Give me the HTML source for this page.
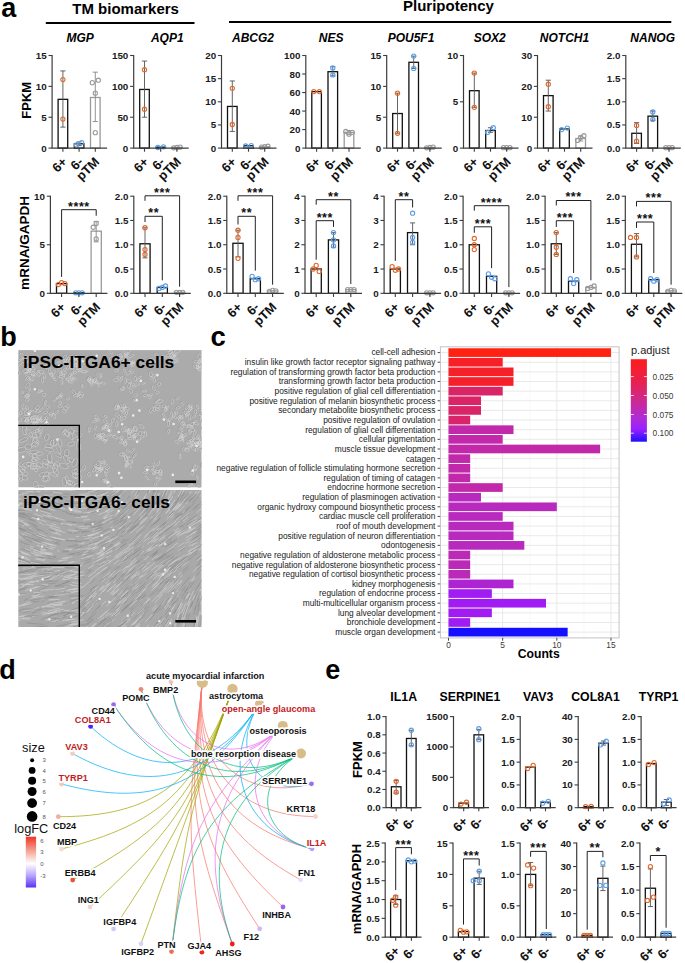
<!DOCTYPE html>
<html><head><meta charset="utf-8"><style>
html,body{margin:0;padding:0;background:#fff;}
body{width:685px;height:963px;overflow:hidden;}
svg{display:block;font-family:"Liberation Sans",sans-serif;}
</style></head><body>
<svg width="685" height="963" viewBox="0 0 685 963">
<rect width="685" height="963" fill="#fff"/>
<text x="1.2" y="16.6" font-size="27" font-weight="bold" text-anchor="start" fill="#000" >a</text>
<text x="125.6" y="14.3" font-size="15" font-weight="bold" text-anchor="middle" fill="#000" >TM biomarkers</text>
<text x="448.4" y="10.9" font-size="15" font-weight="bold" text-anchor="middle" fill="#000" >Pluripotency</text>
<line x1="45.8" y1="23" x2="194.5" y2="23" stroke="#000" stroke-width="2.2" />
<line x1="229" y1="22" x2="671.3" y2="22" stroke="#000" stroke-width="2.2" />
<text x="80.2" y="42" font-size="12" font-weight="bold" text-anchor="middle" fill="#000" font-style="italic" >MGP</text>
<text x="167.3" y="42" font-size="12" font-weight="bold" text-anchor="middle" fill="#000" font-style="italic" >AQP1</text>
<text x="253" y="42" font-size="12" font-weight="bold" text-anchor="middle" fill="#000" font-style="italic" >ABCG2</text>
<text x="331.2" y="42" font-size="12" font-weight="bold" text-anchor="middle" fill="#000" font-style="italic" >NES</text>
<text x="411" y="42" font-size="12" font-weight="bold" text-anchor="middle" fill="#000" font-style="italic" >POU5F1</text>
<text x="489.7" y="42" font-size="12" font-weight="bold" text-anchor="middle" fill="#000" font-style="italic" >SOX2</text>
<text x="564.5" y="42" font-size="12" font-weight="bold" text-anchor="middle" fill="#000" font-style="italic" >NOTCH1</text>
<text x="652.7" y="42" font-size="12" font-weight="bold" text-anchor="middle" fill="#000" font-style="italic" >NANOG</text>
<text x="0" y="0" font-size="13" font-weight="bold" text-anchor="middle" fill="#000" transform="translate(30.6,100.3) rotate(-90)">FPKM</text>
<text x="0" y="0" font-size="13.5" font-weight="bold" text-anchor="middle" fill="#000" transform="translate(28.6,243) rotate(-90)">mRNA/GAPDH</text>
<rect x="58.1" y="99.33" width="9.6" height="48.77" fill="#fff" stroke="#111" stroke-width="1.3"/>
<line x1="62.9" y1="127.11" x2="62.9" y2="70.93" stroke="#555" stroke-width="0.9" />
<line x1="60.3" y1="70.93" x2="65.5" y2="70.93" stroke="#555" stroke-width="0.9" />
<line x1="60.3" y1="127.11" x2="65.5" y2="127.11" stroke="#555" stroke-width="0.9" />
<circle cx="62.9" cy="79.58" r="2.1" fill="none" stroke="#e2692c" stroke-width="1.1"/>
<circle cx="62.9" cy="119.09" r="2.1" fill="none" stroke="#e2692c" stroke-width="1.1"/>
<rect x="74.3" y="143.78" width="9.6" height="4.32" fill="#fff" stroke="#111" stroke-width="1.3"/>
<line x1="79.1" y1="145.63" x2="79.1" y2="141.93" stroke="#555" stroke-width="0.9" />
<line x1="76.5" y1="141.93" x2="81.7" y2="141.93" stroke="#555" stroke-width="0.9" />
<line x1="76.5" y1="145.63" x2="81.7" y2="145.63" stroke="#555" stroke-width="0.9" />
<circle cx="76.5" cy="145.01" r="2.1" fill="none" stroke="#5c9fe6" stroke-width="1.1"/>
<circle cx="81.7" cy="142.54" r="2.1" fill="none" stroke="#5c9fe6" stroke-width="1.1"/>
<rect x="90.5" y="97.48" width="9.6" height="50.62" fill="#fff" stroke="#9a9a9a" stroke-width="1.3"/>
<line x1="95.3" y1="121.55" x2="95.3" y2="72.17" stroke="#888" stroke-width="0.9" />
<line x1="92.7" y1="72.17" x2="97.9" y2="72.17" stroke="#888" stroke-width="0.9" />
<line x1="92.7" y1="121.55" x2="97.9" y2="121.55" stroke="#888" stroke-width="0.9" />
<circle cx="92.3" cy="82.66" r="2.1" fill="none" stroke="#9a9a9a" stroke-width="1.1"/>
<circle cx="98.3" cy="80.19" r="2.1" fill="none" stroke="#9a9a9a" stroke-width="1.1"/>
<circle cx="95.3" cy="93.16" r="2.1" fill="none" stroke="#9a9a9a" stroke-width="1.1"/>
<circle cx="95.3" cy="132.67" r="2.1" fill="none" stroke="#9a9a9a" stroke-width="1.1"/>
<line x1="52.1" y1="55" x2="52.1" y2="148.1" stroke="#3c3c3c" stroke-width="1.2" />
<line x1="51.6" y1="148.1" x2="107.1" y2="148.1" stroke="#3c3c3c" stroke-width="1.2" />
<line x1="48.5" y1="148.1" x2="52.1" y2="148.1" stroke="#3c3c3c" stroke-width="1.1" />
<text x="46.7" y="151.6" font-size="9.8" font-weight="bold" text-anchor="end" fill="#1a1a1a" >0</text>
<line x1="48.5" y1="117.23" x2="52.1" y2="117.23" stroke="#3c3c3c" stroke-width="1.1" />
<text x="46.7" y="120.73" font-size="9.8" font-weight="bold" text-anchor="end" fill="#1a1a1a" >5</text>
<line x1="48.5" y1="86.37" x2="52.1" y2="86.37" stroke="#3c3c3c" stroke-width="1.1" />
<text x="46.7" y="89.87" font-size="9.8" font-weight="bold" text-anchor="end" fill="#1a1a1a" >10</text>
<line x1="48.5" y1="55.5" x2="52.1" y2="55.5" stroke="#3c3c3c" stroke-width="1.1" />
<text x="46.7" y="59" font-size="9.8" font-weight="bold" text-anchor="end" fill="#1a1a1a" >15</text>
<line x1="62.9" y1="148.1" x2="62.9" y2="151.7" stroke="#3c3c3c" stroke-width="1.1" />
<line x1="79.1" y1="148.1" x2="79.1" y2="151.7" stroke="#3c3c3c" stroke-width="1.1" />
<line x1="95.3" y1="148.1" x2="95.3" y2="151.7" stroke="#3c3c3c" stroke-width="1.1" />
<text x="0" y="0" font-size="12.8" font-weight="bold" text-anchor="end" fill="#111" transform="translate(67.7,162.7) rotate(-45)">6+</text>
<text x="0" y="0" font-size="12.8" font-weight="bold" text-anchor="end" fill="#111" transform="translate(83.9,162.7) rotate(-45)">6-</text>
<text x="0" y="0" font-size="12.8" font-weight="bold" text-anchor="end" fill="#111" transform="translate(100.1,162.7) rotate(-45)">pTM</text>
<rect x="139.7" y="89.45" width="9.6" height="58.65" fill="#fff" stroke="#111" stroke-width="1.3"/>
<line x1="144.5" y1="117.23" x2="144.5" y2="61.06" stroke="#555" stroke-width="0.9" />
<line x1="141.9" y1="61.06" x2="147.1" y2="61.06" stroke="#555" stroke-width="0.9" />
<line x1="141.9" y1="117.23" x2="147.1" y2="117.23" stroke="#555" stroke-width="0.9" />
<circle cx="144.5" cy="69.7" r="2.1" fill="none" stroke="#e2692c" stroke-width="1.1"/>
<circle cx="144.5" cy="109.21" r="2.1" fill="none" stroke="#e2692c" stroke-width="1.1"/>
<rect x="155.9" y="147.17" width="9.6" height="0.93" fill="#fff" stroke="#111" stroke-width="1.3"/>
<circle cx="157.9" cy="147.48" r="2.1" fill="none" stroke="#5c9fe6" stroke-width="1.1"/>
<circle cx="163.5" cy="146.87" r="2.1" fill="none" stroke="#5c9fe6" stroke-width="1.1"/>
<rect x="172.1" y="147.48" width="9.6" height="0.62" fill="#fff" stroke="#9a9a9a" stroke-width="1.3"/>
<circle cx="173.7" cy="147.79" r="2.1" fill="none" stroke="#9a9a9a" stroke-width="1.1"/>
<circle cx="176.9" cy="147.48" r="2.1" fill="none" stroke="#9a9a9a" stroke-width="1.1"/>
<circle cx="180.1" cy="147.17" r="2.1" fill="none" stroke="#9a9a9a" stroke-width="1.1"/>
<line x1="133.7" y1="55" x2="133.7" y2="148.1" stroke="#3c3c3c" stroke-width="1.2" />
<line x1="133.2" y1="148.1" x2="188.7" y2="148.1" stroke="#3c3c3c" stroke-width="1.2" />
<line x1="130.1" y1="148.1" x2="133.7" y2="148.1" stroke="#3c3c3c" stroke-width="1.1" />
<text x="128.3" y="151.6" font-size="9.8" font-weight="bold" text-anchor="end" fill="#1a1a1a" >0</text>
<line x1="130.1" y1="117.23" x2="133.7" y2="117.23" stroke="#3c3c3c" stroke-width="1.1" />
<text x="128.3" y="120.73" font-size="9.8" font-weight="bold" text-anchor="end" fill="#1a1a1a" >50</text>
<line x1="130.1" y1="86.37" x2="133.7" y2="86.37" stroke="#3c3c3c" stroke-width="1.1" />
<text x="128.3" y="89.87" font-size="9.8" font-weight="bold" text-anchor="end" fill="#1a1a1a" >100</text>
<line x1="130.1" y1="55.5" x2="133.7" y2="55.5" stroke="#3c3c3c" stroke-width="1.1" />
<text x="128.3" y="59" font-size="9.8" font-weight="bold" text-anchor="end" fill="#1a1a1a" >150</text>
<line x1="144.5" y1="148.1" x2="144.5" y2="151.7" stroke="#3c3c3c" stroke-width="1.1" />
<line x1="160.7" y1="148.1" x2="160.7" y2="151.7" stroke="#3c3c3c" stroke-width="1.1" />
<line x1="176.9" y1="148.1" x2="176.9" y2="151.7" stroke="#3c3c3c" stroke-width="1.1" />
<text x="0" y="0" font-size="12.8" font-weight="bold" text-anchor="end" fill="#111" transform="translate(149.3,162.7) rotate(-45)">6+</text>
<text x="0" y="0" font-size="12.8" font-weight="bold" text-anchor="end" fill="#111" transform="translate(165.5,162.7) rotate(-45)">6-</text>
<text x="0" y="0" font-size="12.8" font-weight="bold" text-anchor="end" fill="#111" transform="translate(181.7,162.7) rotate(-45)">pTM</text>
<rect x="227.5" y="106.43" width="9.6" height="41.67" fill="#fff" stroke="#111" stroke-width="1.3"/>
<line x1="232.3" y1="131.43" x2="232.3" y2="80.96" stroke="#555" stroke-width="0.9" />
<line x1="229.7" y1="80.96" x2="234.9" y2="80.96" stroke="#555" stroke-width="0.9" />
<line x1="229.7" y1="131.43" x2="234.9" y2="131.43" stroke="#555" stroke-width="0.9" />
<circle cx="232.3" cy="88.37" r="2.1" fill="none" stroke="#e2692c" stroke-width="1.1"/>
<circle cx="232.3" cy="124.49" r="2.1" fill="none" stroke="#e2692c" stroke-width="1.1"/>
<rect x="243.7" y="145.78" width="9.6" height="2.31" fill="#fff" stroke="#111" stroke-width="1.3"/>
<circle cx="245.7" cy="146.02" r="2.1" fill="none" stroke="#5c9fe6" stroke-width="1.1"/>
<circle cx="251.3" cy="145.55" r="2.1" fill="none" stroke="#5c9fe6" stroke-width="1.1"/>
<rect x="259.9" y="146.71" width="9.6" height="1.39" fill="#fff" stroke="#9a9a9a" stroke-width="1.3"/>
<circle cx="261.5" cy="147.17" r="2.1" fill="none" stroke="#9a9a9a" stroke-width="1.1"/>
<circle cx="264.7" cy="146.71" r="2.1" fill="none" stroke="#9a9a9a" stroke-width="1.1"/>
<circle cx="267.9" cy="146.25" r="2.1" fill="none" stroke="#9a9a9a" stroke-width="1.1"/>
<line x1="221.5" y1="55" x2="221.5" y2="148.1" stroke="#3c3c3c" stroke-width="1.2" />
<line x1="221" y1="148.1" x2="276.5" y2="148.1" stroke="#3c3c3c" stroke-width="1.2" />
<line x1="217.9" y1="148.1" x2="221.5" y2="148.1" stroke="#3c3c3c" stroke-width="1.1" />
<text x="216.1" y="151.6" font-size="9.8" font-weight="bold" text-anchor="end" fill="#1a1a1a" >0</text>
<line x1="217.9" y1="124.95" x2="221.5" y2="124.95" stroke="#3c3c3c" stroke-width="1.1" />
<text x="216.1" y="128.45" font-size="9.8" font-weight="bold" text-anchor="end" fill="#1a1a1a" >5</text>
<line x1="217.9" y1="101.8" x2="221.5" y2="101.8" stroke="#3c3c3c" stroke-width="1.1" />
<text x="216.1" y="105.3" font-size="9.8" font-weight="bold" text-anchor="end" fill="#1a1a1a" >10</text>
<line x1="217.9" y1="78.65" x2="221.5" y2="78.65" stroke="#3c3c3c" stroke-width="1.1" />
<text x="216.1" y="82.15" font-size="9.8" font-weight="bold" text-anchor="end" fill="#1a1a1a" >15</text>
<line x1="217.9" y1="55.5" x2="221.5" y2="55.5" stroke="#3c3c3c" stroke-width="1.1" />
<text x="216.1" y="59" font-size="9.8" font-weight="bold" text-anchor="end" fill="#1a1a1a" >20</text>
<line x1="232.3" y1="148.1" x2="232.3" y2="151.7" stroke="#3c3c3c" stroke-width="1.1" />
<line x1="248.5" y1="148.1" x2="248.5" y2="151.7" stroke="#3c3c3c" stroke-width="1.1" />
<line x1="264.7" y1="148.1" x2="264.7" y2="151.7" stroke="#3c3c3c" stroke-width="1.1" />
<text x="0" y="0" font-size="12.8" font-weight="bold" text-anchor="end" fill="#111" transform="translate(237.1,162.7) rotate(-45)">6+</text>
<text x="0" y="0" font-size="12.8" font-weight="bold" text-anchor="end" fill="#111" transform="translate(253.3,162.7) rotate(-45)">6-</text>
<text x="0" y="0" font-size="12.8" font-weight="bold" text-anchor="end" fill="#111" transform="translate(269.5,162.7) rotate(-45)">pTM</text>
<rect x="311.8" y="91.61" width="9.6" height="56.49" fill="#fff" stroke="#111" stroke-width="1.3"/>
<circle cx="313.8" cy="91.61" r="2.1" fill="none" stroke="#e2692c" stroke-width="1.1"/>
<circle cx="319.4" cy="91.61" r="2.1" fill="none" stroke="#e2692c" stroke-width="1.1"/>
<rect x="328" y="71.7" width="9.6" height="76.39" fill="#fff" stroke="#111" stroke-width="1.3"/>
<line x1="332.8" y1="75.87" x2="332.8" y2="66.61" stroke="#555" stroke-width="0.9" />
<line x1="330.2" y1="66.61" x2="335.4" y2="66.61" stroke="#555" stroke-width="0.9" />
<line x1="330.2" y1="75.87" x2="335.4" y2="75.87" stroke="#555" stroke-width="0.9" />
<circle cx="332.8" cy="68" r="2.1" fill="none" stroke="#5c9fe6" stroke-width="1.1"/>
<circle cx="332.8" cy="74.95" r="2.1" fill="none" stroke="#5c9fe6" stroke-width="1.1"/>
<rect x="344.2" y="132.36" width="9.6" height="15.74" fill="#fff" stroke="#9a9a9a" stroke-width="1.3"/>
<line x1="349" y1="134.67" x2="349" y2="130.51" stroke="#888" stroke-width="0.9" />
<line x1="346.4" y1="130.51" x2="351.6" y2="130.51" stroke="#888" stroke-width="0.9" />
<line x1="346.4" y1="134.67" x2="351.6" y2="134.67" stroke="#888" stroke-width="0.9" />
<circle cx="345.8" cy="131.43" r="2.1" fill="none" stroke="#9a9a9a" stroke-width="1.1"/>
<circle cx="349" cy="134.21" r="2.1" fill="none" stroke="#9a9a9a" stroke-width="1.1"/>
<circle cx="352.2" cy="132.36" r="2.1" fill="none" stroke="#9a9a9a" stroke-width="1.1"/>
<line x1="305.8" y1="55" x2="305.8" y2="148.1" stroke="#3c3c3c" stroke-width="1.2" />
<line x1="305.3" y1="148.1" x2="360.8" y2="148.1" stroke="#3c3c3c" stroke-width="1.2" />
<line x1="302.2" y1="148.1" x2="305.8" y2="148.1" stroke="#3c3c3c" stroke-width="1.1" />
<text x="300.4" y="151.6" font-size="9.8" font-weight="bold" text-anchor="end" fill="#1a1a1a" >0</text>
<line x1="302.2" y1="129.58" x2="305.8" y2="129.58" stroke="#3c3c3c" stroke-width="1.1" />
<text x="300.4" y="133.08" font-size="9.8" font-weight="bold" text-anchor="end" fill="#1a1a1a" >20</text>
<line x1="302.2" y1="111.06" x2="305.8" y2="111.06" stroke="#3c3c3c" stroke-width="1.1" />
<text x="300.4" y="114.56" font-size="9.8" font-weight="bold" text-anchor="end" fill="#1a1a1a" >40</text>
<line x1="302.2" y1="92.54" x2="305.8" y2="92.54" stroke="#3c3c3c" stroke-width="1.1" />
<text x="300.4" y="96.04" font-size="9.8" font-weight="bold" text-anchor="end" fill="#1a1a1a" >60</text>
<line x1="302.2" y1="74.02" x2="305.8" y2="74.02" stroke="#3c3c3c" stroke-width="1.1" />
<text x="300.4" y="77.52" font-size="9.8" font-weight="bold" text-anchor="end" fill="#1a1a1a" >80</text>
<line x1="302.2" y1="55.5" x2="305.8" y2="55.5" stroke="#3c3c3c" stroke-width="1.1" />
<text x="300.4" y="59" font-size="9.8" font-weight="bold" text-anchor="end" fill="#1a1a1a" >100</text>
<line x1="316.6" y1="148.1" x2="316.6" y2="151.7" stroke="#3c3c3c" stroke-width="1.1" />
<line x1="332.8" y1="148.1" x2="332.8" y2="151.7" stroke="#3c3c3c" stroke-width="1.1" />
<line x1="349" y1="148.1" x2="349" y2="151.7" stroke="#3c3c3c" stroke-width="1.1" />
<text x="0" y="0" font-size="12.8" font-weight="bold" text-anchor="end" fill="#111" transform="translate(321.4,162.7) rotate(-45)">6+</text>
<text x="0" y="0" font-size="12.8" font-weight="bold" text-anchor="end" fill="#111" transform="translate(337.6,162.7) rotate(-45)">6-</text>
<text x="0" y="0" font-size="12.8" font-weight="bold" text-anchor="end" fill="#111" transform="translate(353.8,162.7) rotate(-45)">pTM</text>
<rect x="392.7" y="113.53" width="9.6" height="34.57" fill="#fff" stroke="#111" stroke-width="1.3"/>
<line x1="397.5" y1="133.28" x2="397.5" y2="93.16" stroke="#555" stroke-width="0.9" />
<line x1="394.9" y1="93.16" x2="400.1" y2="93.16" stroke="#555" stroke-width="0.9" />
<line x1="394.9" y1="133.28" x2="400.1" y2="133.28" stroke="#555" stroke-width="0.9" />
<circle cx="397.5" cy="93.16" r="2.1" fill="none" stroke="#e2692c" stroke-width="1.1"/>
<circle cx="397.5" cy="133.28" r="2.1" fill="none" stroke="#e2692c" stroke-width="1.1"/>
<rect x="408.9" y="62.29" width="9.6" height="85.81" fill="#fff" stroke="#111" stroke-width="1.3"/>
<line x1="413.7" y1="68.46" x2="413.7" y2="56.12" stroke="#555" stroke-width="0.9" />
<line x1="411.1" y1="56.12" x2="416.3" y2="56.12" stroke="#555" stroke-width="0.9" />
<line x1="411.1" y1="68.46" x2="416.3" y2="68.46" stroke="#555" stroke-width="0.9" />
<circle cx="413.7" cy="56.12" r="2.1" fill="none" stroke="#5c9fe6" stroke-width="1.1"/>
<circle cx="413.7" cy="68.46" r="2.1" fill="none" stroke="#5c9fe6" stroke-width="1.1"/>
<rect x="425.1" y="147.48" width="9.6" height="0.62" fill="#fff" stroke="#9a9a9a" stroke-width="1.3"/>
<circle cx="426.7" cy="147.79" r="2.1" fill="none" stroke="#9a9a9a" stroke-width="1.1"/>
<circle cx="429.9" cy="147.48" r="2.1" fill="none" stroke="#9a9a9a" stroke-width="1.1"/>
<circle cx="433.1" cy="147.17" r="2.1" fill="none" stroke="#9a9a9a" stroke-width="1.1"/>
<line x1="386.7" y1="55" x2="386.7" y2="148.1" stroke="#3c3c3c" stroke-width="1.2" />
<line x1="386.2" y1="148.1" x2="441.7" y2="148.1" stroke="#3c3c3c" stroke-width="1.2" />
<line x1="383.1" y1="148.1" x2="386.7" y2="148.1" stroke="#3c3c3c" stroke-width="1.1" />
<text x="381.3" y="151.6" font-size="9.8" font-weight="bold" text-anchor="end" fill="#1a1a1a" >0</text>
<line x1="383.1" y1="117.23" x2="386.7" y2="117.23" stroke="#3c3c3c" stroke-width="1.1" />
<text x="381.3" y="120.73" font-size="9.8" font-weight="bold" text-anchor="end" fill="#1a1a1a" >5</text>
<line x1="383.1" y1="86.37" x2="386.7" y2="86.37" stroke="#3c3c3c" stroke-width="1.1" />
<text x="381.3" y="89.87" font-size="9.8" font-weight="bold" text-anchor="end" fill="#1a1a1a" >10</text>
<line x1="383.1" y1="55.5" x2="386.7" y2="55.5" stroke="#3c3c3c" stroke-width="1.1" />
<text x="381.3" y="59" font-size="9.8" font-weight="bold" text-anchor="end" fill="#1a1a1a" >15</text>
<line x1="397.5" y1="148.1" x2="397.5" y2="151.7" stroke="#3c3c3c" stroke-width="1.1" />
<line x1="413.7" y1="148.1" x2="413.7" y2="151.7" stroke="#3c3c3c" stroke-width="1.1" />
<line x1="429.9" y1="148.1" x2="429.9" y2="151.7" stroke="#3c3c3c" stroke-width="1.1" />
<text x="0" y="0" font-size="12.8" font-weight="bold" text-anchor="end" fill="#111" transform="translate(402.3,162.7) rotate(-45)">6+</text>
<text x="0" y="0" font-size="12.8" font-weight="bold" text-anchor="end" fill="#111" transform="translate(418.5,162.7) rotate(-45)">6-</text>
<text x="0" y="0" font-size="12.8" font-weight="bold" text-anchor="end" fill="#111" transform="translate(434.7,162.7) rotate(-45)">pTM</text>
<rect x="469.5" y="90.69" width="9.6" height="57.41" fill="#fff" stroke="#111" stroke-width="1.3"/>
<line x1="474.3" y1="107.36" x2="474.3" y2="73.09" stroke="#555" stroke-width="0.9" />
<line x1="471.7" y1="73.09" x2="476.9" y2="73.09" stroke="#555" stroke-width="0.9" />
<line x1="471.7" y1="107.36" x2="476.9" y2="107.36" stroke="#555" stroke-width="0.9" />
<circle cx="474.3" cy="73.09" r="2.1" fill="none" stroke="#e2692c" stroke-width="1.1"/>
<circle cx="474.3" cy="107.36" r="2.1" fill="none" stroke="#e2692c" stroke-width="1.1"/>
<rect x="485.7" y="130.51" width="9.6" height="17.59" fill="#fff" stroke="#111" stroke-width="1.3"/>
<line x1="490.5" y1="132.36" x2="490.5" y2="127.73" stroke="#555" stroke-width="0.9" />
<line x1="487.9" y1="127.73" x2="493.1" y2="127.73" stroke="#555" stroke-width="0.9" />
<line x1="487.9" y1="132.36" x2="493.1" y2="132.36" stroke="#555" stroke-width="0.9" />
<circle cx="487.7" cy="132.36" r="2.1" fill="none" stroke="#5c9fe6" stroke-width="1.1"/>
<circle cx="493.3" cy="127.73" r="2.1" fill="none" stroke="#5c9fe6" stroke-width="1.1"/>
<rect x="501.9" y="147.64" width="9.6" height="0.46" fill="#fff" stroke="#9a9a9a" stroke-width="1.3"/>
<circle cx="503.5" cy="147.64" r="2.1" fill="none" stroke="#9a9a9a" stroke-width="1.1"/>
<circle cx="506.7" cy="147.64" r="2.1" fill="none" stroke="#9a9a9a" stroke-width="1.1"/>
<circle cx="509.9" cy="147.64" r="2.1" fill="none" stroke="#9a9a9a" stroke-width="1.1"/>
<line x1="463.5" y1="55" x2="463.5" y2="148.1" stroke="#3c3c3c" stroke-width="1.2" />
<line x1="463" y1="148.1" x2="518.5" y2="148.1" stroke="#3c3c3c" stroke-width="1.2" />
<line x1="459.9" y1="148.1" x2="463.5" y2="148.1" stroke="#3c3c3c" stroke-width="1.1" />
<text x="458.1" y="151.6" font-size="9.8" font-weight="bold" text-anchor="end" fill="#1a1a1a" >0</text>
<line x1="459.9" y1="101.8" x2="463.5" y2="101.8" stroke="#3c3c3c" stroke-width="1.1" />
<text x="458.1" y="105.3" font-size="9.8" font-weight="bold" text-anchor="end" fill="#1a1a1a" >5</text>
<line x1="459.9" y1="55.5" x2="463.5" y2="55.5" stroke="#3c3c3c" stroke-width="1.1" />
<text x="458.1" y="59" font-size="9.8" font-weight="bold" text-anchor="end" fill="#1a1a1a" >10</text>
<line x1="474.3" y1="148.1" x2="474.3" y2="151.7" stroke="#3c3c3c" stroke-width="1.1" />
<line x1="490.5" y1="148.1" x2="490.5" y2="151.7" stroke="#3c3c3c" stroke-width="1.1" />
<line x1="506.7" y1="148.1" x2="506.7" y2="151.7" stroke="#3c3c3c" stroke-width="1.1" />
<text x="0" y="0" font-size="12.8" font-weight="bold" text-anchor="end" fill="#111" transform="translate(479.1,162.7) rotate(-45)">6+</text>
<text x="0" y="0" font-size="12.8" font-weight="bold" text-anchor="end" fill="#111" transform="translate(495.3,162.7) rotate(-45)">6-</text>
<text x="0" y="0" font-size="12.8" font-weight="bold" text-anchor="end" fill="#111" transform="translate(511.5,162.7) rotate(-45)">pTM</text>
<rect x="543.5" y="95.63" width="9.6" height="52.47" fill="#fff" stroke="#111" stroke-width="1.3"/>
<line x1="548.3" y1="111.06" x2="548.3" y2="80.19" stroke="#555" stroke-width="0.9" />
<line x1="545.7" y1="80.19" x2="550.9" y2="80.19" stroke="#555" stroke-width="0.9" />
<line x1="545.7" y1="111.06" x2="550.9" y2="111.06" stroke="#555" stroke-width="0.9" />
<circle cx="548.3" cy="84.21" r="2.1" fill="none" stroke="#e2692c" stroke-width="1.1"/>
<circle cx="548.3" cy="106.74" r="2.1" fill="none" stroke="#e2692c" stroke-width="1.1"/>
<rect x="559.7" y="128.96" width="9.6" height="19.14" fill="#fff" stroke="#111" stroke-width="1.3"/>
<circle cx="561.7" cy="129.58" r="2.1" fill="none" stroke="#5c9fe6" stroke-width="1.1"/>
<circle cx="567.3" cy="128.04" r="2.1" fill="none" stroke="#5c9fe6" stroke-width="1.1"/>
<rect x="575.9" y="138.53" width="9.6" height="9.57" fill="#fff" stroke="#9a9a9a" stroke-width="1.3"/>
<line x1="580.7" y1="141" x2="580.7" y2="136.06" stroke="#888" stroke-width="0.9" />
<line x1="578.1" y1="136.06" x2="583.3" y2="136.06" stroke="#888" stroke-width="0.9" />
<line x1="578.1" y1="141" x2="583.3" y2="141" stroke="#888" stroke-width="0.9" />
<circle cx="577.5" cy="140.38" r="2.1" fill="none" stroke="#9a9a9a" stroke-width="1.1"/>
<circle cx="580.7" cy="137.3" r="2.1" fill="none" stroke="#9a9a9a" stroke-width="1.1"/>
<circle cx="583.9" cy="135.75" r="2.1" fill="none" stroke="#9a9a9a" stroke-width="1.1"/>
<line x1="537.5" y1="55" x2="537.5" y2="148.1" stroke="#3c3c3c" stroke-width="1.2" />
<line x1="537" y1="148.1" x2="592.5" y2="148.1" stroke="#3c3c3c" stroke-width="1.2" />
<line x1="533.9" y1="148.1" x2="537.5" y2="148.1" stroke="#3c3c3c" stroke-width="1.1" />
<text x="532.1" y="151.6" font-size="9.8" font-weight="bold" text-anchor="end" fill="#1a1a1a" >0</text>
<line x1="533.9" y1="117.23" x2="537.5" y2="117.23" stroke="#3c3c3c" stroke-width="1.1" />
<text x="532.1" y="120.73" font-size="9.8" font-weight="bold" text-anchor="end" fill="#1a1a1a" >10</text>
<line x1="533.9" y1="86.37" x2="537.5" y2="86.37" stroke="#3c3c3c" stroke-width="1.1" />
<text x="532.1" y="89.87" font-size="9.8" font-weight="bold" text-anchor="end" fill="#1a1a1a" >20</text>
<line x1="533.9" y1="55.5" x2="537.5" y2="55.5" stroke="#3c3c3c" stroke-width="1.1" />
<text x="532.1" y="59" font-size="9.8" font-weight="bold" text-anchor="end" fill="#1a1a1a" >30</text>
<line x1="548.3" y1="148.1" x2="548.3" y2="151.7" stroke="#3c3c3c" stroke-width="1.1" />
<line x1="564.5" y1="148.1" x2="564.5" y2="151.7" stroke="#3c3c3c" stroke-width="1.1" />
<line x1="580.7" y1="148.1" x2="580.7" y2="151.7" stroke="#3c3c3c" stroke-width="1.1" />
<text x="0" y="0" font-size="12.8" font-weight="bold" text-anchor="end" fill="#111" transform="translate(553.1,162.7) rotate(-45)">6+</text>
<text x="0" y="0" font-size="12.8" font-weight="bold" text-anchor="end" fill="#111" transform="translate(569.3,162.7) rotate(-45)">6-</text>
<text x="0" y="0" font-size="12.8" font-weight="bold" text-anchor="end" fill="#111" transform="translate(585.5,162.7) rotate(-45)">pTM</text>
<rect x="631.8" y="133.28" width="9.6" height="14.82" fill="#fff" stroke="#111" stroke-width="1.3"/>
<line x1="636.6" y1="143.47" x2="636.6" y2="122.63" stroke="#555" stroke-width="0.9" />
<line x1="634" y1="122.63" x2="639.2" y2="122.63" stroke="#555" stroke-width="0.9" />
<line x1="634" y1="143.47" x2="639.2" y2="143.47" stroke="#555" stroke-width="0.9" />
<circle cx="636.6" cy="125.41" r="2.1" fill="none" stroke="#e2692c" stroke-width="1.1"/>
<circle cx="636.6" cy="141.16" r="2.1" fill="none" stroke="#e2692c" stroke-width="1.1"/>
<rect x="648" y="116.15" width="9.6" height="31.95" fill="#fff" stroke="#111" stroke-width="1.3"/>
<line x1="652.8" y1="120.32" x2="652.8" y2="111.06" stroke="#555" stroke-width="0.9" />
<line x1="650.2" y1="111.06" x2="655.4" y2="111.06" stroke="#555" stroke-width="0.9" />
<line x1="650.2" y1="120.32" x2="655.4" y2="120.32" stroke="#555" stroke-width="0.9" />
<circle cx="652.8" cy="111.99" r="2.1" fill="none" stroke="#5c9fe6" stroke-width="1.1"/>
<circle cx="652.8" cy="119.39" r="2.1" fill="none" stroke="#5c9fe6" stroke-width="1.1"/>
<rect x="664.2" y="147.64" width="9.6" height="0.46" fill="#fff" stroke="#9a9a9a" stroke-width="1.3"/>
<circle cx="665.8" cy="147.64" r="2.1" fill="none" stroke="#9a9a9a" stroke-width="1.1"/>
<circle cx="669" cy="147.64" r="2.1" fill="none" stroke="#9a9a9a" stroke-width="1.1"/>
<circle cx="672.2" cy="147.64" r="2.1" fill="none" stroke="#9a9a9a" stroke-width="1.1"/>
<line x1="625.8" y1="55" x2="625.8" y2="148.1" stroke="#3c3c3c" stroke-width="1.2" />
<line x1="625.3" y1="148.1" x2="680.8" y2="148.1" stroke="#3c3c3c" stroke-width="1.2" />
<line x1="622.2" y1="148.1" x2="625.8" y2="148.1" stroke="#3c3c3c" stroke-width="1.1" />
<text x="620.4" y="151.6" font-size="9.8" font-weight="bold" text-anchor="end" fill="#1a1a1a" >0.0</text>
<line x1="622.2" y1="124.95" x2="625.8" y2="124.95" stroke="#3c3c3c" stroke-width="1.1" />
<text x="620.4" y="128.45" font-size="9.8" font-weight="bold" text-anchor="end" fill="#1a1a1a" >0.5</text>
<line x1="622.2" y1="101.8" x2="625.8" y2="101.8" stroke="#3c3c3c" stroke-width="1.1" />
<text x="620.4" y="105.3" font-size="9.8" font-weight="bold" text-anchor="end" fill="#1a1a1a" >1.0</text>
<line x1="622.2" y1="78.65" x2="625.8" y2="78.65" stroke="#3c3c3c" stroke-width="1.1" />
<text x="620.4" y="82.15" font-size="9.8" font-weight="bold" text-anchor="end" fill="#1a1a1a" >1.5</text>
<line x1="622.2" y1="55.5" x2="625.8" y2="55.5" stroke="#3c3c3c" stroke-width="1.1" />
<text x="620.4" y="59" font-size="9.8" font-weight="bold" text-anchor="end" fill="#1a1a1a" >2.0</text>
<line x1="636.6" y1="148.1" x2="636.6" y2="151.7" stroke="#3c3c3c" stroke-width="1.1" />
<line x1="652.8" y1="148.1" x2="652.8" y2="151.7" stroke="#3c3c3c" stroke-width="1.1" />
<line x1="669" y1="148.1" x2="669" y2="151.7" stroke="#3c3c3c" stroke-width="1.1" />
<text x="0" y="0" font-size="12.8" font-weight="bold" text-anchor="end" fill="#111" transform="translate(641.4,162.7) rotate(-45)">6+</text>
<text x="0" y="0" font-size="12.8" font-weight="bold" text-anchor="end" fill="#111" transform="translate(657.6,162.7) rotate(-45)">6-</text>
<text x="0" y="0" font-size="12.8" font-weight="bold" text-anchor="end" fill="#111" transform="translate(673.8,162.7) rotate(-45)">pTM</text>
<rect x="56.5" y="283.59" width="10.2" height="9.71" fill="#fff" stroke="#111" stroke-width="1.3"/>
<circle cx="58.4" cy="284.56" r="2.1" fill="none" stroke="#e2692c" stroke-width="1.1"/>
<circle cx="61.6" cy="282.62" r="2.1" fill="none" stroke="#e2692c" stroke-width="1.1"/>
<circle cx="64.8" cy="283.59" r="2.1" fill="none" stroke="#e2692c" stroke-width="1.1"/>
<rect x="73.8" y="292.81" width="10.2" height="0.49" fill="#fff" stroke="#111" stroke-width="1.3"/>
<circle cx="75.7" cy="292.81" r="2.1" fill="none" stroke="#5c9fe6" stroke-width="1.1"/>
<circle cx="78.9" cy="292.81" r="2.1" fill="none" stroke="#5c9fe6" stroke-width="1.1"/>
<circle cx="82.1" cy="292.81" r="2.1" fill="none" stroke="#5c9fe6" stroke-width="1.1"/>
<rect x="91.1" y="231.16" width="10.2" height="62.14" fill="#fff" stroke="#9a9a9a" stroke-width="1.3"/>
<line x1="96.2" y1="241.84" x2="96.2" y2="221.45" stroke="#888" stroke-width="0.9" />
<line x1="93.6" y1="221.45" x2="98.8" y2="221.45" stroke="#888" stroke-width="0.9" />
<line x1="93.6" y1="241.84" x2="98.8" y2="241.84" stroke="#888" stroke-width="0.9" />
<circle cx="96.2" cy="223.39" r="2.1" fill="none" stroke="#9a9a9a" stroke-width="1.1"/>
<circle cx="93.2" cy="227.27" r="2.1" fill="none" stroke="#9a9a9a" stroke-width="1.1"/>
<circle cx="96.2" cy="238.92" r="2.1" fill="none" stroke="#9a9a9a" stroke-width="1.1"/>
<line x1="50.4" y1="195.7" x2="50.4" y2="293.3" stroke="#3c3c3c" stroke-width="1.2" />
<line x1="49.9" y1="293.3" x2="107.4" y2="293.3" stroke="#3c3c3c" stroke-width="1.2" />
<line x1="46.8" y1="293.3" x2="50.4" y2="293.3" stroke="#3c3c3c" stroke-width="1.1" />
<text x="45" y="296.8" font-size="9.8" font-weight="bold" text-anchor="end" fill="#1a1a1a" >0</text>
<line x1="46.8" y1="244.75" x2="50.4" y2="244.75" stroke="#3c3c3c" stroke-width="1.1" />
<text x="45" y="248.25" font-size="9.8" font-weight="bold" text-anchor="end" fill="#1a1a1a" >5</text>
<line x1="46.8" y1="196.2" x2="50.4" y2="196.2" stroke="#3c3c3c" stroke-width="1.1" />
<text x="45" y="199.7" font-size="9.8" font-weight="bold" text-anchor="end" fill="#1a1a1a" >10</text>
<line x1="61.6" y1="293.3" x2="61.6" y2="296.9" stroke="#3c3c3c" stroke-width="1.1" />
<line x1="78.9" y1="293.3" x2="78.9" y2="296.9" stroke="#3c3c3c" stroke-width="1.1" />
<line x1="96.2" y1="293.3" x2="96.2" y2="296.9" stroke="#3c3c3c" stroke-width="1.1" />
<text x="0" y="0" font-size="12.8" font-weight="bold" text-anchor="end" fill="#111" transform="translate(66.4,307.9) rotate(-45)">6+</text>
<text x="0" y="0" font-size="12.8" font-weight="bold" text-anchor="end" fill="#111" transform="translate(83.7,307.9) rotate(-45)">6-</text>
<text x="0" y="0" font-size="12.8" font-weight="bold" text-anchor="end" fill="#111" transform="translate(101,307.9) rotate(-45)">pTM</text>
<polyline points="61.6,276.92 61.6,209.7 96.2,209.7 96.2,215.75" fill="none" stroke="#222" stroke-width="1.0"/>
<text x="78.9" y="210.6" font-size="12.5" font-weight="bold" text-anchor="middle" fill="#111" letter-spacing="0.6">****</text>
<rect x="139.9" y="243.78" width="10.2" height="49.52" fill="#fff" stroke="#111" stroke-width="1.3"/>
<line x1="145" y1="257.86" x2="145" y2="227.76" stroke="#555" stroke-width="0.9" />
<line x1="142.4" y1="227.76" x2="147.6" y2="227.76" stroke="#555" stroke-width="0.9" />
<line x1="142.4" y1="257.86" x2="147.6" y2="257.86" stroke="#555" stroke-width="0.9" />
<circle cx="145" cy="227.76" r="2.1" fill="none" stroke="#e2692c" stroke-width="1.1"/>
<circle cx="145" cy="249.6" r="2.1" fill="none" stroke="#e2692c" stroke-width="1.1"/>
<circle cx="145" cy="254.46" r="2.1" fill="none" stroke="#e2692c" stroke-width="1.1"/>
<rect x="157.2" y="287.47" width="10.2" height="5.83" fill="#fff" stroke="#111" stroke-width="1.3"/>
<circle cx="159.1" cy="288.44" r="2.1" fill="none" stroke="#5c9fe6" stroke-width="1.1"/>
<circle cx="162.3" cy="287.47" r="2.1" fill="none" stroke="#5c9fe6" stroke-width="1.1"/>
<circle cx="165.5" cy="286.02" r="2.1" fill="none" stroke="#5c9fe6" stroke-width="1.1"/>
<rect x="174.5" y="292.33" width="10.2" height="0.97" fill="#fff" stroke="#9a9a9a" stroke-width="1.3"/>
<circle cx="176.4" cy="292.33" r="2.1" fill="none" stroke="#9a9a9a" stroke-width="1.1"/>
<circle cx="179.6" cy="292.33" r="2.1" fill="none" stroke="#9a9a9a" stroke-width="1.1"/>
<circle cx="182.8" cy="292.33" r="2.1" fill="none" stroke="#9a9a9a" stroke-width="1.1"/>
<line x1="133.8" y1="195.7" x2="133.8" y2="293.3" stroke="#3c3c3c" stroke-width="1.2" />
<line x1="133.3" y1="293.3" x2="190.8" y2="293.3" stroke="#3c3c3c" stroke-width="1.2" />
<line x1="130.2" y1="293.3" x2="133.8" y2="293.3" stroke="#3c3c3c" stroke-width="1.1" />
<text x="128.4" y="296.8" font-size="9.8" font-weight="bold" text-anchor="end" fill="#1a1a1a" >0.0</text>
<line x1="130.2" y1="269.02" x2="133.8" y2="269.02" stroke="#3c3c3c" stroke-width="1.1" />
<text x="128.4" y="272.52" font-size="9.8" font-weight="bold" text-anchor="end" fill="#1a1a1a" >0.5</text>
<line x1="130.2" y1="244.75" x2="133.8" y2="244.75" stroke="#3c3c3c" stroke-width="1.1" />
<text x="128.4" y="248.25" font-size="9.8" font-weight="bold" text-anchor="end" fill="#1a1a1a" >1.0</text>
<line x1="130.2" y1="220.47" x2="133.8" y2="220.47" stroke="#3c3c3c" stroke-width="1.1" />
<text x="128.4" y="223.97" font-size="9.8" font-weight="bold" text-anchor="end" fill="#1a1a1a" >1.5</text>
<line x1="130.2" y1="196.2" x2="133.8" y2="196.2" stroke="#3c3c3c" stroke-width="1.1" />
<text x="128.4" y="199.7" font-size="9.8" font-weight="bold" text-anchor="end" fill="#1a1a1a" >2.0</text>
<line x1="145" y1="293.3" x2="145" y2="296.9" stroke="#3c3c3c" stroke-width="1.1" />
<line x1="162.3" y1="293.3" x2="162.3" y2="296.9" stroke="#3c3c3c" stroke-width="1.1" />
<line x1="179.6" y1="293.3" x2="179.6" y2="296.9" stroke="#3c3c3c" stroke-width="1.1" />
<text x="0" y="0" font-size="12.8" font-weight="bold" text-anchor="end" fill="#111" transform="translate(149.8,307.9) rotate(-45)">6+</text>
<text x="0" y="0" font-size="12.8" font-weight="bold" text-anchor="end" fill="#111" transform="translate(167.1,307.9) rotate(-45)">6-</text>
<text x="0" y="0" font-size="12.8" font-weight="bold" text-anchor="end" fill="#111" transform="translate(184.4,307.9) rotate(-45)">pTM</text>
<polyline points="145,222.06 145,216.3 162.3,216.3 162.3,280.32" fill="none" stroke="#222" stroke-width="1.0"/>
<text x="153.65" y="217.2" font-size="12.5" font-weight="bold" text-anchor="middle" fill="#111" letter-spacing="0.6">**</text>
<polyline points="145,200.8 145,195.8 179.6,195.8 179.6,286.63" fill="none" stroke="#222" stroke-width="1.0"/>
<text x="162.3" y="196.7" font-size="12.5" font-weight="bold" text-anchor="middle" fill="#111" letter-spacing="0.6">***</text>
<rect x="232.9" y="243.29" width="10.2" height="50.01" fill="#fff" stroke="#111" stroke-width="1.3"/>
<line x1="238" y1="256.89" x2="238" y2="230.19" stroke="#555" stroke-width="0.9" />
<line x1="235.4" y1="230.19" x2="240.6" y2="230.19" stroke="#555" stroke-width="0.9" />
<line x1="235.4" y1="256.89" x2="240.6" y2="256.89" stroke="#555" stroke-width="0.9" />
<circle cx="238" cy="230.19" r="2.1" fill="none" stroke="#e2692c" stroke-width="1.1"/>
<circle cx="238" cy="237.47" r="2.1" fill="none" stroke="#e2692c" stroke-width="1.1"/>
<circle cx="238" cy="258.34" r="2.1" fill="none" stroke="#e2692c" stroke-width="1.1"/>
<rect x="250.2" y="278.74" width="10.2" height="14.57" fill="#fff" stroke="#111" stroke-width="1.3"/>
<circle cx="252.1" cy="276.31" r="2.1" fill="none" stroke="#5c9fe6" stroke-width="1.1"/>
<circle cx="255.3" cy="279.71" r="2.1" fill="none" stroke="#5c9fe6" stroke-width="1.1"/>
<circle cx="258.5" cy="278.74" r="2.1" fill="none" stroke="#5c9fe6" stroke-width="1.1"/>
<rect x="267.5" y="290.87" width="10.2" height="2.43" fill="#fff" stroke="#9a9a9a" stroke-width="1.3"/>
<circle cx="269.4" cy="291.36" r="2.1" fill="none" stroke="#9a9a9a" stroke-width="1.1"/>
<circle cx="272.6" cy="290.39" r="2.1" fill="none" stroke="#9a9a9a" stroke-width="1.1"/>
<circle cx="275.8" cy="290.87" r="2.1" fill="none" stroke="#9a9a9a" stroke-width="1.1"/>
<line x1="226.8" y1="195.7" x2="226.8" y2="293.3" stroke="#3c3c3c" stroke-width="1.2" />
<line x1="226.3" y1="293.3" x2="283.8" y2="293.3" stroke="#3c3c3c" stroke-width="1.2" />
<line x1="223.2" y1="293.3" x2="226.8" y2="293.3" stroke="#3c3c3c" stroke-width="1.1" />
<text x="221.4" y="296.8" font-size="9.8" font-weight="bold" text-anchor="end" fill="#1a1a1a" >0.0</text>
<line x1="223.2" y1="269.02" x2="226.8" y2="269.02" stroke="#3c3c3c" stroke-width="1.1" />
<text x="221.4" y="272.52" font-size="9.8" font-weight="bold" text-anchor="end" fill="#1a1a1a" >0.5</text>
<line x1="223.2" y1="244.75" x2="226.8" y2="244.75" stroke="#3c3c3c" stroke-width="1.1" />
<text x="221.4" y="248.25" font-size="9.8" font-weight="bold" text-anchor="end" fill="#1a1a1a" >1.0</text>
<line x1="223.2" y1="220.47" x2="226.8" y2="220.47" stroke="#3c3c3c" stroke-width="1.1" />
<text x="221.4" y="223.97" font-size="9.8" font-weight="bold" text-anchor="end" fill="#1a1a1a" >1.5</text>
<line x1="223.2" y1="196.2" x2="226.8" y2="196.2" stroke="#3c3c3c" stroke-width="1.1" />
<text x="221.4" y="199.7" font-size="9.8" font-weight="bold" text-anchor="end" fill="#1a1a1a" >2.0</text>
<line x1="238" y1="293.3" x2="238" y2="296.9" stroke="#3c3c3c" stroke-width="1.1" />
<line x1="255.3" y1="293.3" x2="255.3" y2="296.9" stroke="#3c3c3c" stroke-width="1.1" />
<line x1="272.6" y1="293.3" x2="272.6" y2="296.9" stroke="#3c3c3c" stroke-width="1.1" />
<text x="0" y="0" font-size="12.8" font-weight="bold" text-anchor="end" fill="#111" transform="translate(242.8,307.9) rotate(-45)">6+</text>
<text x="0" y="0" font-size="12.8" font-weight="bold" text-anchor="end" fill="#111" transform="translate(260.1,307.9) rotate(-45)">6-</text>
<text x="0" y="0" font-size="12.8" font-weight="bold" text-anchor="end" fill="#111" transform="translate(277.4,307.9) rotate(-45)">pTM</text>
<polyline points="238,224.49 238,216.3 255.3,216.3 255.3,270.61" fill="none" stroke="#222" stroke-width="1.0"/>
<text x="246.65" y="217.2" font-size="12.5" font-weight="bold" text-anchor="middle" fill="#111" letter-spacing="0.6">**</text>
<polyline points="238,200.8 238,195.8 272.6,195.8 272.6,284.69" fill="none" stroke="#222" stroke-width="1.0"/>
<text x="255.3" y="196.7" font-size="12.5" font-weight="bold" text-anchor="middle" fill="#111" letter-spacing="0.6">***</text>
<rect x="311.1" y="269.02" width="10.2" height="24.28" fill="#fff" stroke="#111" stroke-width="1.3"/>
<circle cx="316.2" cy="265.38" r="2.1" fill="none" stroke="#e2692c" stroke-width="1.1"/>
<circle cx="313.2" cy="269.02" r="2.1" fill="none" stroke="#e2692c" stroke-width="1.1"/>
<circle cx="319.2" cy="271.45" r="2.1" fill="none" stroke="#e2692c" stroke-width="1.1"/>
<rect x="328.4" y="239.89" width="10.2" height="53.41" fill="#fff" stroke="#111" stroke-width="1.3"/>
<line x1="333.5" y1="247.18" x2="333.5" y2="232.61" stroke="#555" stroke-width="0.9" />
<line x1="330.9" y1="232.61" x2="336.1" y2="232.61" stroke="#555" stroke-width="0.9" />
<line x1="330.9" y1="247.18" x2="336.1" y2="247.18" stroke="#555" stroke-width="0.9" />
<circle cx="333.5" cy="232.61" r="2.1" fill="none" stroke="#5c9fe6" stroke-width="1.1"/>
<circle cx="333.5" cy="239.89" r="2.1" fill="none" stroke="#5c9fe6" stroke-width="1.1"/>
<circle cx="333.5" cy="245.96" r="2.1" fill="none" stroke="#5c9fe6" stroke-width="1.1"/>
<rect x="345.7" y="289.66" width="10.2" height="3.64" fill="#fff" stroke="#9a9a9a" stroke-width="1.3"/>
<circle cx="347.6" cy="289.66" r="2.1" fill="none" stroke="#9a9a9a" stroke-width="1.1"/>
<circle cx="350.8" cy="289.66" r="2.1" fill="none" stroke="#9a9a9a" stroke-width="1.1"/>
<circle cx="354" cy="289.66" r="2.1" fill="none" stroke="#9a9a9a" stroke-width="1.1"/>
<line x1="305" y1="195.7" x2="305" y2="293.3" stroke="#3c3c3c" stroke-width="1.2" />
<line x1="304.5" y1="293.3" x2="362" y2="293.3" stroke="#3c3c3c" stroke-width="1.2" />
<line x1="301.4" y1="293.3" x2="305" y2="293.3" stroke="#3c3c3c" stroke-width="1.1" />
<text x="299.6" y="296.8" font-size="9.8" font-weight="bold" text-anchor="end" fill="#1a1a1a" >0</text>
<line x1="301.4" y1="269.02" x2="305" y2="269.02" stroke="#3c3c3c" stroke-width="1.1" />
<text x="299.6" y="272.52" font-size="9.8" font-weight="bold" text-anchor="end" fill="#1a1a1a" >1</text>
<line x1="301.4" y1="244.75" x2="305" y2="244.75" stroke="#3c3c3c" stroke-width="1.1" />
<text x="299.6" y="248.25" font-size="9.8" font-weight="bold" text-anchor="end" fill="#1a1a1a" >2</text>
<line x1="301.4" y1="220.47" x2="305" y2="220.47" stroke="#3c3c3c" stroke-width="1.1" />
<text x="299.6" y="223.97" font-size="9.8" font-weight="bold" text-anchor="end" fill="#1a1a1a" >3</text>
<line x1="301.4" y1="196.2" x2="305" y2="196.2" stroke="#3c3c3c" stroke-width="1.1" />
<text x="299.6" y="199.7" font-size="9.8" font-weight="bold" text-anchor="end" fill="#1a1a1a" >4</text>
<line x1="316.2" y1="293.3" x2="316.2" y2="296.9" stroke="#3c3c3c" stroke-width="1.1" />
<line x1="333.5" y1="293.3" x2="333.5" y2="296.9" stroke="#3c3c3c" stroke-width="1.1" />
<line x1="350.8" y1="293.3" x2="350.8" y2="296.9" stroke="#3c3c3c" stroke-width="1.1" />
<text x="0" y="0" font-size="12.8" font-weight="bold" text-anchor="end" fill="#111" transform="translate(321,307.9) rotate(-45)">6+</text>
<text x="0" y="0" font-size="12.8" font-weight="bold" text-anchor="end" fill="#111" transform="translate(338.3,307.9) rotate(-45)">6-</text>
<text x="0" y="0" font-size="12.8" font-weight="bold" text-anchor="end" fill="#111" transform="translate(355.6,307.9) rotate(-45)">pTM</text>
<polyline points="316.2,259.68 316.2,220.7 333.5,220.7 333.5,226.91" fill="none" stroke="#222" stroke-width="1.0"/>
<text x="324.85" y="221.6" font-size="12.5" font-weight="bold" text-anchor="middle" fill="#111" letter-spacing="0.6">***</text>
<polyline points="316.2,204.7 316.2,199.7 350.8,199.7 350.8,283.96" fill="none" stroke="#222" stroke-width="1.0"/>
<text x="333.5" y="200.6" font-size="12.5" font-weight="bold" text-anchor="middle" fill="#111" letter-spacing="0.6">**</text>
<rect x="390.2" y="269.02" width="10.2" height="24.28" fill="#fff" stroke="#111" stroke-width="1.3"/>
<circle cx="392.1" cy="266.6" r="2.1" fill="none" stroke="#e2692c" stroke-width="1.1"/>
<circle cx="395.3" cy="270.24" r="2.1" fill="none" stroke="#e2692c" stroke-width="1.1"/>
<circle cx="398.5" cy="269.02" r="2.1" fill="none" stroke="#e2692c" stroke-width="1.1"/>
<rect x="407.5" y="232.61" width="10.2" height="60.69" fill="#fff" stroke="#111" stroke-width="1.3"/>
<line x1="412.6" y1="244.75" x2="412.6" y2="222.9" stroke="#555" stroke-width="0.9" />
<line x1="410" y1="222.9" x2="415.2" y2="222.9" stroke="#555" stroke-width="0.9" />
<line x1="410" y1="244.75" x2="415.2" y2="244.75" stroke="#555" stroke-width="0.9" />
<circle cx="412.6" cy="213.19" r="2.1" fill="none" stroke="#5c9fe6" stroke-width="1.1"/>
<circle cx="412.6" cy="237.47" r="2.1" fill="none" stroke="#5c9fe6" stroke-width="1.1"/>
<circle cx="412.6" cy="242.32" r="2.1" fill="none" stroke="#5c9fe6" stroke-width="1.1"/>
<rect x="424.8" y="292.81" width="10.2" height="0.49" fill="#fff" stroke="#9a9a9a" stroke-width="1.3"/>
<circle cx="426.7" cy="292.81" r="2.1" fill="none" stroke="#9a9a9a" stroke-width="1.1"/>
<circle cx="429.9" cy="292.81" r="2.1" fill="none" stroke="#9a9a9a" stroke-width="1.1"/>
<circle cx="433.1" cy="292.81" r="2.1" fill="none" stroke="#9a9a9a" stroke-width="1.1"/>
<line x1="384.1" y1="195.7" x2="384.1" y2="293.3" stroke="#3c3c3c" stroke-width="1.2" />
<line x1="383.6" y1="293.3" x2="441.1" y2="293.3" stroke="#3c3c3c" stroke-width="1.2" />
<line x1="380.5" y1="293.3" x2="384.1" y2="293.3" stroke="#3c3c3c" stroke-width="1.1" />
<text x="378.7" y="296.8" font-size="9.8" font-weight="bold" text-anchor="end" fill="#1a1a1a" >0</text>
<line x1="380.5" y1="269.02" x2="384.1" y2="269.02" stroke="#3c3c3c" stroke-width="1.1" />
<text x="378.7" y="272.52" font-size="9.8" font-weight="bold" text-anchor="end" fill="#1a1a1a" >1</text>
<line x1="380.5" y1="244.75" x2="384.1" y2="244.75" stroke="#3c3c3c" stroke-width="1.1" />
<text x="378.7" y="248.25" font-size="9.8" font-weight="bold" text-anchor="end" fill="#1a1a1a" >2</text>
<line x1="380.5" y1="220.47" x2="384.1" y2="220.47" stroke="#3c3c3c" stroke-width="1.1" />
<text x="378.7" y="223.97" font-size="9.8" font-weight="bold" text-anchor="end" fill="#1a1a1a" >3</text>
<line x1="380.5" y1="196.2" x2="384.1" y2="196.2" stroke="#3c3c3c" stroke-width="1.1" />
<text x="378.7" y="199.7" font-size="9.8" font-weight="bold" text-anchor="end" fill="#1a1a1a" >4</text>
<line x1="395.3" y1="293.3" x2="395.3" y2="296.9" stroke="#3c3c3c" stroke-width="1.1" />
<line x1="412.6" y1="293.3" x2="412.6" y2="296.9" stroke="#3c3c3c" stroke-width="1.1" />
<line x1="429.9" y1="293.3" x2="429.9" y2="296.9" stroke="#3c3c3c" stroke-width="1.1" />
<text x="0" y="0" font-size="12.8" font-weight="bold" text-anchor="end" fill="#111" transform="translate(400.1,307.9) rotate(-45)">6+</text>
<text x="0" y="0" font-size="12.8" font-weight="bold" text-anchor="end" fill="#111" transform="translate(417.4,307.9) rotate(-45)">6-</text>
<text x="0" y="0" font-size="12.8" font-weight="bold" text-anchor="end" fill="#111" transform="translate(434.7,307.9) rotate(-45)">pTM</text>
<polyline points="395.3,260.9 395.3,199.7 412.6,199.7 412.6,207.49" fill="none" stroke="#222" stroke-width="1.0"/>
<text x="403.95" y="200.6" font-size="12.5" font-weight="bold" text-anchor="middle" fill="#111" letter-spacing="0.6">**</text>
<rect x="469.2" y="244.75" width="10.2" height="48.55" fill="#fff" stroke="#111" stroke-width="1.3"/>
<circle cx="474.3" cy="238.44" r="2.1" fill="none" stroke="#e2692c" stroke-width="1.1"/>
<circle cx="474.3" cy="249.6" r="2.1" fill="none" stroke="#e2692c" stroke-width="1.1"/>
<circle cx="474.3" cy="244.75" r="2.1" fill="none" stroke="#e2692c" stroke-width="1.1"/>
<rect x="486.5" y="276.31" width="10.2" height="16.99" fill="#fff" stroke="#111" stroke-width="1.3"/>
<circle cx="488.4" cy="273.88" r="2.1" fill="none" stroke="#5c9fe6" stroke-width="1.1"/>
<circle cx="491.6" cy="277.28" r="2.1" fill="none" stroke="#5c9fe6" stroke-width="1.1"/>
<circle cx="494.8" cy="278.74" r="2.1" fill="none" stroke="#5c9fe6" stroke-width="1.1"/>
<rect x="503.8" y="292.81" width="10.2" height="0.49" fill="#fff" stroke="#9a9a9a" stroke-width="1.3"/>
<circle cx="505.7" cy="292.81" r="2.1" fill="none" stroke="#9a9a9a" stroke-width="1.1"/>
<circle cx="508.9" cy="292.81" r="2.1" fill="none" stroke="#9a9a9a" stroke-width="1.1"/>
<circle cx="512.1" cy="292.81" r="2.1" fill="none" stroke="#9a9a9a" stroke-width="1.1"/>
<line x1="463.1" y1="195.7" x2="463.1" y2="293.3" stroke="#3c3c3c" stroke-width="1.2" />
<line x1="462.6" y1="293.3" x2="520.1" y2="293.3" stroke="#3c3c3c" stroke-width="1.2" />
<line x1="459.5" y1="293.3" x2="463.1" y2="293.3" stroke="#3c3c3c" stroke-width="1.1" />
<text x="457.7" y="296.8" font-size="9.8" font-weight="bold" text-anchor="end" fill="#1a1a1a" >0.0</text>
<line x1="459.5" y1="269.02" x2="463.1" y2="269.02" stroke="#3c3c3c" stroke-width="1.1" />
<text x="457.7" y="272.52" font-size="9.8" font-weight="bold" text-anchor="end" fill="#1a1a1a" >0.5</text>
<line x1="459.5" y1="244.75" x2="463.1" y2="244.75" stroke="#3c3c3c" stroke-width="1.1" />
<text x="457.7" y="248.25" font-size="9.8" font-weight="bold" text-anchor="end" fill="#1a1a1a" >1.0</text>
<line x1="459.5" y1="220.47" x2="463.1" y2="220.47" stroke="#3c3c3c" stroke-width="1.1" />
<text x="457.7" y="223.97" font-size="9.8" font-weight="bold" text-anchor="end" fill="#1a1a1a" >1.5</text>
<line x1="459.5" y1="196.2" x2="463.1" y2="196.2" stroke="#3c3c3c" stroke-width="1.1" />
<text x="457.7" y="199.7" font-size="9.8" font-weight="bold" text-anchor="end" fill="#1a1a1a" >2.0</text>
<line x1="474.3" y1="293.3" x2="474.3" y2="296.9" stroke="#3c3c3c" stroke-width="1.1" />
<line x1="491.6" y1="293.3" x2="491.6" y2="296.9" stroke="#3c3c3c" stroke-width="1.1" />
<line x1="508.9" y1="293.3" x2="508.9" y2="296.9" stroke="#3c3c3c" stroke-width="1.1" />
<text x="0" y="0" font-size="12.8" font-weight="bold" text-anchor="end" fill="#111" transform="translate(479.1,307.9) rotate(-45)">6+</text>
<text x="0" y="0" font-size="12.8" font-weight="bold" text-anchor="end" fill="#111" transform="translate(496.4,307.9) rotate(-45)">6-</text>
<text x="0" y="0" font-size="12.8" font-weight="bold" text-anchor="end" fill="#111" transform="translate(513.7,307.9) rotate(-45)">pTM</text>
<polyline points="474.3,232.74 474.3,226.8 491.6,226.8 491.6,268.18" fill="none" stroke="#222" stroke-width="1.0"/>
<text x="482.95" y="227.7" font-size="12.5" font-weight="bold" text-anchor="middle" fill="#111" letter-spacing="0.6">***</text>
<polyline points="474.3,210.7 474.3,205.7 508.9,205.7 508.9,287.11" fill="none" stroke="#222" stroke-width="1.0"/>
<text x="491.6" y="206.6" font-size="12.5" font-weight="bold" text-anchor="middle" fill="#111" letter-spacing="0.6">****</text>
<rect x="551.2" y="243.78" width="10.2" height="49.52" fill="#fff" stroke="#111" stroke-width="1.3"/>
<line x1="556.3" y1="254.46" x2="556.3" y2="232.61" stroke="#555" stroke-width="0.9" />
<line x1="553.7" y1="232.61" x2="558.9" y2="232.61" stroke="#555" stroke-width="0.9" />
<line x1="553.7" y1="254.46" x2="558.9" y2="254.46" stroke="#555" stroke-width="0.9" />
<circle cx="556.3" cy="232.61" r="2.1" fill="none" stroke="#e2692c" stroke-width="1.1"/>
<circle cx="556.3" cy="247.18" r="2.1" fill="none" stroke="#e2692c" stroke-width="1.1"/>
<circle cx="556.3" cy="254.46" r="2.1" fill="none" stroke="#e2692c" stroke-width="1.1"/>
<rect x="568.5" y="281.16" width="10.2" height="12.14" fill="#fff" stroke="#111" stroke-width="1.3"/>
<circle cx="570.4" cy="278.74" r="2.1" fill="none" stroke="#5c9fe6" stroke-width="1.1"/>
<circle cx="573.6" cy="283.59" r="2.1" fill="none" stroke="#5c9fe6" stroke-width="1.1"/>
<circle cx="576.8" cy="279.71" r="2.1" fill="none" stroke="#5c9fe6" stroke-width="1.1"/>
<rect x="585.8" y="287.47" width="10.2" height="5.83" fill="#fff" stroke="#9a9a9a" stroke-width="1.3"/>
<circle cx="587.7" cy="288.44" r="2.1" fill="none" stroke="#9a9a9a" stroke-width="1.1"/>
<circle cx="590.9" cy="287.47" r="2.1" fill="none" stroke="#9a9a9a" stroke-width="1.1"/>
<circle cx="594.1" cy="286.02" r="2.1" fill="none" stroke="#9a9a9a" stroke-width="1.1"/>
<line x1="545.1" y1="195.7" x2="545.1" y2="293.3" stroke="#3c3c3c" stroke-width="1.2" />
<line x1="544.6" y1="293.3" x2="602.1" y2="293.3" stroke="#3c3c3c" stroke-width="1.2" />
<line x1="541.5" y1="293.3" x2="545.1" y2="293.3" stroke="#3c3c3c" stroke-width="1.1" />
<text x="539.7" y="296.8" font-size="9.8" font-weight="bold" text-anchor="end" fill="#1a1a1a" >0.0</text>
<line x1="541.5" y1="269.02" x2="545.1" y2="269.02" stroke="#3c3c3c" stroke-width="1.1" />
<text x="539.7" y="272.52" font-size="9.8" font-weight="bold" text-anchor="end" fill="#1a1a1a" >0.5</text>
<line x1="541.5" y1="244.75" x2="545.1" y2="244.75" stroke="#3c3c3c" stroke-width="1.1" />
<text x="539.7" y="248.25" font-size="9.8" font-weight="bold" text-anchor="end" fill="#1a1a1a" >1.0</text>
<line x1="541.5" y1="220.47" x2="545.1" y2="220.47" stroke="#3c3c3c" stroke-width="1.1" />
<text x="539.7" y="223.97" font-size="9.8" font-weight="bold" text-anchor="end" fill="#1a1a1a" >1.5</text>
<line x1="541.5" y1="196.2" x2="545.1" y2="196.2" stroke="#3c3c3c" stroke-width="1.1" />
<text x="539.7" y="199.7" font-size="9.8" font-weight="bold" text-anchor="end" fill="#1a1a1a" >2.0</text>
<line x1="556.3" y1="293.3" x2="556.3" y2="296.9" stroke="#3c3c3c" stroke-width="1.1" />
<line x1="573.6" y1="293.3" x2="573.6" y2="296.9" stroke="#3c3c3c" stroke-width="1.1" />
<line x1="590.9" y1="293.3" x2="590.9" y2="296.9" stroke="#3c3c3c" stroke-width="1.1" />
<text x="0" y="0" font-size="12.8" font-weight="bold" text-anchor="end" fill="#111" transform="translate(561.1,307.9) rotate(-45)">6+</text>
<text x="0" y="0" font-size="12.8" font-weight="bold" text-anchor="end" fill="#111" transform="translate(578.4,307.9) rotate(-45)">6-</text>
<text x="0" y="0" font-size="12.8" font-weight="bold" text-anchor="end" fill="#111" transform="translate(595.7,307.9) rotate(-45)">pTM</text>
<polyline points="556.3,226.91 556.3,220.7 573.6,220.7 573.6,273.03" fill="none" stroke="#222" stroke-width="1.0"/>
<text x="564.95" y="221.6" font-size="12.5" font-weight="bold" text-anchor="middle" fill="#111" letter-spacing="0.6">***</text>
<polyline points="556.3,205.5 556.3,200.5 590.9,200.5 590.9,280.32" fill="none" stroke="#222" stroke-width="1.0"/>
<text x="573.6" y="201.4" font-size="12.5" font-weight="bold" text-anchor="middle" fill="#111" letter-spacing="0.6">***</text>
<rect x="631.4" y="244.26" width="10.2" height="49.04" fill="#fff" stroke="#111" stroke-width="1.3"/>
<line x1="636.5" y1="256.89" x2="636.5" y2="233.58" stroke="#555" stroke-width="0.9" />
<line x1="633.9" y1="233.58" x2="639.1" y2="233.58" stroke="#555" stroke-width="0.9" />
<line x1="633.9" y1="256.89" x2="639.1" y2="256.89" stroke="#555" stroke-width="0.9" />
<circle cx="636.5" cy="237.47" r="2.1" fill="none" stroke="#e2692c" stroke-width="1.1"/>
<circle cx="630.5" cy="237.47" r="2.1" fill="none" stroke="#e2692c" stroke-width="1.1"/>
<circle cx="636.5" cy="256.89" r="2.1" fill="none" stroke="#e2692c" stroke-width="1.1"/>
<rect x="648.7" y="279.71" width="10.2" height="13.59" fill="#fff" stroke="#111" stroke-width="1.3"/>
<circle cx="650.6" cy="278.74" r="2.1" fill="none" stroke="#5c9fe6" stroke-width="1.1"/>
<circle cx="653.8" cy="281.16" r="2.1" fill="none" stroke="#5c9fe6" stroke-width="1.1"/>
<circle cx="657" cy="279.71" r="2.1" fill="none" stroke="#5c9fe6" stroke-width="1.1"/>
<rect x="666" y="290.87" width="10.2" height="2.43" fill="#fff" stroke="#9a9a9a" stroke-width="1.3"/>
<circle cx="667.9" cy="291.36" r="2.1" fill="none" stroke="#9a9a9a" stroke-width="1.1"/>
<circle cx="671.1" cy="290.39" r="2.1" fill="none" stroke="#9a9a9a" stroke-width="1.1"/>
<circle cx="674.3" cy="290.87" r="2.1" fill="none" stroke="#9a9a9a" stroke-width="1.1"/>
<line x1="625.3" y1="195.7" x2="625.3" y2="293.3" stroke="#3c3c3c" stroke-width="1.2" />
<line x1="624.8" y1="293.3" x2="682.3" y2="293.3" stroke="#3c3c3c" stroke-width="1.2" />
<line x1="621.7" y1="293.3" x2="625.3" y2="293.3" stroke="#3c3c3c" stroke-width="1.1" />
<text x="619.9" y="296.8" font-size="9.8" font-weight="bold" text-anchor="end" fill="#1a1a1a" >0.0</text>
<line x1="621.7" y1="269.02" x2="625.3" y2="269.02" stroke="#3c3c3c" stroke-width="1.1" />
<text x="619.9" y="272.52" font-size="9.8" font-weight="bold" text-anchor="end" fill="#1a1a1a" >0.5</text>
<line x1="621.7" y1="244.75" x2="625.3" y2="244.75" stroke="#3c3c3c" stroke-width="1.1" />
<text x="619.9" y="248.25" font-size="9.8" font-weight="bold" text-anchor="end" fill="#1a1a1a" >1.0</text>
<line x1="621.7" y1="220.47" x2="625.3" y2="220.47" stroke="#3c3c3c" stroke-width="1.1" />
<text x="619.9" y="223.97" font-size="9.8" font-weight="bold" text-anchor="end" fill="#1a1a1a" >1.5</text>
<line x1="621.7" y1="196.2" x2="625.3" y2="196.2" stroke="#3c3c3c" stroke-width="1.1" />
<text x="619.9" y="199.7" font-size="9.8" font-weight="bold" text-anchor="end" fill="#1a1a1a" >2.0</text>
<line x1="636.5" y1="293.3" x2="636.5" y2="296.9" stroke="#3c3c3c" stroke-width="1.1" />
<line x1="653.8" y1="293.3" x2="653.8" y2="296.9" stroke="#3c3c3c" stroke-width="1.1" />
<line x1="671.1" y1="293.3" x2="671.1" y2="296.9" stroke="#3c3c3c" stroke-width="1.1" />
<text x="0" y="0" font-size="12.8" font-weight="bold" text-anchor="end" fill="#111" transform="translate(641.3,307.9) rotate(-45)">6+</text>
<text x="0" y="0" font-size="12.8" font-weight="bold" text-anchor="end" fill="#111" transform="translate(658.6,307.9) rotate(-45)">6-</text>
<text x="0" y="0" font-size="12.8" font-weight="bold" text-anchor="end" fill="#111" transform="translate(675.9,307.9) rotate(-45)">pTM</text>
<polyline points="636.5,227.88 636.5,222 653.8,222 653.8,273.03" fill="none" stroke="#222" stroke-width="1.0"/>
<text x="645.15" y="222.9" font-size="12.5" font-weight="bold" text-anchor="middle" fill="#111" letter-spacing="0.6">***</text>
<polyline points="636.5,206.4 636.5,201.4 671.1,201.4 671.1,284.69" fill="none" stroke="#222" stroke-width="1.0"/>
<text x="653.8" y="202.3" font-size="12.5" font-weight="bold" text-anchor="middle" fill="#111" letter-spacing="0.6">***</text>
<text x="0.2" y="345.6" font-size="27" font-weight="bold" text-anchor="start" fill="#000" >b</text>
<defs>
<clipPath id="clip0"><rect x="18.2" y="350.1" width="183.5" height="137.4"/></clipPath>
<clipPath id="clip1"><rect x="18.2" y="489.9" width="183.5" height="137.1"/></clipPath>
<filter id="soft" x="-5%" y="-5%" width="110%" height="110%"><feGaussianBlur stdDeviation="0.45"/></filter>
</defs>
<g clip-path="url(#clip0)">
<rect x="18.2" y="350.1" width="183.5" height="137.4" fill="#ababab"/>
<g filter="url(#soft)"><path d="M98.9 420.4A3 1 25.8 1 1 93.5 417.8A3 1 25.8 1 1 98.9 420.4ZM91.1 421.4A2.8 0.9 167.5 1 1 96.6 420.2A2.8 0.9 167.5 1 1 91.1 421.4ZM93.7 429.1A2.2 0.9 114.2 1 1 95.5 425.1A2.2 0.9 114.2 1 1 93.7 429.1ZM106.5 417.2A1.8 0.8 39.5 1 1 103.6 414.9A1.8 0.8 39.5 1 1 106.5 417.2ZM105 424.6A1.7 0.9 161.2 1 1 108.2 423.5A1.7 0.9 161.2 1 1 105 424.6ZM107.5 429A3.2 1.3 20.3 1 1 101.5 426.8A3.2 1.3 20.3 1 1 107.5 429ZM88.4 432.2A2.9 1 93.6 1 1 88.7 426.4A2.9 1 93.6 1 1 88.4 432.2ZM97.5 419.5A2.9 1.1 57.7 1 1 94.3 414.5A2.9 1.1 57.7 1 1 97.5 419.5ZM106.2 422.8A2.5 1.2 50.6 1 1 103 418.8A2.5 1.2 50.6 1 1 106.2 422.8ZM95.4 437.9A2.5 1.1 72.9 1 1 93.9 433.2A2.5 1.1 72.9 1 1 95.4 437.9ZM104 439.1A2 1.2 143.4 1 1 107.1 436.8A2 1.2 143.4 1 1 104 439.1ZM105 428.1A1.7 1.1 115.2 1 1 106.5 425A1.7 1.1 115.2 1 1 105 428.1ZM101 470.4A1.8 1.3 46.1 1 1 98.4 467.8A1.8 1.3 46.1 1 1 101 470.4ZM101.5 462.8A2.4 0.7 40.8 1 1 97.8 459.6A2.4 0.7 40.8 1 1 101.5 462.8ZM99 462.2A3.1 1.1 179.4 1 1 105.2 462.1A3.1 1.1 179.4 1 1 99 462.2ZM105.6 476A2.7 0.9 73.9 1 1 104.1 470.8A2.7 0.9 73.9 1 1 105.6 476ZM102.6 465.4A2.3 0.8 159.7 1 1 106.9 463.9A2.3 0.8 159.7 1 1 102.6 465.4ZM104.5 469.2A2.6 1.1 147.5 1 1 108.9 466.4A2.6 1.1 147.5 1 1 104.5 469.2ZM95.8 472.5A3.2 0.8 155.9 1 1 101.6 469.9A3.2 0.8 155.9 1 1 95.8 472.5ZM103.8 462.3A1.7 0.9 70.2 1 1 102.7 459.1A1.7 0.9 70.2 1 1 103.8 462.3ZM106.8 472.1A3.2 1.4 47.1 1 1 102.5 467.5A3.2 1.4 47.1 1 1 106.8 472.1ZM102 468.7A2.4 0.7 61.6 1 1 99.8 464.6A2.4 0.7 61.6 1 1 102 468.7ZM94.8 470.7A3.1 0.9 156.2 1 1 100.4 468.2A3.1 0.9 156.2 1 1 94.8 470.7ZM97.5 468.8A2.4 1.2 164.9 1 1 102.2 467.6A2.4 1.2 164.9 1 1 97.5 468.8ZM92.1 471.5A3 1.1 122 1 1 95.3 466.4A3 1.1 122 1 1 92.1 471.5ZM97.2 438.8A2.5 1.2 136.4 1 1 100.8 435.3A2.5 1.2 136.4 1 1 97.2 438.8ZM102.8 438A2.9 1.1 29.6 1 1 97.8 435.1A2.9 1.1 29.6 1 1 102.8 438ZM96.5 434.1A1.9 1.2 171.9 1 1 100.3 433.5A1.9 1.2 171.9 1 1 96.5 434.1ZM109.2 432.2A2 0.8 98 1 1 109.8 428.2A2 0.8 98 1 1 109.2 432.2ZM106.9 439.7A2.2 0.8 0.9 1 1 102.5 439.7A2.2 0.8 0.9 1 1 106.9 439.7ZM101.4 439.9A1.6 1.3 97.9 1 1 101.8 436.7A1.6 1.3 97.9 1 1 101.4 439.9ZM106.5 434.6A1.7 0.8 167.5 1 1 109.7 433.9A1.7 0.8 167.5 1 1 106.5 434.6ZM100.6 438.3A2.9 1 44.3 1 1 96.5 434.3A2.9 1 44.3 1 1 100.6 438.3ZM98.2 435.4A3 1.4 165.6 1 1 104.1 433.9A3 1.4 165.6 1 1 98.2 435.4ZM104.6 435.7A2.2 0.7 46.8 1 1 101.6 432.5A2.2 0.7 46.8 1 1 104.6 435.7ZM104.9 427.4A1.6 0.8 2.1 1 1 101.7 427.3A1.6 0.8 2.1 1 1 104.9 427.4ZM104.2 442.6A1.9 1 89.9 1 1 104.1 438.8A1.9 1 89.9 1 1 104.2 442.6ZM62.3 358.9A2.6 1.2 126.2 1 1 65.4 354.8A2.6 1.2 126.2 1 1 62.3 358.9ZM74.3 363.7A2.6 1.3 110.8 1 1 76.2 358.8A2.6 1.3 110.8 1 1 74.3 363.7ZM64.5 361.3A2.4 0.9 38.9 1 1 60.7 358.3A2.4 0.9 38.9 1 1 64.5 361.3ZM64 361.6A1.7 1.3 113 1 1 65.3 358.4A1.7 1.3 113 1 1 64 361.6ZM72.9 368.4A2.5 1.3 35 1 1 68.8 365.5A2.5 1.3 35 1 1 72.9 368.4ZM76.4 357.8A1.7 1.3 23.9 1 1 73.3 356.5A1.7 1.3 23.9 1 1 76.4 357.8ZM80.2 368.9A2.2 1.4 97.8 1 1 80.8 364.4A2.2 1.4 97.8 1 1 80.2 368.9ZM74.8 358A2.6 1.3 17.3 1 1 69.9 356.4A2.6 1.3 17.3 1 1 74.8 358ZM65.4 361.7A2.9 1 126.8 1 1 68.9 357.1A2.9 1 126.8 1 1 65.4 361.7ZM66.4 358.9A3.2 1.3 144.5 1 1 71.6 355.2A3.2 1.3 144.5 1 1 66.4 358.9ZM69.3 363.6A2.8 1.1 162.9 1 1 74.6 362A2.8 1.1 162.9 1 1 69.3 363.6ZM70 364A1.7 0.8 28.4 1 1 67 362.4A1.7 0.8 28.4 1 1 70 364ZM70.4 374.7A2.5 0.8 122.6 1 1 73.1 370.5A2.5 0.8 122.6 1 1 70.4 374.7ZM78.3 366.3A2.2 1 63.8 1 1 76.3 362.4A2.2 1 63.8 1 1 78.3 366.3ZM77.8 371.5A2.6 0.7 36 1 1 73.7 368.4A2.6 0.7 36 1 1 77.8 371.5ZM66.9 368.7A2.1 1.3 108.9 1 1 68.3 364.6A2.1 1.3 108.9 1 1 66.9 368.7ZM139.6 437.5A2.1 0.8 151.5 1 1 143.2 435.5A2.1 0.8 151.5 1 1 139.6 437.5ZM143.4 427.5A3.1 1.1 34.4 1 1 138.3 424A3.1 1.1 34.4 1 1 143.4 427.5ZM132.6 430.2A2.8 0.9 20.9 1 1 127.4 428.2A2.8 0.9 20.9 1 1 132.6 430.2ZM136 430.9A3.1 0.8 59.4 1 1 132.9 425.6A3.1 0.8 59.4 1 1 136 430.9ZM131 431.9A2.2 0.8 37.2 1 1 127.4 429.2A2.2 0.8 37.2 1 1 131 431.9ZM136 440.1A2 0.8 159.8 1 1 139.8 438.7A2 0.8 159.8 1 1 136 440.1ZM141.7 431.6A1.6 0.9 173.1 1 1 144.9 431.2A1.6 0.9 173.1 1 1 141.7 431.6ZM135.5 436.5A2.2 0.8 13.8 1 1 131.2 435.5A2.2 0.8 13.8 1 1 135.5 436.5ZM128.8 433.1A1.9 0.8 71.2 1 1 127.6 429.6A1.9 0.8 71.2 1 1 128.8 433.1ZM132.2 432.2A1.7 0.9 79.9 1 1 131.6 428.8A1.7 0.9 79.9 1 1 132.2 432.2ZM128.4 433.6A2.6 0.7 46.5 1 1 124.8 429.8A2.6 0.7 46.5 1 1 128.4 433.6ZM133.6 439.6A2.4 1 93.7 1 1 133.9 434.8A2.4 1 93.7 1 1 133.6 439.6ZM139.2 435A2.3 1.2 98.9 1 1 139.8 430.6A2.3 1.2 98.9 1 1 139.2 435ZM135.5 430.5A2.2 1.4 69.5 1 1 134 426.5A2.2 1.4 69.5 1 1 135.5 430.5ZM145.3 435.8A2.4 1.1 77.3 1 1 144.3 431.1A2.4 1.1 77.3 1 1 145.3 435.8ZM134.1 437A2.2 0.9 95.5 1 1 134.5 432.6A2.2 0.9 95.5 1 1 134.1 437ZM132.3 437.3A3.1 1.2 134.6 1 1 136.6 432.9A3.1 1.2 134.6 1 1 132.3 437.3ZM177 362.1A2.5 1.1 73.6 1 1 175.6 357.3A2.5 1.1 73.6 1 1 177 362.1ZM169.7 359.4A2 1 104.7 1 1 170.8 355.5A2 1 104.7 1 1 169.7 359.4ZM168.4 357.5A2.9 0.9 129.4 1 1 172 353.1A2.9 0.9 129.4 1 1 168.4 357.5ZM169.5 365.1A1.6 0.8 145.8 1 1 172.1 363.4A1.6 0.8 145.8 1 1 169.5 365.1ZM170.9 360A3.1 0.9 127.2 1 1 174.7 355A3.1 0.9 127.2 1 1 170.9 360ZM175.4 361.6A1.7 1.3 64.2 1 1 173.9 358.5A1.7 1.3 64.2 1 1 175.4 361.6ZM172.4 363.6A1.7 1 108.2 1 1 173.5 360.3A1.7 1 108.2 1 1 172.4 363.6ZM165.7 356A2.1 1.2 146.7 1 1 169.3 353.6A2.1 1.2 146.7 1 1 165.7 356ZM131.2 462.2A1.7 1 90.5 1 1 131.3 458.8A1.7 1 90.5 1 1 131.2 462.2ZM125 465.5A2.9 0.9 109.8 1 1 127 460A2.9 0.9 109.8 1 1 125 465.5ZM128.4 451.1A1.8 0.9 43.1 1 1 125.8 448.7A1.8 0.9 43.1 1 1 128.4 451.1ZM132.6 457.4A2.6 0.8 123 1 1 135.5 453A2.6 0.8 123 1 1 132.6 457.4ZM129.6 456.6A1.9 0.7 6.8 1 1 125.7 456.2A1.9 0.7 6.8 1 1 129.6 456.6ZM131.4 462.8A2.8 1.3 29 1 1 126.6 460.1A2.8 1.3 29 1 1 131.4 462.8ZM130.2 467.5A2.3 0.9 60.9 1 1 127.9 463.5A2.3 0.9 60.9 1 1 130.2 467.5ZM125.6 460.1A3 1.3 80.5 1 1 124.6 454.2A3 1.3 80.5 1 1 125.6 460.1ZM129.7 451.9A2.8 1 134.5 1 1 133.6 447.9A2.8 1 134.5 1 1 129.7 451.9ZM125.1 460.8A1.8 1.3 107.4 1 1 126.2 457.5A1.8 1.3 107.4 1 1 125.1 460.8ZM125 466.8A2.9 0.8 117.7 1 1 127.7 461.7A2.9 0.8 117.7 1 1 125 466.8ZM123.5 456.2A2.1 1.1 77.8 1 1 122.7 452.2A2.1 1.1 77.8 1 1 123.5 456.2ZM123.4 453.9A2.3 1.3 1.7 1 1 118.9 453.7A2.3 1.3 1.7 1 1 123.4 453.9ZM125.2 467.2A2.5 1.2 89.1 1 1 125.2 462.1A2.5 1.2 89.1 1 1 125.2 467.2ZM171.9 417.7A3 0.9 118.3 1 1 174.8 412.4A3 0.9 118.3 1 1 171.9 417.7ZM167.3 432.8A2 1 107.1 1 1 168.5 428.8A2 1 107.1 1 1 167.3 432.8ZM178.4 416.2A2 1.1 178.6 1 1 182.3 416.1A2 1.1 178.6 1 1 178.4 416.2ZM167.6 425.9A3.1 1.2 92.9 1 1 167.9 419.6A3.1 1.2 92.9 1 1 167.6 425.9ZM181.1 428A1.5 1.2 105.3 1 1 181.9 425.1A1.5 1.2 105.3 1 1 181.1 428ZM177.4 413.3A2.1 1 27.9 1 1 173.6 411.3A2.1 1 27.9 1 1 177.4 413.3ZM167.4 419.6A1.7 1 153.8 1 1 170.3 418.2A1.7 1 153.8 1 1 167.4 419.6ZM175.7 417.9A1.6 0.8 53.3 1 1 173.8 415.3A1.6 0.8 53.3 1 1 175.7 417.9ZM184.2 424.7A2.2 1.1 55 1 1 181.6 421A2.2 1.1 55 1 1 184.2 424.7ZM167.7 421.3A2 0.8 56.5 1 1 165.5 418A2 0.8 56.5 1 1 167.7 421.3ZM182.1 424.5A1.7 1.3 76 1 1 181.3 421.3A1.7 1.3 76 1 1 182.1 424.5ZM171.3 416.9A3 0.9 82.6 1 1 170.6 410.9A3 0.9 82.6 1 1 171.3 416.9ZM13.2 372A2.1 0.8 87.8 1 1 13 367.9A2.1 0.8 87.8 1 1 13.2 372ZM18.2 360.7A2.6 0.7 136.3 1 1 21.9 357.2A2.6 0.7 136.3 1 1 18.2 360.7ZM27.1 361.6A1.5 1 16.1 1 1 24.2 360.8A1.5 1 16.1 1 1 27.1 361.6ZM12.5 363.6A1.5 1 1.8 1 1 9.4 363.5A1.5 1 1.8 1 1 12.5 363.6ZM30 370.1A3.1 0.9 29.2 1 1 24.7 367.2A3.1 0.9 29.2 1 1 30 370.1ZM12.7 356.8A2 1 95.2 1 1 13.1 352.8A2 1 95.2 1 1 12.7 356.8ZM18.8 374.1A2.3 1.2 54.6 1 1 16.1 370.4A2.3 1.2 54.6 1 1 18.8 374.1ZM28.1 370.9A3.1 1.2 3.1 1 1 22 370.5A3.1 1.2 3.1 1 1 28.1 370.9ZM9.9 364.8A2 0.8 64.7 1 1 8.2 361.1A2 0.8 64.7 1 1 9.9 364.8ZM12.1 359.5A2.3 1.1 79.6 1 1 11.2 354.9A2.3 1.1 79.6 1 1 12.1 359.5ZM23.5 360.2A3 1.4 112.8 1 1 25.8 354.6A3 1.4 112.8 1 1 23.5 360.2ZM211 486.4A3 1 72.5 1 1 209.2 480.7A3 1 72.5 1 1 211 486.4ZM208.7 485.2A2.8 0.8 155.3 1 1 213.8 482.9A2.8 0.8 155.3 1 1 208.7 485.2ZM194.8 490.5A1.7 1.3 175.7 1 1 198.2 490.3A1.7 1.3 175.7 1 1 194.8 490.5ZM201.6 476.8A2.8 0.7 166.4 1 1 207.1 475.5A2.8 0.7 166.4 1 1 201.6 476.8ZM212.7 481.6A3 1 44.4 1 1 208.4 477.3A3 1 44.4 1 1 212.7 481.6ZM192.8 493.5A2.2 1.2 26.1 1 1 188.8 491.6A2.2 1.2 26.1 1 1 192.8 493.5ZM210.2 482.3A1.7 1.2 111.5 1 1 211.5 479.1A1.7 1.2 111.5 1 1 210.2 482.3ZM200.3 488.1A2.5 0.8 36.8 1 1 196.4 485.1A2.5 0.8 36.8 1 1 200.3 488.1ZM204.9 486A1.7 0.9 110.7 1 1 206.1 482.8A1.7 0.9 110.7 1 1 204.9 486ZM187.6 486.7A2.7 0.8 134.7 1 1 191.3 482.9A2.7 0.8 134.7 1 1 187.6 486.7ZM193.8 485.3A1.5 0.8 34.8 1 1 191.3 483.6A1.5 0.8 34.8 1 1 193.8 485.3ZM197.2 478.8A2.2 0.7 74.4 1 1 196 474.5A2.2 0.7 74.4 1 1 197.2 478.8ZM189.8 490.4A3.1 0.9 73 1 1 188 484.4A3.1 0.9 73 1 1 189.8 490.4ZM191.9 483.1A2.6 0.7 13.4 1 1 186.8 481.9A2.6 0.7 13.4 1 1 191.9 483.1ZM205.8 496.6A2.6 1.2 141.2 1 1 209.9 493.3A2.6 1.2 141.2 1 1 205.8 496.6ZM207.6 495.8A3 1.2 85.5 1 1 207.2 489.8A3 1.2 85.5 1 1 207.6 495.8ZM108.9 358.9A2.8 1.3 152 1 1 113.8 356.3A2.8 1.3 152 1 1 108.9 358.9ZM108.7 344.7A1.8 1.1 168.7 1 1 112.1 344.1A1.8 1.1 168.7 1 1 108.7 344.7ZM115 344.7A2.8 1.1 15.6 1 1 109.6 343.2A2.8 1.1 15.6 1 1 115 344.7ZM115.8 361.4A1.7 0.9 49.3 1 1 113.6 358.9A1.7 0.9 49.3 1 1 115.8 361.4ZM106.2 356.5A2.3 1 18.3 1 1 101.9 355.1A2.3 1 18.3 1 1 106.2 356.5ZM111.7 353A2.6 0.8 34.8 1 1 107.5 350.1A2.6 0.8 34.8 1 1 111.7 353ZM100.4 468.1A2.7 0.8 5.8 1 1 95 467.6A2.7 0.8 5.8 1 1 100.4 468.1ZM95.3 467.4A2.8 0.9 148.2 1 1 100 464.5A2.8 0.9 148.2 1 1 95.3 467.4ZM93.7 466.4A1.8 0.8 124.4 1 1 95.8 463.4A1.8 0.8 124.4 1 1 93.7 466.4ZM82.1 469.8A2.6 1.2 110.4 1 1 83.9 465A2.6 1.2 110.4 1 1 82.1 469.8ZM88.2 475.7A1.9 1.4 95.4 1 1 88.5 471.9A1.9 1.4 95.4 1 1 88.2 475.7ZM173.1 355.5A2 1 100.3 1 1 173.8 351.5A2 1 100.3 1 1 173.1 355.5ZM173.7 356A2 0.8 128.4 1 1 176.2 352.9A2 0.8 128.4 1 1 173.7 356ZM172.9 357.7A2 0.9 110.2 1 1 174.2 353.9A2 0.9 110.2 1 1 172.9 357.7ZM166 349.7A1.8 1.4 179.7 1 1 169.7 349.7A1.8 1.4 179.7 1 1 166 349.7ZM170.5 345.2A2.5 0.7 118.7 1 1 172.9 340.9A2.5 0.7 118.7 1 1 170.5 345.2ZM106.2 483.5A2.3 1 60 1 1 103.9 479.5A2.3 1 60 1 1 106.2 483.5ZM111.9 491.4A2 1.3 81.4 1 1 111.3 487.5A2 1.3 81.4 1 1 111.9 491.4ZM106.3 480.8A2.5 1.1 11.4 1 1 101.5 479.9A2.5 1.1 11.4 1 1 106.3 480.8ZM109.1 485.3A2.8 1.3 60.2 1 1 106.3 480.5A2.8 1.3 60.2 1 1 109.1 485.3ZM110.5 493.2A1.5 1.2 65.5 1 1 109.2 490.5A1.5 1.2 65.5 1 1 110.5 493.2ZM103.3 480.3A1.8 1.1 146 1 1 106.2 478.3A1.8 1.1 146 1 1 103.3 480.3ZM112.3 379.4A2.8 1.4 179.8 1 1 118 379.4A2.8 1.4 179.8 1 1 112.3 379.4ZM127.5 387.7A2.9 1.3 110.7 1 1 129.5 382.2A2.9 1.3 110.7 1 1 127.5 387.7ZM117.5 369.9A1.8 1 6 1 1 114 369.5A1.8 1 6 1 1 117.5 369.9ZM120.3 377.6A2.2 0.9 23.7 1 1 116.2 375.8A2.2 0.9 23.7 1 1 120.3 377.6ZM121.5 389.6A1.6 1.2 129.9 1 1 123.5 387.1A1.6 1.2 129.9 1 1 121.5 389.6ZM124.9 372.4A2.3 0.8 62.2 1 1 122.7 368.3A2.3 0.8 62.2 1 1 124.9 372.4ZM132.3 372.7A2.5 1 50.7 1 1 129.2 368.9A2.5 1 50.7 1 1 132.3 372.7ZM125.5 374A3 1.2 148.5 1 1 130.7 370.8A3 1.2 148.5 1 1 125.5 374ZM124.8 383.1A3.1 0.9 93.7 1 1 125.2 376.9A3.1 0.9 93.7 1 1 124.8 383.1ZM119.5 381.1A3 0.9 110.9 1 1 121.6 375.4A3 0.9 110.9 1 1 119.5 381.1ZM24.6 400A2 1.3 158.9 1 1 28.4 398.5A2 1.3 158.9 1 1 24.6 400ZM36.3 392.2A2.9 0.9 157.1 1 1 41.8 389.9A2.9 0.9 157.1 1 1 36.3 392.2ZM43.3 395.8A1.7 1.3 98.1 1 1 43.7 392.5A1.7 1.3 98.1 1 1 43.3 395.8ZM24.9 387A3 1.4 131.5 1 1 28.8 382.5A3 1.4 131.5 1 1 24.9 387ZM42.1 391A2.4 1.1 29.5 1 1 37.8 388.6A2.4 1.1 29.5 1 1 42.1 391ZM28.8 390.3A1.7 0.8 93.5 1 1 29 386.9A1.7 0.8 93.5 1 1 28.8 390.3ZM28.1 422.7A2.5 1 53.3 1 1 25.1 418.8A2.5 1 53.3 1 1 28.1 422.7ZM20.3 414.2A1.8 1 81 1 1 19.7 410.7A1.8 1 81 1 1 20.3 414.2ZM18.1 415.5A2.7 0.9 55.1 1 1 15 411.1A2.7 0.9 55.1 1 1 18.1 415.5ZM13.3 416.9A2.1 0.8 139.8 1 1 16.5 414.2A2.1 0.8 139.8 1 1 13.3 416.9ZM20.7 406.4A1.8 1.3 124.7 1 1 22.8 403.3A1.8 1.3 124.7 1 1 20.7 406.4ZM28.4 416.1A3 1.3 2.9 1 1 22.4 415.8A3 1.3 2.9 1 1 28.4 416.1ZM16.6 409.4A2.5 1.1 42.5 1 1 13 406.1A2.5 1.1 42.5 1 1 16.6 409.4ZM27.3 412.3A2.6 0.9 147.2 1 1 31.7 409.5A2.6 0.9 147.2 1 1 27.3 412.3ZM26.3 414.7A2.2 1.3 60.3 1 1 24.1 410.8A2.2 1.3 60.3 1 1 26.3 414.7ZM26.6 412.6A2.2 0.8 155.1 1 1 30.6 410.7A2.2 0.8 155.1 1 1 26.6 412.6ZM26.2 421.6A2 1.2 90.3 1 1 26.2 417.7A2 1.2 90.3 1 1 26.2 421.6ZM21.4 420A2.9 1.1 20.8 1 1 16.1 417.9A2.9 1.1 20.8 1 1 21.4 420ZM12.8 415A3 0.8 40.7 1 1 8.2 411A3 0.8 40.7 1 1 12.8 415ZM23.4 420.6A2.3 0.8 165.1 1 1 27.9 419.4A2.3 0.8 165.1 1 1 23.4 420.6ZM28.5 419.7A1.5 1.1 96.7 1 1 28.8 416.7A1.5 1.1 96.7 1 1 28.5 419.7ZM117.3 415.2A1.8 1.4 34.1 1 1 114.3 413.2A1.8 1.4 34.1 1 1 117.3 415.2ZM125 418.1A1.5 1.3 27.1 1 1 122.2 416.7A1.5 1.3 27.1 1 1 125 418.1ZM128.6 408.1A3.1 1.1 0.5 1 1 122.5 408A3.1 1.1 0.5 1 1 128.6 408.1ZM120.7 410.9A1.6 1.2 163.7 1 1 123.8 410A1.6 1.2 163.7 1 1 120.7 410.9ZM117.2 417.1A1.6 0.9 148.9 1 1 119.9 415.5A1.6 0.9 148.9 1 1 117.2 417.1ZM115.1 408.6A2.8 1.1 106.9 1 1 116.7 403.3A2.8 1.1 106.9 1 1 115.1 408.6ZM120.8 411.3A2.2 1.2 98.6 1 1 121.5 406.9A2.2 1.2 98.6 1 1 120.8 411.3ZM120.2 420.6A2.7 0.9 97.9 1 1 121 415.2A2.7 0.9 97.9 1 1 120.2 420.6ZM122.4 407.1A1.9 0.8 174.7 1 1 126.3 406.7A1.9 0.8 174.7 1 1 122.4 407.1ZM124.6 416A3 0.9 109.5 1 1 126.6 410.4A3 0.9 109.5 1 1 124.6 416ZM113.5 408.3A2.4 1.2 154.2 1 1 117.7 406.3A2.4 1.2 154.2 1 1 113.5 408.3ZM122.9 413.8A1.8 1.1 104.3 1 1 123.8 410.3A1.8 1.1 104.3 1 1 122.9 413.8ZM118.9 407A1.6 1 125.2 1 1 120.7 404.4A1.6 1 125.2 1 1 118.9 407ZM123.6 408.5A2.8 1.2 89.7 1 1 123.6 402.9A2.8 1.2 89.7 1 1 123.6 408.5ZM117.7 409.4A2.1 0.9 89.4 1 1 117.7 405.1A2.1 0.9 89.4 1 1 117.7 409.4ZM117.9 409A2.3 0.9 84 1 1 117.5 404.4A2.3 0.9 84 1 1 117.9 409ZM154.7 402.7A3.1 0.8 136 1 1 159.2 398.3A3.1 0.8 136 1 1 154.7 402.7ZM154 405.9A2.8 1.1 177.4 1 1 159.5 405.6A2.8 1.1 177.4 1 1 154 405.9ZM164.8 410.2A2.4 0.8 100.1 1 1 165.6 405.5A2.4 0.8 100.1 1 1 164.8 410.2ZM148.8 411.7A3.2 1.2 129.1 1 1 152.8 406.8A3.2 1.2 129.1 1 1 148.8 411.7ZM164.6 407.5A2 0.8 154 1 1 168.2 405.8A2 0.8 154 1 1 164.6 407.5ZM155.2 409.3A1.9 0.9 170.4 1 1 158.9 408.7A1.9 0.9 170.4 1 1 155.2 409.3ZM161.4 405.8A1.8 1.1 179.1 1 1 164.9 405.7A1.8 1.1 179.1 1 1 161.4 405.8ZM155.9 401.6A3.1 1.3 166.3 1 1 161.8 400.2A3.1 1.3 166.3 1 1 155.9 401.6ZM164.3 418.1A3.1 0.8 68.2 1 1 162 412.4A3.1 0.8 68.2 1 1 164.3 418.1ZM163.4 410.6A1.9 1.3 144.7 1 1 166.6 408.4A1.9 1.3 144.7 1 1 163.4 410.6ZM153.9 410.9A2.5 1.2 85.1 1 1 153.5 405.9A2.5 1.2 85.1 1 1 153.9 410.9ZM88.7 381.5A1.8 1 97.3 1 1 89.2 378A1.8 1 97.3 1 1 88.7 381.5ZM93.1 382A2 1.4 111.8 1 1 94.6 378.4A2 1.4 111.8 1 1 93.1 382ZM87.4 380.6A2.4 1.1 116.9 1 1 89.5 376.4A2.4 1.1 116.9 1 1 87.4 380.6ZM94.7 382.9A1.6 1.2 139.8 1 1 97.2 380.9A1.6 1.2 139.8 1 1 94.7 382.9ZM95.1 382.4A2.9 0.8 179.6 1 1 100.9 382.4A2.9 0.8 179.6 1 1 95.1 382.4ZM100.4 376.8A3 1 46.1 1 1 96.3 372.6A3 1 46.1 1 1 100.4 376.8ZM100.3 376.8A2 1.1 87.9 1 1 100.2 372.7A2 1.1 87.9 1 1 100.3 376.8ZM98.1 386.4A1.7 0.8 73.9 1 1 97.2 383.1A1.7 0.8 73.9 1 1 98.1 386.4ZM90 382.2A2.4 1.1 56.5 1 1 87.4 378.3A2.4 1.1 56.5 1 1 90 382.2ZM90.3 383.8A3 1.3 96.3 1 1 91 377.9A3 1.3 96.3 1 1 90.3 383.8ZM94.8 381A2.4 0.9 18.5 1 1 90.3 379.5A2.4 0.9 18.5 1 1 94.8 381ZM89.8 385.2A1.7 1.3 134.5 1 1 92.2 382.7A1.7 1.3 134.5 1 1 89.8 385.2ZM93.2 381.9A2.8 1.2 118.9 1 1 95.9 377A2.8 1.2 118.9 1 1 93.2 381.9ZM104.6 383.3A2.4 0.9 22 1 1 100 381.5A2.4 0.9 22 1 1 104.6 383.3ZM55.8 398.2A2.8 0.9 143.9 1 1 60.4 394.8A2.8 0.9 143.9 1 1 55.8 398.2ZM64.9 412.3A2.3 1.4 51.2 1 1 62 408.6A2.3 1.4 51.2 1 1 64.9 412.3ZM52.8 400.5A3.1 0.8 138.3 1 1 57.4 396.4A3.1 0.8 138.3 1 1 52.8 400.5ZM48.2 413.7A2.4 1.2 163.4 1 1 52.7 412.3A2.4 1.2 163.4 1 1 48.2 413.7ZM60.9 397.5A1.9 1.3 55.5 1 1 58.7 394.3A1.9 1.3 55.5 1 1 60.9 397.5ZM65.7 398.5A1.7 1.3 164.2 1 1 69 397.6A1.7 1.3 164.2 1 1 65.7 398.5ZM53.9 414.4A2.9 0.9 129.5 1 1 57.6 409.8A2.9 0.9 129.5 1 1 53.9 414.4ZM60.1 403.4A1.6 0.9 67.2 1 1 58.9 400.6A1.6 0.9 67.2 1 1 60.1 403.4ZM54.5 418.2A3 1.1 69.2 1 1 52.4 412.5A3 1.1 69.2 1 1 54.5 418.2ZM51.5 415.5A1.6 1.2 39 1 1 49 413.5A1.6 1.2 39 1 1 51.5 415.5ZM61.7 406A2.4 1.1 11.5 1 1 57 405.1A2.4 1.1 11.5 1 1 61.7 406ZM65.6 410A2.3 1.4 69.3 1 1 64 405.8A2.3 1.4 69.3 1 1 65.6 410ZM60.6 396.2A2 1 85.1 1 1 60.2 392.3A2 1 85.1 1 1 60.6 396.2ZM68.3 406.8A2 0.9 39.6 1 1 65.3 404.3A2 0.9 39.6 1 1 68.3 406.8ZM44.1 405.8A3.2 0.7 98.5 1 1 45.1 399.5A3.2 0.7 98.5 1 1 44.1 405.8ZM126.2 351.4A1.6 1.3 159.1 1 1 129.3 350.2A1.6 1.3 159.1 1 1 126.2 351.4ZM123.7 350A1.9 0.8 3.5 1 1 119.8 349.8A1.9 0.8 3.5 1 1 123.7 350ZM127 354A2.2 0.8 34.6 1 1 123.4 351.6A2.2 0.8 34.6 1 1 127 354ZM127.9 361.5A2.7 1.3 52.9 1 1 124.7 357.3A2.7 1.3 52.9 1 1 127.9 361.5ZM119.2 360.5A2.6 1 116.3 1 1 121.5 355.7A2.6 1 116.3 1 1 119.2 360.5ZM117.3 361.6A3.1 1.2 157.9 1 1 123 359.3A3.1 1.2 157.9 1 1 117.3 361.6ZM127.9 356.8A3 0.9 152.8 1 1 133.2 354.1A3 0.9 152.8 1 1 127.9 356.8ZM118.6 356.9A1.6 1.1 74.3 1 1 117.8 353.9A1.6 1.1 74.3 1 1 118.6 356.9ZM118.6 358.1A2.2 1.2 124.9 1 1 121.1 354.6A2.2 1.2 124.9 1 1 118.6 358.1ZM125.7 362.8A2.1 1.2 33 1 1 122.2 360.4A2.1 1.2 33 1 1 125.7 362.8ZM123.6 353.5A2.5 0.8 177 1 1 128.5 353.2A2.5 0.8 177 1 1 123.6 353.5ZM124.9 355.3A2.8 0.9 28.9 1 1 120.1 352.6A2.8 0.9 28.9 1 1 124.9 355.3ZM78.2 395.9A2 1.2 175.3 1 1 82.1 395.6A2 1.2 175.3 1 1 78.2 395.9ZM75.1 393.9A2.8 1.3 48.2 1 1 71.3 389.7A2.8 1.3 48.2 1 1 75.1 393.9ZM76.7 396.3A2.6 1 122.3 1 1 79.5 391.9A2.6 1 122.3 1 1 76.7 396.3ZM82.9 394.6A3.2 1.3 34.9 1 1 77.6 391A3.2 1.3 34.9 1 1 82.9 394.6ZM72.8 395.5A2.9 1 162.9 1 1 78.3 393.8A2.9 1 162.9 1 1 72.8 395.5ZM81.9 387.3A1.8 0.7 79 1 1 81.2 383.8A1.8 0.7 79 1 1 81.9 387.3ZM27.6 396.1A1.9 1.2 73.5 1 1 26.6 392.5A1.9 1.2 73.5 1 1 27.6 396.1ZM27.9 409.3A2.6 0.9 50.9 1 1 24.6 405.2A2.6 0.9 50.9 1 1 27.9 409.3ZM23.2 396.3A2.9 1.1 161.4 1 1 28.7 394.4A2.9 1.1 161.4 1 1 23.2 396.3ZM27.5 397.2A1.8 1.3 48.6 1 1 25.2 394.5A1.8 1.3 48.6 1 1 27.5 397.2ZM17.9 398.9A2.2 0.9 14.6 1 1 13.7 397.8A2.2 0.9 14.6 1 1 17.9 398.9ZM26 408.6A2.5 0.8 1.3 1 1 21.1 408.5A2.5 0.8 1.3 1 1 26 408.6ZM23 392.4A1.5 0.9 25.2 1 1 20.3 391.1A1.5 0.9 25.2 1 1 23 392.4ZM197.8 408.3A2.2 0.7 63.3 1 1 195.8 404.4A2.2 0.7 63.3 1 1 197.8 408.3ZM185.2 414.6A1.9 1.1 148.9 1 1 188.4 412.7A1.9 1.1 148.9 1 1 185.2 414.6ZM192.5 422.3A2 0.9 144.9 1 1 195.8 420A2 0.9 144.9 1 1 192.5 422.3ZM183.4 412.4A1.6 1.3 170 1 1 186.5 411.8A1.6 1.3 170 1 1 183.4 412.4ZM185.4 416.4A2 0.7 100 1 1 186.1 412.5A2 0.7 100 1 1 185.4 416.4ZM202.1 422.1A3 0.7 65.6 1 1 199.6 416.6A3 0.7 65.6 1 1 202.1 422.1ZM194.8 413.1A1.9 1.3 89.1 1 1 194.7 409.2A1.9 1.3 89.1 1 1 194.8 413.1ZM189.5 425.5A2.6 1.3 138.2 1 1 193.4 422A2.6 1.3 138.2 1 1 189.5 425.5ZM198.2 414.6A2.9 1 161.8 1 1 203.8 412.8A2.9 1 161.8 1 1 198.2 414.6ZM192.3 417.2A1.7 0.9 130.4 1 1 194.6 414.5A1.7 0.9 130.4 1 1 192.3 417.2ZM189.1 419.5A3.2 1.1 81 1 1 188.1 413.2A3.2 1.1 81 1 1 189.1 419.5ZM52.2 376.4A2.6 1.1 47.6 1 1 48.7 372.5A2.6 1.1 47.6 1 1 52.2 376.4ZM53.9 378.1A1.6 0.8 54.8 1 1 52.1 375.5A1.6 0.8 54.8 1 1 53.9 378.1ZM55.4 379.8A1.8 1 32.8 1 1 52.4 377.8A1.8 1 32.8 1 1 55.4 379.8ZM58.5 372.7A1.6 0.8 171.1 1 1 61.6 372.2A1.6 0.8 171.1 1 1 58.5 372.7ZM59.4 361.8A1.5 0.8 12 1 1 56.4 361.2A1.5 0.8 12 1 1 59.4 361.8ZM41.2 366.3A2 1 169 1 1 45.2 365.5A2 1 169 1 1 41.2 366.3ZM43 372A3 1.3 12.6 1 1 37.1 370.7A3 1.3 12.6 1 1 43 372ZM41.7 382.4A3 1.2 94.5 1 1 42.2 376.4A3 1.2 94.5 1 1 41.7 382.4ZM65.7 372.4A2.6 1.3 10 1 1 60.5 371.5A2.6 1.3 10 1 1 65.7 372.4ZM46.5 368.3A2.2 1.2 76.3 1 1 45.4 363.9A2.2 1.2 76.3 1 1 46.5 368.3ZM63.1 370.1A1.7 1.2 133.9 1 1 65.5 367.6A1.7 1.2 133.9 1 1 63.1 370.1ZM44.5 377.5A2.9 1.1 67.6 1 1 42.3 372.1A2.9 1.1 67.6 1 1 44.5 377.5ZM49.6 373.6A3.1 1.1 81.3 1 1 48.6 367.5A3.1 1.1 81.3 1 1 49.6 373.6ZM51 375.6A1.6 0.9 96.7 1 1 51.3 372.5A1.6 0.9 96.7 1 1 51 375.6ZM61.4 384A2.6 0.8 84.4 1 1 60.9 378.9A2.6 0.8 84.4 1 1 61.4 384ZM58.4 376.3A3.1 1.2 161.5 1 1 64.4 374.3A3.1 1.2 161.5 1 1 58.4 376.3ZM70.7 380.8A3.1 1.3 25.6 1 1 65.2 378.2A3.1 1.3 25.6 1 1 70.7 380.8ZM68.5 379.8A1.9 0.9 33.3 1 1 65.3 377.7A1.9 0.9 33.3 1 1 68.5 379.8ZM72.6 379.3A2.4 0.9 37.3 1 1 68.9 376.4A2.4 0.9 37.3 1 1 72.6 379.3ZM73.4 378.5A2.3 1.4 42.9 1 1 70 375.3A2.3 1.4 42.9 1 1 73.4 378.5ZM72.9 381.7A2.8 1.3 13 1 1 67.4 380.5A2.8 1.3 13 1 1 72.9 381.7ZM64.1 376.8A3 1.4 11.8 1 1 58.2 375.6A3 1.4 11.8 1 1 64.1 376.8ZM72.2 372.7A1.8 0.9 167.2 1 1 75.8 371.9A1.8 0.9 167.2 1 1 72.2 372.7ZM68.6 376.5A2 1 110.6 1 1 70 372.8A2 1 110.6 1 1 68.6 376.5ZM75.8 378.7A2.3 1 15.9 1 1 71.4 377.5A2.3 1 15.9 1 1 75.8 378.7ZM56.8 369.4A2 1.4 174.6 1 1 60.9 369A2 1.4 174.6 1 1 56.8 369.4ZM51.7 373.5A2.1 1.3 126 1 1 54.2 370.1A2.1 1.3 126 1 1 51.7 373.5ZM187.3 427.1A2.6 0.8 37.7 1 1 183.1 423.9A2.6 0.8 37.7 1 1 187.3 427.1ZM182.1 431.1A2.5 0.7 50.1 1 1 178.9 427.3A2.5 0.7 50.1 1 1 182.1 431.1ZM182.3 438.6A2.6 0.9 1.4 1 1 177.2 438.4A2.6 0.9 1.4 1 1 182.3 438.6ZM181.9 436.6A2.7 1.3 138.6 1 1 186 433A2.7 1.3 138.6 1 1 181.9 436.6ZM180.2 437.2A2 1 110.3 1 1 181.5 433.6A2 1 110.3 1 1 180.2 437.2ZM179.4 438.1A1.7 0.8 92.5 1 1 179.5 434.7A1.7 0.8 92.5 1 1 179.4 438.1ZM31.7 423.9A1.7 0.8 157.8 1 1 34.9 422.6A1.7 0.8 157.8 1 1 31.7 423.9ZM40.5 422.4A2.6 0.9 85.9 1 1 40.2 417.2A2.6 0.9 85.9 1 1 40.5 422.4ZM34.5 417.3A2 1.2 2.3 1 1 30.6 417.1A2 1.2 2.3 1 1 34.5 417.3ZM35.5 420.7A2.1 1.1 155.9 1 1 39.4 419A2.1 1.1 155.9 1 1 35.5 420.7ZM33.7 424.4A1.7 1.3 138.4 1 1 36.2 422.1A1.7 1.3 138.4 1 1 33.7 424.4ZM37.5 421.8A2.8 0.7 5.4 1 1 31.9 421.3A2.8 0.7 5.4 1 1 37.5 421.8ZM29.6 418.1A3.2 1.3 157.2 1 1 35.5 415.7A3.2 1.3 157.2 1 1 29.6 418.1ZM36.6 419.4A1.6 0.8 91 1 1 36.7 416.1A1.6 0.8 91 1 1 36.6 419.4ZM33.4 421.4A1.6 0.9 3.8 1 1 30.2 421.2A1.6 0.9 3.8 1 1 33.4 421.4ZM41.3 416A1.9 1.1 19.8 1 1 37.7 414.7A1.9 1.1 19.8 1 1 41.3 416ZM43.2 423.9A2.6 1.3 167.8 1 1 48.3 422.8A2.6 1.3 167.8 1 1 43.2 423.9ZM32 422.2A2.3 1.3 92.8 1 1 32.2 417.5A2.3 1.3 92.8 1 1 32 422.2ZM155.9 393A1.5 1.4 125.3 1 1 157.6 390.5A1.5 1.4 125.3 1 1 155.9 393ZM150.4 376.4A2.6 1.4 85.3 1 1 150 371.1A2.6 1.4 85.3 1 1 150.4 376.4ZM154.4 381.5A1.8 1 65.9 1 1 153 378.3A1.8 1 65.9 1 1 154.4 381.5ZM153 376.8A1.7 1 101 1 1 153.7 373.5A1.7 1 101 1 1 153 376.8ZM158.1 385.3A1.7 1.4 101.5 1 1 158.8 382A1.7 1.4 101.5 1 1 158.1 385.3ZM154.6 390.1A2.6 1.1 55.5 1 1 151.6 385.8A2.6 1.1 55.5 1 1 154.6 390.1ZM141.2 390.5A2.5 1 178.2 1 1 146.2 390.3A2.5 1 178.2 1 1 141.2 390.5ZM141.5 383.2A1.7 0.8 161.7 1 1 144.7 382.1A1.7 0.8 161.7 1 1 141.5 383.2ZM152.3 378A1.7 1.1 31.3 1 1 149.3 376.2A1.7 1.1 31.3 1 1 152.3 378ZM136.1 378.5A2.7 0.8 148 1 1 140.7 375.6A2.7 0.8 148 1 1 136.1 378.5ZM149.6 398.1A1.7 1.2 67.8 1 1 148.3 395A1.7 1.2 67.8 1 1 149.6 398.1ZM142.7 395.5A2.2 1 164.2 1 1 146.9 394.3A2.2 1 164.2 1 1 142.7 395.5ZM138.6 384.7A2.8 1 53.9 1 1 135.2 380.2A2.8 1 53.9 1 1 138.6 384.7ZM147 395.2A2.6 1 161.2 1 1 152 393.6A2.6 1 161.2 1 1 147 395.2ZM109.7 434.5A2.5 0.8 176.7 1 1 114.6 434.2A2.5 0.8 176.7 1 1 109.7 434.5ZM111.3 422.1A2.6 0.9 108 1 1 112.8 417.3A2.6 0.9 108 1 1 111.3 422.1ZM107.7 427.9A2.8 1 116.8 1 1 110.3 422.9A2.8 1 116.8 1 1 107.7 427.9ZM107.8 426.5A2 1.1 29.4 1 1 104.2 424.5A2 1.1 29.4 1 1 107.8 426.5ZM100.9 429A2.9 1.2 128.4 1 1 104.5 424.4A2.9 1.2 128.4 1 1 100.9 429ZM115.9 426.3A3.1 1.1 94.8 1 1 116.5 420.1A3.1 1.1 94.8 1 1 115.9 426.3ZM39.3 411.2A2.5 0.8 123.8 1 1 42.1 407A2.5 0.8 123.8 1 1 39.3 411.2ZM35.2 421.8A3.1 1.2 151.2 1 1 40.7 418.8A3.1 1.2 151.2 1 1 35.2 421.8ZM46.7 419.1A1.7 1.2 62 1 1 45.1 416.1A1.7 1.2 62 1 1 46.7 419.1ZM42.1 412.3A2.5 1.3 169.9 1 1 47.1 411.4A2.5 1.3 169.9 1 1 42.1 412.3ZM38.8 411A1.7 1.1 17.5 1 1 35.7 410A1.7 1.1 17.5 1 1 38.8 411ZM38.9 420A1.9 0.7 26.9 1 1 35.4 418.3A1.9 0.7 26.9 1 1 38.9 420ZM44.8 422.9A2 1.4 88.3 1 1 44.7 419A2 1.4 88.3 1 1 44.8 422.9ZM37.7 419.3A1.7 0.9 129.2 1 1 39.9 416.6A1.7 0.9 129.2 1 1 37.7 419.3ZM32.9 410.7A1.9 1.1 148.3 1 1 36.1 408.8A1.9 1.1 148.3 1 1 32.9 410.7ZM32.8 418.2A2.6 1.3 147.8 1 1 37.1 415.4A2.6 1.3 147.8 1 1 32.8 418.2ZM41 420.7A2.7 0.8 136.2 1 1 44.8 417A2.7 0.8 136.2 1 1 41 420.7ZM35.5 408.6A2.3 1.3 131 1 1 38.4 405.2A2.3 1.3 131 1 1 35.5 408.6ZM45.7 408.2A2.1 1.3 128.2 1 1 48.3 404.9A2.1 1.3 128.2 1 1 45.7 408.2ZM131 381.5A2.7 1.2 20.5 1 1 126 379.6A2.7 1.2 20.5 1 1 131 381.5ZM131.7 385.9A2.1 0.8 170.5 1 1 135.8 385.2A2.1 0.8 170.5 1 1 131.7 385.9ZM132.7 394.9A2.2 1.3 167.5 1 1 137 393.9A2.2 1.3 167.5 1 1 132.7 394.9ZM132.5 400.6A2.3 1 143.8 1 1 136.2 397.9A2.3 1 143.8 1 1 132.5 400.6ZM119.9 389.5A2.4 1.3 139.1 1 1 123.5 386.3A2.4 1.3 139.1 1 1 119.9 389.5ZM131.3 392.7A2.9 1.2 67.9 1 1 129.1 387.4A2.9 1.2 67.9 1 1 131.3 392.7ZM134.8 380.4A2.3 1.1 83.2 1 1 134.3 375.9A2.3 1.1 83.2 1 1 134.8 380.4ZM134.2 384.3A2.7 1 16.3 1 1 129 382.8A2.7 1 16.3 1 1 134.2 384.3ZM150.3 360.4A2.1 1 8.1 1 1 146.2 359.8A2.1 1 8.1 1 1 150.3 360.4ZM164.5 356.9A1.9 0.9 38.4 1 1 161.5 354.5A1.9 0.9 38.4 1 1 164.5 356.9ZM157.5 360.1A1.8 1 95.6 1 1 157.8 356.5A1.8 1 95.6 1 1 157.5 360.1ZM152.3 363.2A1.8 1.1 122.3 1 1 154.2 360.1A1.8 1.1 122.3 1 1 152.3 363.2ZM154.8 361.1A3.2 0.9 28.7 1 1 149.2 358.1A3.2 0.9 28.7 1 1 154.8 361.1ZM150.1 362A2.3 1.4 64.2 1 1 148.2 358A2.3 1.4 64.2 1 1 150.1 362ZM152.5 364.7A1.8 1.4 155 1 1 155.7 363.2A1.8 1.4 155 1 1 152.5 364.7ZM156.7 355.1A1.8 0.8 30.3 1 1 153.7 353.3A1.8 0.8 30.3 1 1 156.7 355.1ZM33.1 375.5A2.1 0.8 141.8 1 1 36.3 372.9A2.1 0.8 141.8 1 1 33.1 375.5ZM34.5 368.8A2.9 1.4 19.9 1 1 29 366.8A2.9 1.4 19.9 1 1 34.5 368.8ZM28.8 379.6A3 1.2 51.6 1 1 25.1 374.9A3 1.2 51.6 1 1 28.8 379.6ZM23.7 373.6A1.6 0.7 142.9 1 1 26.3 371.6A1.6 0.7 142.9 1 1 23.7 373.6ZM32.3 375.2A2.2 1.3 98 1 1 32.9 371A2.2 1.3 98 1 1 32.3 375.2ZM29.1 378.3A2.9 0.8 135.1 1 1 33.1 374.3A2.9 0.8 135.1 1 1 29.1 378.3ZM27.9 370.3A2.6 0.9 76.9 1 1 26.7 365.2A2.6 0.9 76.9 1 1 27.9 370.3ZM29.3 369.2A2.4 1 123.5 1 1 32 365.2A2.4 1 123.5 1 1 29.3 369.2ZM25.2 379.7A2.6 0.9 130.8 1 1 28.6 375.8A2.6 0.9 130.8 1 1 25.2 379.7ZM28.8 373.3A2.4 1.1 166.8 1 1 33.5 372.1A2.4 1.1 166.8 1 1 28.8 373.3ZM27.6 369.6A1.5 1.4 173 1 1 30.6 369.2A1.5 1.4 173 1 1 27.6 369.6ZM29 379.8A2.1 0.8 170.9 1 1 33.2 379.1A2.1 0.8 170.9 1 1 29 379.8ZM25.5 372.1A2.2 0.8 162.4 1 1 29.7 370.8A2.2 0.8 162.4 1 1 25.5 372.1ZM38.6 375.9A3.1 1.1 78.6 1 1 37.4 369.9A3.1 1.1 78.6 1 1 38.6 375.9ZM193.3 361.5A2.7 1.1 166.6 1 1 198.5 360.3A2.7 1.1 166.6 1 1 193.3 361.5ZM197.4 362.6A1.7 0.8 124.8 1 1 199.4 359.8A1.7 0.8 124.8 1 1 197.4 362.6ZM200.7 365A3 0.8 161.9 1 1 206.4 363.1A3 0.8 161.9 1 1 200.7 365ZM196.4 368A2 0.8 97.4 1 1 196.9 364.1A2 0.8 97.4 1 1 196.4 368ZM198 362.9A2.2 1.3 109.6 1 1 199.5 358.7A2.2 1.3 109.6 1 1 198 362.9ZM200.1 358A2.5 1.3 56.9 1 1 197.4 353.9A2.5 1.3 56.9 1 1 200.1 358ZM201.4 368.8A1.8 1.3 19.6 1 1 198.1 367.6A1.8 1.3 19.6 1 1 201.4 368.8ZM198.4 367.9A3.2 1 26.8 1 1 192.8 365.1A3.2 1 26.8 1 1 198.4 367.9ZM197.4 370.4A2.9 1.2 120.8 1 1 200.4 365.3A2.9 1.2 120.8 1 1 197.4 370.4ZM201.5 367.9A3.1 0.9 71.2 1 1 199.5 362A3.1 0.9 71.2 1 1 201.5 367.9ZM195.5 367.5A1.9 1 161.7 1 1 199 366.4A1.9 1 161.7 1 1 195.5 367.5ZM196.7 366.4A2.1 1.2 93.8 1 1 197 362.2A2.1 1.2 93.8 1 1 196.7 366.4ZM195.1 449.6A3.1 1 36.1 1 1 190.1 446A3.1 1 36.1 1 1 195.1 449.6ZM201.5 448.9A1.9 1.3 33.3 1 1 198.4 446.9A1.9 1.3 33.3 1 1 201.5 448.9ZM193.6 434.7A2.5 1.1 103.2 1 1 194.8 429.8A2.5 1.1 103.2 1 1 193.6 434.7ZM203.4 442.4A1.6 1.1 133.1 1 1 205.6 440.1A1.6 1.1 133.1 1 1 203.4 442.4ZM197.7 444A1.9 0.8 123.3 1 1 199.8 440.8A1.9 0.8 123.3 1 1 197.7 444ZM191.9 440.8A1.6 1.1 24.9 1 1 189 439.5A1.6 1.1 24.9 1 1 191.9 440.8ZM195 437.7A1.6 1.3 180 1 1 198.3 437.7A1.6 1.3 180 1 1 195 437.7ZM191.4 446.1A1.9 1.4 37.2 1 1 188.4 443.8A1.9 1.4 37.2 1 1 191.4 446.1ZM202.2 435.8A3.1 0.7 175.4 1 1 208.4 435.3A3.1 0.7 175.4 1 1 202.2 435.8ZM200.7 440.5A1.6 1.4 76.5 1 1 200 437.5A1.6 1.4 76.5 1 1 200.7 440.5ZM201.1 444A1.8 1 40.7 1 1 198.4 441.7A1.8 1 40.7 1 1 201.1 444ZM197.3 445.7A1.7 1.3 57.5 1 1 195.4 442.8A1.7 1.3 57.5 1 1 197.3 445.7ZM201.1 443.1A2.7 0.9 152.8 1 1 205.9 440.6A2.7 0.9 152.8 1 1 201.1 443.1ZM203.2 434.7A2.1 1.2 166.3 1 1 207.3 433.7A2.1 1.2 166.3 1 1 203.2 434.7ZM197.8 443.8A3.2 1.2 121.7 1 1 201.2 438.4A3.2 1.2 121.7 1 1 197.8 443.8ZM197.2 438.9A2.5 0.9 94 1 1 197.5 434A2.5 0.9 94 1 1 197.2 438.9ZM198.3 423.8A2.9 0.9 16.6 1 1 192.8 422.2A2.9 0.9 16.6 1 1 198.3 423.8ZM188 430.4A3.1 1.4 168.1 1 1 194 429.1A3.1 1.4 168.1 1 1 188 430.4ZM192.4 427A3.1 1.1 18.9 1 1 186.4 425A3.1 1.1 18.9 1 1 192.4 427ZM176.8 432.5A2.5 0.9 179.5 1 1 181.9 432.4A2.5 0.9 179.5 1 1 176.8 432.5ZM188.4 432.8A1.8 1 122.1 1 1 190.2 429.9A1.8 1 122.1 1 1 188.4 432.8ZM184.9 435.3A2.4 0.9 8.2 1 1 180.1 434.6A2.4 0.9 8.2 1 1 184.9 435.3ZM182.8 441.3A3.1 0.7 76.3 1 1 181.3 435.2A3.1 0.7 76.3 1 1 182.8 441.3ZM202.9 430.1A1.6 0.7 61.6 1 1 201.4 427.2A1.6 0.7 61.6 1 1 202.9 430.1ZM198.2 444.6A2.1 1.3 101.1 1 1 199 440.5A2.1 1.3 101.1 1 1 198.2 444.6ZM191.9 426.2A2.8 0.8 25.9 1 1 186.9 423.7A2.8 0.8 25.9 1 1 191.9 426.2ZM177.4 442.9A2.2 1.1 46.1 1 1 174.3 439.7A2.2 1.1 46.1 1 1 177.4 442.9ZM191.9 444.3A2.7 1.1 160.4 1 1 196.8 442.5A2.7 1.1 160.4 1 1 191.9 444.3ZM178.3 440.2A2.5 1.3 137.7 1 1 181.9 436.9A2.5 1.3 137.7 1 1 178.3 440.2ZM190.8 445.3A2.4 1 126.4 1 1 193.7 441.3A2.4 1 126.4 1 1 190.8 445.3ZM179.5 458.2A2.6 0.7 86.3 1 1 179.2 453.1A2.6 0.7 86.3 1 1 179.5 458.2ZM130.7 366.4A2.9 1.2 123.4 1 1 133.9 361.6A2.9 1.2 123.4 1 1 130.7 366.4ZM125.3 359.1A2.3 1.3 102.4 1 1 126.3 354.6A2.3 1.3 102.4 1 1 125.3 359.1ZM133.8 362.8A2.6 0.7 25.7 1 1 129.1 360.5A2.6 0.7 25.7 1 1 133.8 362.8ZM134.3 361.4A1.6 0.9 9.1 1 1 131.2 360.9A1.6 0.9 9.1 1 1 134.3 361.4ZM123.8 359.8A1.6 0.8 114 1 1 125.1 356.9A1.6 0.8 114 1 1 123.8 359.8ZM129.7 363.4A1.6 0.8 154.7 1 1 132.6 362A1.6 0.8 154.7 1 1 129.7 363.4ZM127.6 364A2.6 1.1 166.7 1 1 132.7 362.8A2.6 1.1 166.7 1 1 127.6 364ZM123.6 358A2.3 0.9 120.2 1 1 125.9 354.1A2.3 0.9 120.2 1 1 123.6 358ZM131.9 364.9A2.7 0.9 53.6 1 1 128.6 360.5A2.7 0.9 53.6 1 1 131.9 364.9ZM158.7 471.3A2.3 1.2 8 1 1 154.1 470.7A2.3 1.2 8 1 1 158.7 471.3ZM156.5 465.3A2.6 1 115.9 1 1 158.8 460.6A2.6 1 115.9 1 1 156.5 465.3ZM147 467.3A3.1 1.3 175.7 1 1 153.1 466.8A3.1 1.3 175.7 1 1 147 467.3ZM158.1 480.3A2 1 45.8 1 1 155.3 477.5A2 1 45.8 1 1 158.1 480.3ZM144.5 468.8A1.9 1.2 116.8 1 1 146.3 465.4A1.9 1.2 116.8 1 1 144.5 468.8ZM154.1 466.2A2.2 1 71 1 1 152.7 461.9A2.2 1 71 1 1 154.1 466.2ZM151.6 473.7A1.9 1 166.4 1 1 155.3 472.7A1.9 1 166.4 1 1 151.6 473.7ZM155 485.3A1.6 1.3 90 1 1 155 482.1A1.6 1.3 90 1 1 155 485.3ZM161.4 474.2A2.6 0.8 27.6 1 1 156.8 471.9A2.6 0.8 27.6 1 1 161.4 474.2ZM147.8 479.2A2.7 0.7 48 1 1 144.3 475.2A2.7 0.7 48 1 1 147.8 479.2ZM156 470.2A2.1 0.7 4.8 1 1 151.9 469.8A2.1 0.7 4.8 1 1 156 470.2ZM146.6 472.3A2 1 10.2 1 1 142.6 471.6A2 1 10.2 1 1 146.6 472.3ZM160.8 478.3A3.2 0.7 17.4 1 1 154.7 476.3A3.2 0.7 17.4 1 1 160.8 478.3ZM154.4 473.4A2.8 1.1 51.9 1 1 151 469A2.8 1.1 51.9 1 1 154.4 473.4ZM161.1 472.8A2.2 1 61.2 1 1 158.9 468.9A2.2 1 61.2 1 1 161.1 472.8ZM159.4 475.1A3 1.3 95.7 1 1 160 469.2A3 1.3 95.7 1 1 159.4 475.1ZM85.7 371.6A2.8 1.3 14.2 1 1 80.2 370.2A2.8 1.3 14.2 1 1 85.7 371.6ZM73 365.9A2.2 1.1 145.6 1 1 76.6 363.4A2.2 1.1 145.6 1 1 73 365.9ZM87.8 361.6A3.1 1.1 75.5 1 1 86.3 355.6A3.1 1.1 75.5 1 1 87.8 361.6ZM83.1 363.7A1.8 1.4 110.7 1 1 84.4 360.3A1.8 1.4 110.7 1 1 83.1 363.7ZM82 371.2A2.8 1.1 168.3 1 1 87.6 370A2.8 1.1 168.3 1 1 82 371.2ZM81.4 370.7A1.6 0.7 10.9 1 1 78.3 370.2A1.6 0.7 10.9 1 1 81.4 370.7ZM188.2 406.1A1.8 0.9 162.8 1 1 191.7 405.1A1.8 0.9 162.8 1 1 188.2 406.1ZM175.4 408.2A2.3 1.1 156.3 1 1 179.6 406.3A2.3 1.1 156.3 1 1 175.4 408.2ZM184.4 408.7A2.8 0.9 146.7 1 1 189.1 405.6A2.8 0.9 146.7 1 1 184.4 408.7ZM178.3 421A2.2 0.8 101.5 1 1 179.2 416.7A2.2 0.8 101.5 1 1 178.3 421ZM176.8 418.3A2.2 1 133.7 1 1 179.8 415.1A2.2 1 133.7 1 1 176.8 418.3ZM175.6 399.1A1.9 0.9 133.5 1 1 178.1 396.4A1.9 0.9 133.5 1 1 175.6 399.1ZM191 409.1A3.1 1.1 60.4 1 1 188 403.8A3.1 1.1 60.4 1 1 191 409.1ZM187.3 411A2.7 1.1 133 1 1 191.1 407A2.7 1.1 133 1 1 187.3 411ZM182.8 404.6A1.6 0.8 48.2 1 1 180.7 402.3A1.6 0.8 48.2 1 1 182.8 404.6ZM182.2 418.2A1.8 1 38 1 1 179.3 415.9A1.8 1 38 1 1 182.2 418.2ZM187.7 411A2.6 0.8 132.3 1 1 191.2 407.2A2.6 0.8 132.3 1 1 187.7 411ZM171.6 403.6A2.6 1.2 90.8 1 1 171.6 398.3A2.6 1.2 90.8 1 1 171.6 403.6ZM128.3 429.6A3 0.8 40.8 1 1 123.8 425.7A3 0.8 40.8 1 1 128.3 429.6ZM124.6 445.4A2.5 1.4 81.9 1 1 123.9 440.5A2.5 1.4 81.9 1 1 124.6 445.4ZM123.8 443.2A2.5 0.8 105.6 1 1 125.1 438.4A2.5 0.8 105.6 1 1 123.8 443.2ZM123.4 431.2A2.2 1.3 62 1 1 121.3 427.3A2.2 1.3 62 1 1 123.4 431.2ZM122.1 438.9A2.1 1.3 53.9 1 1 119.6 435.4A2.1 1.3 53.9 1 1 122.1 438.9ZM133 434.2A2.2 1 9.3 1 1 128.6 433.5A2.2 1 9.3 1 1 133 434.2ZM123.9 444.4A1.6 1.4 128.2 1 1 125.9 441.8A1.6 1.4 128.2 1 1 123.9 444.4ZM119.1 442.5A2.3 0.9 122.6 1 1 121.6 438.6A2.3 0.9 122.6 1 1 119.1 442.5ZM119.9 439.4A1.5 1.2 105.2 1 1 120.7 436.5A1.5 1.2 105.2 1 1 119.9 439.4ZM126.4 431.3A1.5 1.2 61.8 1 1 125 428.6A1.5 1.2 61.8 1 1 126.4 431.3ZM128.3 437.5A3.1 1.3 89 1 1 128.2 431.4A3.1 1.3 89 1 1 128.3 437.5ZM117.7 437.6A3.1 1.2 17.7 1 1 111.7 435.7A3.1 1.2 17.7 1 1 117.7 437.6ZM131.6 438A2.4 1 4.1 1 1 126.8 437.6A2.4 1 4.1 1 1 131.6 438ZM121.6 443.3A1.6 0.7 98.3 1 1 122 440.2A1.6 0.7 98.3 1 1 121.6 443.3ZM24.2 364.4A1.9 1.2 26.4 1 1 20.8 362.7A1.9 1.2 26.4 1 1 24.2 364.4ZM16.9 360.1A2.4 1 72.8 1 1 15.5 355.4A2.4 1 72.8 1 1 16.9 360.1ZM24.1 356.6A2.9 1.1 37.2 1 1 19.4 353.1A2.9 1.1 37.2 1 1 24.1 356.6ZM28.9 362.5A2.6 0.7 34.4 1 1 24.7 359.6A2.6 0.7 34.4 1 1 28.9 362.5ZM23.6 362.2A2.5 1.2 52.4 1 1 20.6 358.3A2.5 1.2 52.4 1 1 23.6 362.2ZM16.1 365.9A2.1 0.9 146.1 1 1 19.7 363.5A2.1 0.9 146.1 1 1 16.1 365.9ZM206.8 465.5A2.7 0.7 165.1 1 1 212 464.1A2.7 0.7 165.1 1 1 206.8 465.5ZM201.6 467.2A2.4 1 98.8 1 1 202.3 462.6A2.4 1 98.8 1 1 201.6 467.2ZM193.1 468.6A2.6 1.3 141.8 1 1 197.2 465.4A2.6 1.3 141.8 1 1 193.1 468.6ZM202.9 469A1.8 1.1 137.5 1 1 205.6 466.5A1.8 1.1 137.5 1 1 202.9 469ZM192.5 474.3A2.1 1.2 57.3 1 1 190.3 470.8A2.1 1.2 57.3 1 1 192.5 474.3ZM204.6 465.9A1.6 1 120.4 1 1 206.3 463.1A1.6 1 120.4 1 1 204.6 465.9ZM203.7 463.2A2.8 1.2 169.4 1 1 209.2 462.2A2.8 1.2 169.4 1 1 203.7 463.2ZM207.2 474.5A2.5 1.2 88.5 1 1 207.1 469.5A2.5 1.2 88.5 1 1 207.2 474.5ZM190.6 470.3A2.8 1 163.6 1 1 196 468.7A2.8 1 163.6 1 1 190.6 470.3ZM193 466.5A1.6 0.8 122.2 1 1 194.7 463.8A1.6 0.8 122.2 1 1 193 466.5ZM211.7 475.8A1.9 0.7 44.9 1 1 209 473.1A1.9 0.7 44.9 1 1 211.7 475.8ZM199.8 447.5A2 0.7 65.6 1 1 198.1 443.9A2 0.7 65.6 1 1 199.8 447.5ZM187.9 448A1.8 0.8 17.3 1 1 184.5 447A1.8 0.8 17.3 1 1 187.9 448ZM185.5 442.6A2.4 1.3 157.1 1 1 190 440.8A2.4 1.3 157.1 1 1 185.5 442.6ZM189.3 440.8A2.7 0.9 147 1 1 193.9 437.9A2.7 0.9 147 1 1 189.3 440.8ZM184.2 449.3A2.3 1.1 179.6 1 1 188.7 449.3A2.3 1.1 179.6 1 1 184.2 449.3ZM193.2 439A2 0.9 70.5 1 1 191.9 435.2A2 0.9 70.5 1 1 193.2 439ZM189.4 446A2.3 1.1 66.1 1 1 187.6 441.9A2.3 1.1 66.1 1 1 189.4 446ZM193.8 442.5A2.3 1 169.9 1 1 198.3 441.7A2.3 1 169.9 1 1 193.8 442.5ZM194.5 450.8A1.9 1.1 117.8 1 1 196.3 447.5A1.9 1.1 117.8 1 1 194.5 450.8ZM193.4 443.9A1.7 1.1 60.5 1 1 191.8 441A1.7 1.1 60.5 1 1 193.4 443.9ZM183.9 450.1A1.6 0.9 64.2 1 1 182.5 447.3A1.6 0.9 64.2 1 1 183.9 450.1ZM195 444.5A1.7 1.3 143.7 1 1 197.8 442.5A1.7 1.3 143.7 1 1 195 444.5ZM167.6 352.2A2.3 1.4 161.3 1 1 171.9 350.7A2.3 1.4 161.3 1 1 167.6 352.2ZM166.2 357.1A1.6 1.2 12.3 1 1 163 356.4A1.6 1.2 12.3 1 1 166.2 357.1ZM170.8 357.8A2.3 1.4 117.4 1 1 172.9 353.6A2.3 1.4 117.4 1 1 170.8 357.8ZM179.7 350.7A3.1 1.1 2.2 1 1 173.5 350.5A3.1 1.1 2.2 1 1 179.7 350.7ZM171.4 352.4A2.5 0.9 56 1 1 168.6 348.2A2.5 0.9 56 1 1 171.4 352.4ZM79.7 368.7A2.4 1.4 33.1 1 1 75.7 366.1A2.4 1.4 33.1 1 1 79.7 368.7ZM78.1 368.9A1.9 0.8 61.9 1 1 76.3 365.6A1.9 0.8 61.9 1 1 78.1 368.9ZM72.4 359.1A2.8 1.1 133.2 1 1 76.3 354.9A2.8 1.1 133.2 1 1 72.4 359.1ZM75.9 359.9A3.2 1.3 162.2 1 1 81.9 357.9A3.2 1.3 162.2 1 1 75.9 359.9ZM74 360.1A1.7 0.7 123.1 1 1 75.9 357.2A1.7 0.7 123.1 1 1 74 360.1ZM78.4 362.4A3 1.2 69.8 1 1 76.4 356.8A3 1.2 69.8 1 1 78.4 362.4ZM72 361.5A2.6 0.7 106.4 1 1 73.5 356.5A2.6 0.7 106.4 1 1 72 361.5ZM73.8 366.2A1.6 0.9 125.1 1 1 75.7 363.6A1.6 0.9 125.1 1 1 73.8 366.2ZM69.7 368.6A2.6 0.8 114 1 1 71.8 363.8A2.6 0.8 114 1 1 69.7 368.6ZM75.2 358A3.1 0.9 1.3 1 1 69 357.9A3.1 0.9 1.3 1 1 75.2 358ZM72.7 365.3A1.7 0.9 21 1 1 69.5 364.1A1.7 0.9 21 1 1 72.7 365.3ZM69.7 366.3A2.4 1 169.7 1 1 74.5 365.4A2.4 1 169.7 1 1 69.7 366.3ZM71.3 360A1.8 0.7 118.5 1 1 73 356.8A1.8 0.7 118.5 1 1 71.3 360ZM74.4 358.6A2.3 1 7.7 1 1 69.9 358A2.3 1 7.7 1 1 74.4 358.6ZM70.6 361.7A1.7 1 40.6 1 1 68 359.4A1.7 1 40.6 1 1 70.6 361.7ZM70 364.3A1.8 1 157.5 1 1 73.3 363A1.8 1 157.5 1 1 70 364.3ZM39 433.2A3.7 2 99.1 1 1 40.2 425.9A3.7 2 99.1 1 1 39 433.2ZM36.2 464.8A3.4 2.1 -13.7 1 1 29.7 466.4A3.4 2.1 -13.7 1 1 36.2 464.8ZM44.1 486.8A5 2 -0.1 1 1 34.1 486.8A5 2 -0.1 1 1 44.1 486.8ZM32.2 456.2A4.1 1.4 43.4 1 1 26.2 450.5A4.1 1.4 43.4 1 1 32.2 456.2ZM27.1 478.6A5 1.8 22 1 1 17.9 474.9A5 1.8 22 1 1 27.1 478.6ZM62.7 434.2A3 1.6 112.8 1 1 65 428.6A3 1.6 112.8 1 1 62.7 434.2ZM20.6 480.8A5.3 1.8 83.1 1 1 19.3 470.2A5.3 1.8 83.1 1 1 20.6 480.8ZM73.9 442.7A3.7 2 -10.5 1 1 66.6 444.1A3.7 2 -10.5 1 1 73.9 442.7ZM69.5 484.9A5.3 1.4 62.9 1 1 64.7 475.4A5.3 1.4 62.9 1 1 69.5 484.9ZM37.7 442.6A3.6 2.4 -19.6 1 1 30.9 445.1A3.6 2.4 -19.6 1 1 37.7 442.6ZM67.4 466.6A4.6 2.3 16.5 1 1 58.6 464A4.6 2.3 16.5 1 1 67.4 466.6ZM34.8 463.1A3.3 1.8 67.5 1 1 32.3 457A3.3 1.8 67.5 1 1 34.8 463.1ZM53.7 471.8A4.4 2.3 98.1 1 1 54.9 463A4.4 2.3 98.1 1 1 53.7 471.8ZM37.8 443.2A4.2 1.6 50.8 1 1 32.5 436.7A4.2 1.6 50.8 1 1 37.8 443.2ZM35.5 459.1A3.2 2.2 63.3 1 1 32.6 453.4A3.2 2.2 63.3 1 1 35.5 459.1ZM48 462.8A3.5 2.4 23.6 1 1 41.5 459.9A3.5 2.4 23.6 1 1 48 462.8ZM39.7 466.3A5.2 1.3 -6.5 1 1 29.4 467.5A5.2 1.3 -6.5 1 1 39.7 466.3ZM53.2 464.7A4.4 1.6 22.3 1 1 45.1 461.4A4.4 1.6 22.3 1 1 53.2 464.7ZM57 473.8A3.3 2.1 59.1 1 1 53.6 468.1A3.3 2.1 59.1 1 1 57 473.8ZM61.1 456.7A4.3 1.3 29.9 1 1 53.7 452.4A4.3 1.3 29.9 1 1 61.1 456.7ZM77.1 477.2A3.4 1.8 36.3 1 1 71.6 473.1A3.4 1.8 36.3 1 1 77.1 477.2ZM60.5 446.3A4.4 1.6 73.4 1 1 58 437.8A4.4 1.6 73.4 1 1 60.5 446.3ZM68 462.9A4.5 2.3 63.3 1 1 63.9 454.8A4.5 2.3 63.3 1 1 68 462.9ZM80.7 435.3A4.5 2.1 28.5 1 1 72.8 431.1A4.5 2.1 28.5 1 1 80.7 435.3ZM73.1 460.4A3.5 2 19.1 1 1 66.5 458.1A3.5 2 19.1 1 1 73.1 460.4ZM59.8 453.2A5.3 1.5 66.4 1 1 55.6 443.4A5.3 1.5 66.4 1 1 59.8 453.2ZM32.7 445.3A4.1 2.2 105.8 1 1 35 437.3A4.1 2.2 105.8 1 1 32.7 445.3ZM24.2 469A4.2 1.4 53 1 1 19.2 462.3A4.2 1.4 53 1 1 24.2 469ZM71.6 439A3.9 1.4 70 1 1 69 431.7A3.9 1.4 70 1 1 71.6 439ZM74.4 483.8A3.9 2 20.9 1 1 67.1 481A3.9 2 20.9 1 1 74.4 483.8ZM46.7 467.6A3.6 1.4 46 1 1 41.7 462.5A3.6 1.4 46 1 1 46.7 467.6ZM41.9 452.8A3.7 1.8 -2.9 1 1 34.5 453.2A3.7 1.8 -2.9 1 1 41.9 452.8ZM49.3 477.5A4.2 2.3 -11 1 1 41 479.1A4.2 2.3 -11 1 1 49.3 477.5ZM38.1 457.5A3.9 1.7 -19.9 1 1 30.8 460.2A3.9 1.7 -19.9 1 1 38.1 457.5ZM79.6 472.2A3.2 2 28.2 1 1 74 469.2A3.2 2 28.2 1 1 79.6 472.2ZM37.1 489.4A4.7 2.3 67.2 1 1 33.5 480.7A4.7 2.3 67.2 1 1 37.1 489.4ZM72.8 432.7A3.3 2.1 45.1 1 1 68.1 428.1A3.3 2.1 45.1 1 1 72.8 432.7ZM80.9 483.2A4.1 1.9 -19.8 1 1 73.1 486A4.1 1.9 -19.8 1 1 80.9 483.2ZM36.5 436.4A4.6 1.6 22.8 1 1 28 432.8A4.6 1.6 22.8 1 1 36.5 436.4ZM76.8 470A3 1.5 -13.2 1 1 71 471.3A3 1.5 -13.2 1 1 76.8 470ZM31.5 436.4A5.2 2.1 50 1 1 24.8 428.5A5.2 2.1 50 1 1 31.5 436.4ZM31.1 446.5A3.5 2.4 7.5 1 1 24.2 445.6A3.5 2.4 7.5 1 1 31.1 446.5ZM23.9 472.2A4.1 1.4 48 1 1 18.5 466.2A4.1 1.4 48 1 1 23.9 472.2ZM78.6 450A4 2.3 79.4 1 1 77.1 442.1A4 2.3 79.4 1 1 78.6 450ZM72.2 482.7A3.4 1.8 11.3 1 1 65.4 481.3A3.4 1.8 11.3 1 1 72.2 482.7ZM49 472.5A5.4 1.8 -10.9 1 1 38.4 474.5A5.4 1.8 -10.9 1 1 49 472.5ZM45.4 439.7A3.2 1.8 104.2 1 1 46.9 433.6A3.2 1.8 104.2 1 1 45.4 439.7ZM80.4 478.5A3.6 2.2 42.3 1 1 75.1 473.7A3.6 2.2 42.3 1 1 80.4 478.5ZM51.2 446.4A3.4 1.9 95.9 1 1 51.9 439.6A3.4 1.9 95.9 1 1 51.2 446.4ZM54.2 445.3A3.6 2 95 1 1 54.9 438.1A3.6 2 95 1 1 54.2 445.3ZM78.6 439.3A3.2 1.9 0 1 1 72.3 439.3A3.2 1.9 0 1 1 78.6 439.3ZM38.2 451.1A5.1 1.8 -4.8 1 1 28 452A5.1 1.8 -4.8 1 1 38.2 451.1ZM27.1 437.8A4.5 1.6 -21 1 1 18.7 441A4.5 1.6 -21 1 1 27.1 437.8ZM49.7 463A5.4 2.2 83.8 1 1 48.5 452.2A5.4 2.2 83.8 1 1 49.7 463ZM65.3 455.8A3.6 2.4 101.4 1 1 66.7 448.7A3.6 2.4 101.4 1 1 65.3 455.8ZM68.3 435.8A3.6 1.8 49.2 1 1 63.6 430.3A3.6 1.8 49.2 1 1 68.3 435.8ZM35.9 471.3A3.4 1.6 67.2 1 1 33.3 465A3.4 1.6 67.2 1 1 35.9 471.3ZM25.3 448.6A4.4 2.4 -8.5 1 1 16.6 449.9A4.4 2.4 -8.5 1 1 25.3 448.6ZM72.2 466.4A4.6 2.1 111.7 1 1 75.6 457.9A4.6 2.1 111.7 1 1 72.2 466.4ZM54 467.2A4.3 2.2 38.6 1 1 47.3 461.8A4.3 2.2 38.6 1 1 54 467.2ZM24.4 434.3A4.7 2.3 84.9 1 1 23.5 424.9A4.7 2.3 84.9 1 1 24.4 434.3ZM78.9 475.2A3.8 1.8 -3.2 1 1 71.4 475.7A3.8 1.8 -3.2 1 1 78.9 475.2ZM56.7 475.8A4.2 1.3 28.1 1 1 49.3 471.8A4.2 1.3 28.1 1 1 56.7 475.8ZM26.8 474.4A4.4 1.6 35.2 1 1 19.7 469.4A4.4 1.6 35.2 1 1 26.8 474.4ZM52.3 445.5A4.3 1.8 4 1 1 43.7 444.9A4.3 1.8 4 1 1 52.3 445.5ZM31 462.7A4.9 2.1 -16 1 1 21.6 465.4A4.9 2.1 -16 1 1 31 462.7ZM41.7 466.7A3.4 2 40.7 1 1 36.5 462.2A3.4 2 40.7 1 1 41.7 466.7ZM32.8 464.3A3.7 1.6 9.7 1 1 25.4 463.1A3.7 1.6 9.7 1 1 32.8 464.3ZM40.2 429.2A4.1 1.3 -14.6 1 1 32.2 431.3A4.1 1.3 -14.6 1 1 40.2 429.2ZM37.6 437.1A4.3 2.3 85.7 1 1 37 428.5A4.3 2.3 85.7 1 1 37.6 437.1ZM64.5 485.5A4.5 2.2 79.6 1 1 62.9 476.6A4.5 2.2 79.6 1 1 64.5 485.5ZM43.8 480.8A4.9 2.2 109 1 1 47 471.6A4.9 2.2 109 1 1 43.8 480.8ZM67.8 435.1A3.4 1.5 51.1 1 1 63.6 429.9A3.4 1.5 51.1 1 1 67.8 435.1ZM59.5 464.8A3.3 1.7 28 1 1 53.7 461.7A3.3 1.7 28 1 1 59.5 464.8ZM53.3 450.5A5.3 1.5 17.5 1 1 43.3 447.3A5.3 1.5 17.5 1 1 53.3 450.5Z" fill="#a6a6a6" stroke="#8c8c8c" stroke-width="0.5"/><path d="M98.9 420.4A3 1 25.8 1 1 93.5 417.8A3 1 25.8 1 1 98.9 420.4ZM91.1 421.4A2.8 0.9 167.5 1 1 96.6 420.2A2.8 0.9 167.5 1 1 91.1 421.4ZM93.7 429.1A2.2 0.9 114.2 1 1 95.5 425.1A2.2 0.9 114.2 1 1 93.7 429.1ZM106.5 417.2A1.8 0.8 39.5 1 1 103.6 414.9A1.8 0.8 39.5 1 1 106.5 417.2ZM105 424.6A1.7 0.9 161.2 1 1 108.2 423.5A1.7 0.9 161.2 1 1 105 424.6ZM107.5 429A3.2 1.3 20.3 1 1 101.5 426.8A3.2 1.3 20.3 1 1 107.5 429ZM88.4 432.2A2.9 1 93.6 1 1 88.7 426.4A2.9 1 93.6 1 1 88.4 432.2ZM97.5 419.5A2.9 1.1 57.7 1 1 94.3 414.5A2.9 1.1 57.7 1 1 97.5 419.5ZM106.2 422.8A2.5 1.2 50.6 1 1 103 418.8A2.5 1.2 50.6 1 1 106.2 422.8ZM95.4 437.9A2.5 1.1 72.9 1 1 93.9 433.2A2.5 1.1 72.9 1 1 95.4 437.9ZM104 439.1A2 1.2 143.4 1 1 107.1 436.8A2 1.2 143.4 1 1 104 439.1ZM105 428.1A1.7 1.1 115.2 1 1 106.5 425A1.7 1.1 115.2 1 1 105 428.1ZM101 470.4A1.8 1.3 46.1 1 1 98.4 467.8A1.8 1.3 46.1 1 1 101 470.4ZM101.5 462.8A2.4 0.7 40.8 1 1 97.8 459.6A2.4 0.7 40.8 1 1 101.5 462.8ZM99 462.2A3.1 1.1 179.4 1 1 105.2 462.1A3.1 1.1 179.4 1 1 99 462.2ZM105.6 476A2.7 0.9 73.9 1 1 104.1 470.8A2.7 0.9 73.9 1 1 105.6 476ZM102.6 465.4A2.3 0.8 159.7 1 1 106.9 463.9A2.3 0.8 159.7 1 1 102.6 465.4ZM104.5 469.2A2.6 1.1 147.5 1 1 108.9 466.4A2.6 1.1 147.5 1 1 104.5 469.2ZM95.8 472.5A3.2 0.8 155.9 1 1 101.6 469.9A3.2 0.8 155.9 1 1 95.8 472.5ZM103.8 462.3A1.7 0.9 70.2 1 1 102.7 459.1A1.7 0.9 70.2 1 1 103.8 462.3ZM106.8 472.1A3.2 1.4 47.1 1 1 102.5 467.5A3.2 1.4 47.1 1 1 106.8 472.1ZM102 468.7A2.4 0.7 61.6 1 1 99.8 464.6A2.4 0.7 61.6 1 1 102 468.7ZM94.8 470.7A3.1 0.9 156.2 1 1 100.4 468.2A3.1 0.9 156.2 1 1 94.8 470.7ZM97.5 468.8A2.4 1.2 164.9 1 1 102.2 467.6A2.4 1.2 164.9 1 1 97.5 468.8ZM92.1 471.5A3 1.1 122 1 1 95.3 466.4A3 1.1 122 1 1 92.1 471.5ZM97.2 438.8A2.5 1.2 136.4 1 1 100.8 435.3A2.5 1.2 136.4 1 1 97.2 438.8ZM102.8 438A2.9 1.1 29.6 1 1 97.8 435.1A2.9 1.1 29.6 1 1 102.8 438ZM96.5 434.1A1.9 1.2 171.9 1 1 100.3 433.5A1.9 1.2 171.9 1 1 96.5 434.1ZM109.2 432.2A2 0.8 98 1 1 109.8 428.2A2 0.8 98 1 1 109.2 432.2ZM106.9 439.7A2.2 0.8 0.9 1 1 102.5 439.7A2.2 0.8 0.9 1 1 106.9 439.7ZM101.4 439.9A1.6 1.3 97.9 1 1 101.8 436.7A1.6 1.3 97.9 1 1 101.4 439.9ZM106.5 434.6A1.7 0.8 167.5 1 1 109.7 433.9A1.7 0.8 167.5 1 1 106.5 434.6ZM100.6 438.3A2.9 1 44.3 1 1 96.5 434.3A2.9 1 44.3 1 1 100.6 438.3ZM98.2 435.4A3 1.4 165.6 1 1 104.1 433.9A3 1.4 165.6 1 1 98.2 435.4ZM104.6 435.7A2.2 0.7 46.8 1 1 101.6 432.5A2.2 0.7 46.8 1 1 104.6 435.7ZM104.9 427.4A1.6 0.8 2.1 1 1 101.7 427.3A1.6 0.8 2.1 1 1 104.9 427.4ZM104.2 442.6A1.9 1 89.9 1 1 104.1 438.8A1.9 1 89.9 1 1 104.2 442.6ZM62.3 358.9A2.6 1.2 126.2 1 1 65.4 354.8A2.6 1.2 126.2 1 1 62.3 358.9ZM74.3 363.7A2.6 1.3 110.8 1 1 76.2 358.8A2.6 1.3 110.8 1 1 74.3 363.7ZM64.5 361.3A2.4 0.9 38.9 1 1 60.7 358.3A2.4 0.9 38.9 1 1 64.5 361.3ZM64 361.6A1.7 1.3 113 1 1 65.3 358.4A1.7 1.3 113 1 1 64 361.6ZM72.9 368.4A2.5 1.3 35 1 1 68.8 365.5A2.5 1.3 35 1 1 72.9 368.4ZM76.4 357.8A1.7 1.3 23.9 1 1 73.3 356.5A1.7 1.3 23.9 1 1 76.4 357.8ZM80.2 368.9A2.2 1.4 97.8 1 1 80.8 364.4A2.2 1.4 97.8 1 1 80.2 368.9ZM74.8 358A2.6 1.3 17.3 1 1 69.9 356.4A2.6 1.3 17.3 1 1 74.8 358ZM65.4 361.7A2.9 1 126.8 1 1 68.9 357.1A2.9 1 126.8 1 1 65.4 361.7ZM66.4 358.9A3.2 1.3 144.5 1 1 71.6 355.2A3.2 1.3 144.5 1 1 66.4 358.9ZM69.3 363.6A2.8 1.1 162.9 1 1 74.6 362A2.8 1.1 162.9 1 1 69.3 363.6ZM70 364A1.7 0.8 28.4 1 1 67 362.4A1.7 0.8 28.4 1 1 70 364ZM70.4 374.7A2.5 0.8 122.6 1 1 73.1 370.5A2.5 0.8 122.6 1 1 70.4 374.7ZM78.3 366.3A2.2 1 63.8 1 1 76.3 362.4A2.2 1 63.8 1 1 78.3 366.3ZM77.8 371.5A2.6 0.7 36 1 1 73.7 368.4A2.6 0.7 36 1 1 77.8 371.5ZM66.9 368.7A2.1 1.3 108.9 1 1 68.3 364.6A2.1 1.3 108.9 1 1 66.9 368.7ZM139.6 437.5A2.1 0.8 151.5 1 1 143.2 435.5A2.1 0.8 151.5 1 1 139.6 437.5ZM143.4 427.5A3.1 1.1 34.4 1 1 138.3 424A3.1 1.1 34.4 1 1 143.4 427.5ZM132.6 430.2A2.8 0.9 20.9 1 1 127.4 428.2A2.8 0.9 20.9 1 1 132.6 430.2ZM136 430.9A3.1 0.8 59.4 1 1 132.9 425.6A3.1 0.8 59.4 1 1 136 430.9ZM131 431.9A2.2 0.8 37.2 1 1 127.4 429.2A2.2 0.8 37.2 1 1 131 431.9ZM136 440.1A2 0.8 159.8 1 1 139.8 438.7A2 0.8 159.8 1 1 136 440.1ZM141.7 431.6A1.6 0.9 173.1 1 1 144.9 431.2A1.6 0.9 173.1 1 1 141.7 431.6ZM135.5 436.5A2.2 0.8 13.8 1 1 131.2 435.5A2.2 0.8 13.8 1 1 135.5 436.5ZM128.8 433.1A1.9 0.8 71.2 1 1 127.6 429.6A1.9 0.8 71.2 1 1 128.8 433.1ZM132.2 432.2A1.7 0.9 79.9 1 1 131.6 428.8A1.7 0.9 79.9 1 1 132.2 432.2ZM128.4 433.6A2.6 0.7 46.5 1 1 124.8 429.8A2.6 0.7 46.5 1 1 128.4 433.6ZM133.6 439.6A2.4 1 93.7 1 1 133.9 434.8A2.4 1 93.7 1 1 133.6 439.6ZM139.2 435A2.3 1.2 98.9 1 1 139.8 430.6A2.3 1.2 98.9 1 1 139.2 435ZM135.5 430.5A2.2 1.4 69.5 1 1 134 426.5A2.2 1.4 69.5 1 1 135.5 430.5ZM145.3 435.8A2.4 1.1 77.3 1 1 144.3 431.1A2.4 1.1 77.3 1 1 145.3 435.8ZM134.1 437A2.2 0.9 95.5 1 1 134.5 432.6A2.2 0.9 95.5 1 1 134.1 437ZM132.3 437.3A3.1 1.2 134.6 1 1 136.6 432.9A3.1 1.2 134.6 1 1 132.3 437.3ZM177 362.1A2.5 1.1 73.6 1 1 175.6 357.3A2.5 1.1 73.6 1 1 177 362.1ZM169.7 359.4A2 1 104.7 1 1 170.8 355.5A2 1 104.7 1 1 169.7 359.4ZM168.4 357.5A2.9 0.9 129.4 1 1 172 353.1A2.9 0.9 129.4 1 1 168.4 357.5ZM169.5 365.1A1.6 0.8 145.8 1 1 172.1 363.4A1.6 0.8 145.8 1 1 169.5 365.1ZM170.9 360A3.1 0.9 127.2 1 1 174.7 355A3.1 0.9 127.2 1 1 170.9 360ZM175.4 361.6A1.7 1.3 64.2 1 1 173.9 358.5A1.7 1.3 64.2 1 1 175.4 361.6ZM172.4 363.6A1.7 1 108.2 1 1 173.5 360.3A1.7 1 108.2 1 1 172.4 363.6ZM165.7 356A2.1 1.2 146.7 1 1 169.3 353.6A2.1 1.2 146.7 1 1 165.7 356ZM131.2 462.2A1.7 1 90.5 1 1 131.3 458.8A1.7 1 90.5 1 1 131.2 462.2ZM125 465.5A2.9 0.9 109.8 1 1 127 460A2.9 0.9 109.8 1 1 125 465.5ZM128.4 451.1A1.8 0.9 43.1 1 1 125.8 448.7A1.8 0.9 43.1 1 1 128.4 451.1ZM132.6 457.4A2.6 0.8 123 1 1 135.5 453A2.6 0.8 123 1 1 132.6 457.4ZM129.6 456.6A1.9 0.7 6.8 1 1 125.7 456.2A1.9 0.7 6.8 1 1 129.6 456.6ZM131.4 462.8A2.8 1.3 29 1 1 126.6 460.1A2.8 1.3 29 1 1 131.4 462.8ZM130.2 467.5A2.3 0.9 60.9 1 1 127.9 463.5A2.3 0.9 60.9 1 1 130.2 467.5ZM125.6 460.1A3 1.3 80.5 1 1 124.6 454.2A3 1.3 80.5 1 1 125.6 460.1ZM129.7 451.9A2.8 1 134.5 1 1 133.6 447.9A2.8 1 134.5 1 1 129.7 451.9ZM125.1 460.8A1.8 1.3 107.4 1 1 126.2 457.5A1.8 1.3 107.4 1 1 125.1 460.8ZM125 466.8A2.9 0.8 117.7 1 1 127.7 461.7A2.9 0.8 117.7 1 1 125 466.8ZM123.5 456.2A2.1 1.1 77.8 1 1 122.7 452.2A2.1 1.1 77.8 1 1 123.5 456.2ZM123.4 453.9A2.3 1.3 1.7 1 1 118.9 453.7A2.3 1.3 1.7 1 1 123.4 453.9ZM125.2 467.2A2.5 1.2 89.1 1 1 125.2 462.1A2.5 1.2 89.1 1 1 125.2 467.2ZM171.9 417.7A3 0.9 118.3 1 1 174.8 412.4A3 0.9 118.3 1 1 171.9 417.7ZM167.3 432.8A2 1 107.1 1 1 168.5 428.8A2 1 107.1 1 1 167.3 432.8ZM178.4 416.2A2 1.1 178.6 1 1 182.3 416.1A2 1.1 178.6 1 1 178.4 416.2ZM167.6 425.9A3.1 1.2 92.9 1 1 167.9 419.6A3.1 1.2 92.9 1 1 167.6 425.9ZM181.1 428A1.5 1.2 105.3 1 1 181.9 425.1A1.5 1.2 105.3 1 1 181.1 428ZM177.4 413.3A2.1 1 27.9 1 1 173.6 411.3A2.1 1 27.9 1 1 177.4 413.3ZM167.4 419.6A1.7 1 153.8 1 1 170.3 418.2A1.7 1 153.8 1 1 167.4 419.6ZM175.7 417.9A1.6 0.8 53.3 1 1 173.8 415.3A1.6 0.8 53.3 1 1 175.7 417.9ZM184.2 424.7A2.2 1.1 55 1 1 181.6 421A2.2 1.1 55 1 1 184.2 424.7ZM167.7 421.3A2 0.8 56.5 1 1 165.5 418A2 0.8 56.5 1 1 167.7 421.3ZM182.1 424.5A1.7 1.3 76 1 1 181.3 421.3A1.7 1.3 76 1 1 182.1 424.5ZM171.3 416.9A3 0.9 82.6 1 1 170.6 410.9A3 0.9 82.6 1 1 171.3 416.9ZM13.2 372A2.1 0.8 87.8 1 1 13 367.9A2.1 0.8 87.8 1 1 13.2 372ZM18.2 360.7A2.6 0.7 136.3 1 1 21.9 357.2A2.6 0.7 136.3 1 1 18.2 360.7ZM27.1 361.6A1.5 1 16.1 1 1 24.2 360.8A1.5 1 16.1 1 1 27.1 361.6ZM12.5 363.6A1.5 1 1.8 1 1 9.4 363.5A1.5 1 1.8 1 1 12.5 363.6ZM30 370.1A3.1 0.9 29.2 1 1 24.7 367.2A3.1 0.9 29.2 1 1 30 370.1ZM12.7 356.8A2 1 95.2 1 1 13.1 352.8A2 1 95.2 1 1 12.7 356.8ZM18.8 374.1A2.3 1.2 54.6 1 1 16.1 370.4A2.3 1.2 54.6 1 1 18.8 374.1ZM28.1 370.9A3.1 1.2 3.1 1 1 22 370.5A3.1 1.2 3.1 1 1 28.1 370.9ZM9.9 364.8A2 0.8 64.7 1 1 8.2 361.1A2 0.8 64.7 1 1 9.9 364.8ZM12.1 359.5A2.3 1.1 79.6 1 1 11.2 354.9A2.3 1.1 79.6 1 1 12.1 359.5ZM23.5 360.2A3 1.4 112.8 1 1 25.8 354.6A3 1.4 112.8 1 1 23.5 360.2ZM211 486.4A3 1 72.5 1 1 209.2 480.7A3 1 72.5 1 1 211 486.4ZM208.7 485.2A2.8 0.8 155.3 1 1 213.8 482.9A2.8 0.8 155.3 1 1 208.7 485.2ZM194.8 490.5A1.7 1.3 175.7 1 1 198.2 490.3A1.7 1.3 175.7 1 1 194.8 490.5ZM201.6 476.8A2.8 0.7 166.4 1 1 207.1 475.5A2.8 0.7 166.4 1 1 201.6 476.8ZM212.7 481.6A3 1 44.4 1 1 208.4 477.3A3 1 44.4 1 1 212.7 481.6ZM192.8 493.5A2.2 1.2 26.1 1 1 188.8 491.6A2.2 1.2 26.1 1 1 192.8 493.5ZM210.2 482.3A1.7 1.2 111.5 1 1 211.5 479.1A1.7 1.2 111.5 1 1 210.2 482.3ZM200.3 488.1A2.5 0.8 36.8 1 1 196.4 485.1A2.5 0.8 36.8 1 1 200.3 488.1ZM204.9 486A1.7 0.9 110.7 1 1 206.1 482.8A1.7 0.9 110.7 1 1 204.9 486ZM187.6 486.7A2.7 0.8 134.7 1 1 191.3 482.9A2.7 0.8 134.7 1 1 187.6 486.7ZM193.8 485.3A1.5 0.8 34.8 1 1 191.3 483.6A1.5 0.8 34.8 1 1 193.8 485.3ZM197.2 478.8A2.2 0.7 74.4 1 1 196 474.5A2.2 0.7 74.4 1 1 197.2 478.8ZM189.8 490.4A3.1 0.9 73 1 1 188 484.4A3.1 0.9 73 1 1 189.8 490.4ZM191.9 483.1A2.6 0.7 13.4 1 1 186.8 481.9A2.6 0.7 13.4 1 1 191.9 483.1ZM205.8 496.6A2.6 1.2 141.2 1 1 209.9 493.3A2.6 1.2 141.2 1 1 205.8 496.6ZM207.6 495.8A3 1.2 85.5 1 1 207.2 489.8A3 1.2 85.5 1 1 207.6 495.8ZM108.9 358.9A2.8 1.3 152 1 1 113.8 356.3A2.8 1.3 152 1 1 108.9 358.9ZM108.7 344.7A1.8 1.1 168.7 1 1 112.1 344.1A1.8 1.1 168.7 1 1 108.7 344.7ZM115 344.7A2.8 1.1 15.6 1 1 109.6 343.2A2.8 1.1 15.6 1 1 115 344.7ZM115.8 361.4A1.7 0.9 49.3 1 1 113.6 358.9A1.7 0.9 49.3 1 1 115.8 361.4ZM106.2 356.5A2.3 1 18.3 1 1 101.9 355.1A2.3 1 18.3 1 1 106.2 356.5ZM111.7 353A2.6 0.8 34.8 1 1 107.5 350.1A2.6 0.8 34.8 1 1 111.7 353ZM100.4 468.1A2.7 0.8 5.8 1 1 95 467.6A2.7 0.8 5.8 1 1 100.4 468.1ZM95.3 467.4A2.8 0.9 148.2 1 1 100 464.5A2.8 0.9 148.2 1 1 95.3 467.4ZM93.7 466.4A1.8 0.8 124.4 1 1 95.8 463.4A1.8 0.8 124.4 1 1 93.7 466.4ZM82.1 469.8A2.6 1.2 110.4 1 1 83.9 465A2.6 1.2 110.4 1 1 82.1 469.8ZM88.2 475.7A1.9 1.4 95.4 1 1 88.5 471.9A1.9 1.4 95.4 1 1 88.2 475.7ZM173.1 355.5A2 1 100.3 1 1 173.8 351.5A2 1 100.3 1 1 173.1 355.5ZM173.7 356A2 0.8 128.4 1 1 176.2 352.9A2 0.8 128.4 1 1 173.7 356ZM172.9 357.7A2 0.9 110.2 1 1 174.2 353.9A2 0.9 110.2 1 1 172.9 357.7ZM166 349.7A1.8 1.4 179.7 1 1 169.7 349.7A1.8 1.4 179.7 1 1 166 349.7ZM170.5 345.2A2.5 0.7 118.7 1 1 172.9 340.9A2.5 0.7 118.7 1 1 170.5 345.2ZM106.2 483.5A2.3 1 60 1 1 103.9 479.5A2.3 1 60 1 1 106.2 483.5ZM111.9 491.4A2 1.3 81.4 1 1 111.3 487.5A2 1.3 81.4 1 1 111.9 491.4ZM106.3 480.8A2.5 1.1 11.4 1 1 101.5 479.9A2.5 1.1 11.4 1 1 106.3 480.8ZM109.1 485.3A2.8 1.3 60.2 1 1 106.3 480.5A2.8 1.3 60.2 1 1 109.1 485.3ZM110.5 493.2A1.5 1.2 65.5 1 1 109.2 490.5A1.5 1.2 65.5 1 1 110.5 493.2ZM103.3 480.3A1.8 1.1 146 1 1 106.2 478.3A1.8 1.1 146 1 1 103.3 480.3ZM112.3 379.4A2.8 1.4 179.8 1 1 118 379.4A2.8 1.4 179.8 1 1 112.3 379.4ZM127.5 387.7A2.9 1.3 110.7 1 1 129.5 382.2A2.9 1.3 110.7 1 1 127.5 387.7ZM117.5 369.9A1.8 1 6 1 1 114 369.5A1.8 1 6 1 1 117.5 369.9ZM120.3 377.6A2.2 0.9 23.7 1 1 116.2 375.8A2.2 0.9 23.7 1 1 120.3 377.6ZM121.5 389.6A1.6 1.2 129.9 1 1 123.5 387.1A1.6 1.2 129.9 1 1 121.5 389.6ZM124.9 372.4A2.3 0.8 62.2 1 1 122.7 368.3A2.3 0.8 62.2 1 1 124.9 372.4ZM132.3 372.7A2.5 1 50.7 1 1 129.2 368.9A2.5 1 50.7 1 1 132.3 372.7ZM125.5 374A3 1.2 148.5 1 1 130.7 370.8A3 1.2 148.5 1 1 125.5 374ZM124.8 383.1A3.1 0.9 93.7 1 1 125.2 376.9A3.1 0.9 93.7 1 1 124.8 383.1ZM119.5 381.1A3 0.9 110.9 1 1 121.6 375.4A3 0.9 110.9 1 1 119.5 381.1ZM24.6 400A2 1.3 158.9 1 1 28.4 398.5A2 1.3 158.9 1 1 24.6 400ZM36.3 392.2A2.9 0.9 157.1 1 1 41.8 389.9A2.9 0.9 157.1 1 1 36.3 392.2ZM43.3 395.8A1.7 1.3 98.1 1 1 43.7 392.5A1.7 1.3 98.1 1 1 43.3 395.8ZM24.9 387A3 1.4 131.5 1 1 28.8 382.5A3 1.4 131.5 1 1 24.9 387ZM42.1 391A2.4 1.1 29.5 1 1 37.8 388.6A2.4 1.1 29.5 1 1 42.1 391ZM28.8 390.3A1.7 0.8 93.5 1 1 29 386.9A1.7 0.8 93.5 1 1 28.8 390.3ZM28.1 422.7A2.5 1 53.3 1 1 25.1 418.8A2.5 1 53.3 1 1 28.1 422.7ZM20.3 414.2A1.8 1 81 1 1 19.7 410.7A1.8 1 81 1 1 20.3 414.2ZM18.1 415.5A2.7 0.9 55.1 1 1 15 411.1A2.7 0.9 55.1 1 1 18.1 415.5ZM13.3 416.9A2.1 0.8 139.8 1 1 16.5 414.2A2.1 0.8 139.8 1 1 13.3 416.9ZM20.7 406.4A1.8 1.3 124.7 1 1 22.8 403.3A1.8 1.3 124.7 1 1 20.7 406.4ZM28.4 416.1A3 1.3 2.9 1 1 22.4 415.8A3 1.3 2.9 1 1 28.4 416.1ZM16.6 409.4A2.5 1.1 42.5 1 1 13 406.1A2.5 1.1 42.5 1 1 16.6 409.4ZM27.3 412.3A2.6 0.9 147.2 1 1 31.7 409.5A2.6 0.9 147.2 1 1 27.3 412.3ZM26.3 414.7A2.2 1.3 60.3 1 1 24.1 410.8A2.2 1.3 60.3 1 1 26.3 414.7ZM26.6 412.6A2.2 0.8 155.1 1 1 30.6 410.7A2.2 0.8 155.1 1 1 26.6 412.6ZM26.2 421.6A2 1.2 90.3 1 1 26.2 417.7A2 1.2 90.3 1 1 26.2 421.6ZM21.4 420A2.9 1.1 20.8 1 1 16.1 417.9A2.9 1.1 20.8 1 1 21.4 420ZM12.8 415A3 0.8 40.7 1 1 8.2 411A3 0.8 40.7 1 1 12.8 415ZM23.4 420.6A2.3 0.8 165.1 1 1 27.9 419.4A2.3 0.8 165.1 1 1 23.4 420.6ZM28.5 419.7A1.5 1.1 96.7 1 1 28.8 416.7A1.5 1.1 96.7 1 1 28.5 419.7ZM117.3 415.2A1.8 1.4 34.1 1 1 114.3 413.2A1.8 1.4 34.1 1 1 117.3 415.2ZM125 418.1A1.5 1.3 27.1 1 1 122.2 416.7A1.5 1.3 27.1 1 1 125 418.1ZM128.6 408.1A3.1 1.1 0.5 1 1 122.5 408A3.1 1.1 0.5 1 1 128.6 408.1ZM120.7 410.9A1.6 1.2 163.7 1 1 123.8 410A1.6 1.2 163.7 1 1 120.7 410.9ZM117.2 417.1A1.6 0.9 148.9 1 1 119.9 415.5A1.6 0.9 148.9 1 1 117.2 417.1ZM115.1 408.6A2.8 1.1 106.9 1 1 116.7 403.3A2.8 1.1 106.9 1 1 115.1 408.6ZM120.8 411.3A2.2 1.2 98.6 1 1 121.5 406.9A2.2 1.2 98.6 1 1 120.8 411.3ZM120.2 420.6A2.7 0.9 97.9 1 1 121 415.2A2.7 0.9 97.9 1 1 120.2 420.6ZM122.4 407.1A1.9 0.8 174.7 1 1 126.3 406.7A1.9 0.8 174.7 1 1 122.4 407.1ZM124.6 416A3 0.9 109.5 1 1 126.6 410.4A3 0.9 109.5 1 1 124.6 416ZM113.5 408.3A2.4 1.2 154.2 1 1 117.7 406.3A2.4 1.2 154.2 1 1 113.5 408.3ZM122.9 413.8A1.8 1.1 104.3 1 1 123.8 410.3A1.8 1.1 104.3 1 1 122.9 413.8ZM118.9 407A1.6 1 125.2 1 1 120.7 404.4A1.6 1 125.2 1 1 118.9 407ZM123.6 408.5A2.8 1.2 89.7 1 1 123.6 402.9A2.8 1.2 89.7 1 1 123.6 408.5ZM117.7 409.4A2.1 0.9 89.4 1 1 117.7 405.1A2.1 0.9 89.4 1 1 117.7 409.4ZM117.9 409A2.3 0.9 84 1 1 117.5 404.4A2.3 0.9 84 1 1 117.9 409ZM154.7 402.7A3.1 0.8 136 1 1 159.2 398.3A3.1 0.8 136 1 1 154.7 402.7ZM154 405.9A2.8 1.1 177.4 1 1 159.5 405.6A2.8 1.1 177.4 1 1 154 405.9ZM164.8 410.2A2.4 0.8 100.1 1 1 165.6 405.5A2.4 0.8 100.1 1 1 164.8 410.2ZM148.8 411.7A3.2 1.2 129.1 1 1 152.8 406.8A3.2 1.2 129.1 1 1 148.8 411.7ZM164.6 407.5A2 0.8 154 1 1 168.2 405.8A2 0.8 154 1 1 164.6 407.5ZM155.2 409.3A1.9 0.9 170.4 1 1 158.9 408.7A1.9 0.9 170.4 1 1 155.2 409.3ZM161.4 405.8A1.8 1.1 179.1 1 1 164.9 405.7A1.8 1.1 179.1 1 1 161.4 405.8ZM155.9 401.6A3.1 1.3 166.3 1 1 161.8 400.2A3.1 1.3 166.3 1 1 155.9 401.6ZM164.3 418.1A3.1 0.8 68.2 1 1 162 412.4A3.1 0.8 68.2 1 1 164.3 418.1ZM163.4 410.6A1.9 1.3 144.7 1 1 166.6 408.4A1.9 1.3 144.7 1 1 163.4 410.6ZM153.9 410.9A2.5 1.2 85.1 1 1 153.5 405.9A2.5 1.2 85.1 1 1 153.9 410.9ZM88.7 381.5A1.8 1 97.3 1 1 89.2 378A1.8 1 97.3 1 1 88.7 381.5ZM93.1 382A2 1.4 111.8 1 1 94.6 378.4A2 1.4 111.8 1 1 93.1 382ZM87.4 380.6A2.4 1.1 116.9 1 1 89.5 376.4A2.4 1.1 116.9 1 1 87.4 380.6ZM94.7 382.9A1.6 1.2 139.8 1 1 97.2 380.9A1.6 1.2 139.8 1 1 94.7 382.9ZM95.1 382.4A2.9 0.8 179.6 1 1 100.9 382.4A2.9 0.8 179.6 1 1 95.1 382.4ZM100.4 376.8A3 1 46.1 1 1 96.3 372.6A3 1 46.1 1 1 100.4 376.8ZM100.3 376.8A2 1.1 87.9 1 1 100.2 372.7A2 1.1 87.9 1 1 100.3 376.8ZM98.1 386.4A1.7 0.8 73.9 1 1 97.2 383.1A1.7 0.8 73.9 1 1 98.1 386.4ZM90 382.2A2.4 1.1 56.5 1 1 87.4 378.3A2.4 1.1 56.5 1 1 90 382.2ZM90.3 383.8A3 1.3 96.3 1 1 91 377.9A3 1.3 96.3 1 1 90.3 383.8ZM94.8 381A2.4 0.9 18.5 1 1 90.3 379.5A2.4 0.9 18.5 1 1 94.8 381ZM89.8 385.2A1.7 1.3 134.5 1 1 92.2 382.7A1.7 1.3 134.5 1 1 89.8 385.2ZM93.2 381.9A2.8 1.2 118.9 1 1 95.9 377A2.8 1.2 118.9 1 1 93.2 381.9ZM104.6 383.3A2.4 0.9 22 1 1 100 381.5A2.4 0.9 22 1 1 104.6 383.3ZM55.8 398.2A2.8 0.9 143.9 1 1 60.4 394.8A2.8 0.9 143.9 1 1 55.8 398.2ZM64.9 412.3A2.3 1.4 51.2 1 1 62 408.6A2.3 1.4 51.2 1 1 64.9 412.3ZM52.8 400.5A3.1 0.8 138.3 1 1 57.4 396.4A3.1 0.8 138.3 1 1 52.8 400.5ZM48.2 413.7A2.4 1.2 163.4 1 1 52.7 412.3A2.4 1.2 163.4 1 1 48.2 413.7ZM60.9 397.5A1.9 1.3 55.5 1 1 58.7 394.3A1.9 1.3 55.5 1 1 60.9 397.5ZM65.7 398.5A1.7 1.3 164.2 1 1 69 397.6A1.7 1.3 164.2 1 1 65.7 398.5ZM53.9 414.4A2.9 0.9 129.5 1 1 57.6 409.8A2.9 0.9 129.5 1 1 53.9 414.4ZM60.1 403.4A1.6 0.9 67.2 1 1 58.9 400.6A1.6 0.9 67.2 1 1 60.1 403.4ZM54.5 418.2A3 1.1 69.2 1 1 52.4 412.5A3 1.1 69.2 1 1 54.5 418.2ZM51.5 415.5A1.6 1.2 39 1 1 49 413.5A1.6 1.2 39 1 1 51.5 415.5ZM61.7 406A2.4 1.1 11.5 1 1 57 405.1A2.4 1.1 11.5 1 1 61.7 406ZM65.6 410A2.3 1.4 69.3 1 1 64 405.8A2.3 1.4 69.3 1 1 65.6 410ZM60.6 396.2A2 1 85.1 1 1 60.2 392.3A2 1 85.1 1 1 60.6 396.2ZM68.3 406.8A2 0.9 39.6 1 1 65.3 404.3A2 0.9 39.6 1 1 68.3 406.8ZM44.1 405.8A3.2 0.7 98.5 1 1 45.1 399.5A3.2 0.7 98.5 1 1 44.1 405.8ZM126.2 351.4A1.6 1.3 159.1 1 1 129.3 350.2A1.6 1.3 159.1 1 1 126.2 351.4ZM123.7 350A1.9 0.8 3.5 1 1 119.8 349.8A1.9 0.8 3.5 1 1 123.7 350ZM127 354A2.2 0.8 34.6 1 1 123.4 351.6A2.2 0.8 34.6 1 1 127 354ZM127.9 361.5A2.7 1.3 52.9 1 1 124.7 357.3A2.7 1.3 52.9 1 1 127.9 361.5ZM119.2 360.5A2.6 1 116.3 1 1 121.5 355.7A2.6 1 116.3 1 1 119.2 360.5ZM117.3 361.6A3.1 1.2 157.9 1 1 123 359.3A3.1 1.2 157.9 1 1 117.3 361.6ZM127.9 356.8A3 0.9 152.8 1 1 133.2 354.1A3 0.9 152.8 1 1 127.9 356.8ZM118.6 356.9A1.6 1.1 74.3 1 1 117.8 353.9A1.6 1.1 74.3 1 1 118.6 356.9ZM118.6 358.1A2.2 1.2 124.9 1 1 121.1 354.6A2.2 1.2 124.9 1 1 118.6 358.1ZM125.7 362.8A2.1 1.2 33 1 1 122.2 360.4A2.1 1.2 33 1 1 125.7 362.8ZM123.6 353.5A2.5 0.8 177 1 1 128.5 353.2A2.5 0.8 177 1 1 123.6 353.5ZM124.9 355.3A2.8 0.9 28.9 1 1 120.1 352.6A2.8 0.9 28.9 1 1 124.9 355.3ZM78.2 395.9A2 1.2 175.3 1 1 82.1 395.6A2 1.2 175.3 1 1 78.2 395.9ZM75.1 393.9A2.8 1.3 48.2 1 1 71.3 389.7A2.8 1.3 48.2 1 1 75.1 393.9ZM76.7 396.3A2.6 1 122.3 1 1 79.5 391.9A2.6 1 122.3 1 1 76.7 396.3ZM82.9 394.6A3.2 1.3 34.9 1 1 77.6 391A3.2 1.3 34.9 1 1 82.9 394.6ZM72.8 395.5A2.9 1 162.9 1 1 78.3 393.8A2.9 1 162.9 1 1 72.8 395.5ZM81.9 387.3A1.8 0.7 79 1 1 81.2 383.8A1.8 0.7 79 1 1 81.9 387.3ZM27.6 396.1A1.9 1.2 73.5 1 1 26.6 392.5A1.9 1.2 73.5 1 1 27.6 396.1ZM27.9 409.3A2.6 0.9 50.9 1 1 24.6 405.2A2.6 0.9 50.9 1 1 27.9 409.3ZM23.2 396.3A2.9 1.1 161.4 1 1 28.7 394.4A2.9 1.1 161.4 1 1 23.2 396.3ZM27.5 397.2A1.8 1.3 48.6 1 1 25.2 394.5A1.8 1.3 48.6 1 1 27.5 397.2ZM17.9 398.9A2.2 0.9 14.6 1 1 13.7 397.8A2.2 0.9 14.6 1 1 17.9 398.9ZM26 408.6A2.5 0.8 1.3 1 1 21.1 408.5A2.5 0.8 1.3 1 1 26 408.6ZM23 392.4A1.5 0.9 25.2 1 1 20.3 391.1A1.5 0.9 25.2 1 1 23 392.4ZM197.8 408.3A2.2 0.7 63.3 1 1 195.8 404.4A2.2 0.7 63.3 1 1 197.8 408.3ZM185.2 414.6A1.9 1.1 148.9 1 1 188.4 412.7A1.9 1.1 148.9 1 1 185.2 414.6ZM192.5 422.3A2 0.9 144.9 1 1 195.8 420A2 0.9 144.9 1 1 192.5 422.3ZM183.4 412.4A1.6 1.3 170 1 1 186.5 411.8A1.6 1.3 170 1 1 183.4 412.4ZM185.4 416.4A2 0.7 100 1 1 186.1 412.5A2 0.7 100 1 1 185.4 416.4ZM202.1 422.1A3 0.7 65.6 1 1 199.6 416.6A3 0.7 65.6 1 1 202.1 422.1ZM194.8 413.1A1.9 1.3 89.1 1 1 194.7 409.2A1.9 1.3 89.1 1 1 194.8 413.1ZM189.5 425.5A2.6 1.3 138.2 1 1 193.4 422A2.6 1.3 138.2 1 1 189.5 425.5ZM198.2 414.6A2.9 1 161.8 1 1 203.8 412.8A2.9 1 161.8 1 1 198.2 414.6ZM192.3 417.2A1.7 0.9 130.4 1 1 194.6 414.5A1.7 0.9 130.4 1 1 192.3 417.2ZM189.1 419.5A3.2 1.1 81 1 1 188.1 413.2A3.2 1.1 81 1 1 189.1 419.5ZM52.2 376.4A2.6 1.1 47.6 1 1 48.7 372.5A2.6 1.1 47.6 1 1 52.2 376.4ZM53.9 378.1A1.6 0.8 54.8 1 1 52.1 375.5A1.6 0.8 54.8 1 1 53.9 378.1ZM55.4 379.8A1.8 1 32.8 1 1 52.4 377.8A1.8 1 32.8 1 1 55.4 379.8ZM58.5 372.7A1.6 0.8 171.1 1 1 61.6 372.2A1.6 0.8 171.1 1 1 58.5 372.7ZM59.4 361.8A1.5 0.8 12 1 1 56.4 361.2A1.5 0.8 12 1 1 59.4 361.8ZM41.2 366.3A2 1 169 1 1 45.2 365.5A2 1 169 1 1 41.2 366.3ZM43 372A3 1.3 12.6 1 1 37.1 370.7A3 1.3 12.6 1 1 43 372ZM41.7 382.4A3 1.2 94.5 1 1 42.2 376.4A3 1.2 94.5 1 1 41.7 382.4ZM65.7 372.4A2.6 1.3 10 1 1 60.5 371.5A2.6 1.3 10 1 1 65.7 372.4ZM46.5 368.3A2.2 1.2 76.3 1 1 45.4 363.9A2.2 1.2 76.3 1 1 46.5 368.3ZM63.1 370.1A1.7 1.2 133.9 1 1 65.5 367.6A1.7 1.2 133.9 1 1 63.1 370.1ZM44.5 377.5A2.9 1.1 67.6 1 1 42.3 372.1A2.9 1.1 67.6 1 1 44.5 377.5ZM49.6 373.6A3.1 1.1 81.3 1 1 48.6 367.5A3.1 1.1 81.3 1 1 49.6 373.6ZM51 375.6A1.6 0.9 96.7 1 1 51.3 372.5A1.6 0.9 96.7 1 1 51 375.6ZM61.4 384A2.6 0.8 84.4 1 1 60.9 378.9A2.6 0.8 84.4 1 1 61.4 384ZM58.4 376.3A3.1 1.2 161.5 1 1 64.4 374.3A3.1 1.2 161.5 1 1 58.4 376.3ZM70.7 380.8A3.1 1.3 25.6 1 1 65.2 378.2A3.1 1.3 25.6 1 1 70.7 380.8ZM68.5 379.8A1.9 0.9 33.3 1 1 65.3 377.7A1.9 0.9 33.3 1 1 68.5 379.8ZM72.6 379.3A2.4 0.9 37.3 1 1 68.9 376.4A2.4 0.9 37.3 1 1 72.6 379.3ZM73.4 378.5A2.3 1.4 42.9 1 1 70 375.3A2.3 1.4 42.9 1 1 73.4 378.5ZM72.9 381.7A2.8 1.3 13 1 1 67.4 380.5A2.8 1.3 13 1 1 72.9 381.7ZM64.1 376.8A3 1.4 11.8 1 1 58.2 375.6A3 1.4 11.8 1 1 64.1 376.8ZM72.2 372.7A1.8 0.9 167.2 1 1 75.8 371.9A1.8 0.9 167.2 1 1 72.2 372.7ZM68.6 376.5A2 1 110.6 1 1 70 372.8A2 1 110.6 1 1 68.6 376.5ZM75.8 378.7A2.3 1 15.9 1 1 71.4 377.5A2.3 1 15.9 1 1 75.8 378.7ZM56.8 369.4A2 1.4 174.6 1 1 60.9 369A2 1.4 174.6 1 1 56.8 369.4ZM51.7 373.5A2.1 1.3 126 1 1 54.2 370.1A2.1 1.3 126 1 1 51.7 373.5ZM187.3 427.1A2.6 0.8 37.7 1 1 183.1 423.9A2.6 0.8 37.7 1 1 187.3 427.1ZM182.1 431.1A2.5 0.7 50.1 1 1 178.9 427.3A2.5 0.7 50.1 1 1 182.1 431.1ZM182.3 438.6A2.6 0.9 1.4 1 1 177.2 438.4A2.6 0.9 1.4 1 1 182.3 438.6ZM181.9 436.6A2.7 1.3 138.6 1 1 186 433A2.7 1.3 138.6 1 1 181.9 436.6ZM180.2 437.2A2 1 110.3 1 1 181.5 433.6A2 1 110.3 1 1 180.2 437.2ZM179.4 438.1A1.7 0.8 92.5 1 1 179.5 434.7A1.7 0.8 92.5 1 1 179.4 438.1ZM31.7 423.9A1.7 0.8 157.8 1 1 34.9 422.6A1.7 0.8 157.8 1 1 31.7 423.9ZM40.5 422.4A2.6 0.9 85.9 1 1 40.2 417.2A2.6 0.9 85.9 1 1 40.5 422.4ZM34.5 417.3A2 1.2 2.3 1 1 30.6 417.1A2 1.2 2.3 1 1 34.5 417.3ZM35.5 420.7A2.1 1.1 155.9 1 1 39.4 419A2.1 1.1 155.9 1 1 35.5 420.7ZM33.7 424.4A1.7 1.3 138.4 1 1 36.2 422.1A1.7 1.3 138.4 1 1 33.7 424.4ZM37.5 421.8A2.8 0.7 5.4 1 1 31.9 421.3A2.8 0.7 5.4 1 1 37.5 421.8ZM29.6 418.1A3.2 1.3 157.2 1 1 35.5 415.7A3.2 1.3 157.2 1 1 29.6 418.1ZM36.6 419.4A1.6 0.8 91 1 1 36.7 416.1A1.6 0.8 91 1 1 36.6 419.4ZM33.4 421.4A1.6 0.9 3.8 1 1 30.2 421.2A1.6 0.9 3.8 1 1 33.4 421.4ZM41.3 416A1.9 1.1 19.8 1 1 37.7 414.7A1.9 1.1 19.8 1 1 41.3 416ZM43.2 423.9A2.6 1.3 167.8 1 1 48.3 422.8A2.6 1.3 167.8 1 1 43.2 423.9ZM32 422.2A2.3 1.3 92.8 1 1 32.2 417.5A2.3 1.3 92.8 1 1 32 422.2ZM155.9 393A1.5 1.4 125.3 1 1 157.6 390.5A1.5 1.4 125.3 1 1 155.9 393ZM150.4 376.4A2.6 1.4 85.3 1 1 150 371.1A2.6 1.4 85.3 1 1 150.4 376.4ZM154.4 381.5A1.8 1 65.9 1 1 153 378.3A1.8 1 65.9 1 1 154.4 381.5ZM153 376.8A1.7 1 101 1 1 153.7 373.5A1.7 1 101 1 1 153 376.8ZM158.1 385.3A1.7 1.4 101.5 1 1 158.8 382A1.7 1.4 101.5 1 1 158.1 385.3ZM154.6 390.1A2.6 1.1 55.5 1 1 151.6 385.8A2.6 1.1 55.5 1 1 154.6 390.1ZM141.2 390.5A2.5 1 178.2 1 1 146.2 390.3A2.5 1 178.2 1 1 141.2 390.5ZM141.5 383.2A1.7 0.8 161.7 1 1 144.7 382.1A1.7 0.8 161.7 1 1 141.5 383.2ZM152.3 378A1.7 1.1 31.3 1 1 149.3 376.2A1.7 1.1 31.3 1 1 152.3 378ZM136.1 378.5A2.7 0.8 148 1 1 140.7 375.6A2.7 0.8 148 1 1 136.1 378.5ZM149.6 398.1A1.7 1.2 67.8 1 1 148.3 395A1.7 1.2 67.8 1 1 149.6 398.1ZM142.7 395.5A2.2 1 164.2 1 1 146.9 394.3A2.2 1 164.2 1 1 142.7 395.5ZM138.6 384.7A2.8 1 53.9 1 1 135.2 380.2A2.8 1 53.9 1 1 138.6 384.7ZM147 395.2A2.6 1 161.2 1 1 152 393.6A2.6 1 161.2 1 1 147 395.2ZM109.7 434.5A2.5 0.8 176.7 1 1 114.6 434.2A2.5 0.8 176.7 1 1 109.7 434.5ZM111.3 422.1A2.6 0.9 108 1 1 112.8 417.3A2.6 0.9 108 1 1 111.3 422.1ZM107.7 427.9A2.8 1 116.8 1 1 110.3 422.9A2.8 1 116.8 1 1 107.7 427.9ZM107.8 426.5A2 1.1 29.4 1 1 104.2 424.5A2 1.1 29.4 1 1 107.8 426.5ZM100.9 429A2.9 1.2 128.4 1 1 104.5 424.4A2.9 1.2 128.4 1 1 100.9 429ZM115.9 426.3A3.1 1.1 94.8 1 1 116.5 420.1A3.1 1.1 94.8 1 1 115.9 426.3ZM39.3 411.2A2.5 0.8 123.8 1 1 42.1 407A2.5 0.8 123.8 1 1 39.3 411.2ZM35.2 421.8A3.1 1.2 151.2 1 1 40.7 418.8A3.1 1.2 151.2 1 1 35.2 421.8ZM46.7 419.1A1.7 1.2 62 1 1 45.1 416.1A1.7 1.2 62 1 1 46.7 419.1ZM42.1 412.3A2.5 1.3 169.9 1 1 47.1 411.4A2.5 1.3 169.9 1 1 42.1 412.3ZM38.8 411A1.7 1.1 17.5 1 1 35.7 410A1.7 1.1 17.5 1 1 38.8 411ZM38.9 420A1.9 0.7 26.9 1 1 35.4 418.3A1.9 0.7 26.9 1 1 38.9 420ZM44.8 422.9A2 1.4 88.3 1 1 44.7 419A2 1.4 88.3 1 1 44.8 422.9ZM37.7 419.3A1.7 0.9 129.2 1 1 39.9 416.6A1.7 0.9 129.2 1 1 37.7 419.3ZM32.9 410.7A1.9 1.1 148.3 1 1 36.1 408.8A1.9 1.1 148.3 1 1 32.9 410.7ZM32.8 418.2A2.6 1.3 147.8 1 1 37.1 415.4A2.6 1.3 147.8 1 1 32.8 418.2ZM41 420.7A2.7 0.8 136.2 1 1 44.8 417A2.7 0.8 136.2 1 1 41 420.7ZM35.5 408.6A2.3 1.3 131 1 1 38.4 405.2A2.3 1.3 131 1 1 35.5 408.6ZM45.7 408.2A2.1 1.3 128.2 1 1 48.3 404.9A2.1 1.3 128.2 1 1 45.7 408.2ZM131 381.5A2.7 1.2 20.5 1 1 126 379.6A2.7 1.2 20.5 1 1 131 381.5ZM131.7 385.9A2.1 0.8 170.5 1 1 135.8 385.2A2.1 0.8 170.5 1 1 131.7 385.9ZM132.7 394.9A2.2 1.3 167.5 1 1 137 393.9A2.2 1.3 167.5 1 1 132.7 394.9ZM132.5 400.6A2.3 1 143.8 1 1 136.2 397.9A2.3 1 143.8 1 1 132.5 400.6ZM119.9 389.5A2.4 1.3 139.1 1 1 123.5 386.3A2.4 1.3 139.1 1 1 119.9 389.5ZM131.3 392.7A2.9 1.2 67.9 1 1 129.1 387.4A2.9 1.2 67.9 1 1 131.3 392.7ZM134.8 380.4A2.3 1.1 83.2 1 1 134.3 375.9A2.3 1.1 83.2 1 1 134.8 380.4ZM134.2 384.3A2.7 1 16.3 1 1 129 382.8A2.7 1 16.3 1 1 134.2 384.3ZM150.3 360.4A2.1 1 8.1 1 1 146.2 359.8A2.1 1 8.1 1 1 150.3 360.4ZM164.5 356.9A1.9 0.9 38.4 1 1 161.5 354.5A1.9 0.9 38.4 1 1 164.5 356.9ZM157.5 360.1A1.8 1 95.6 1 1 157.8 356.5A1.8 1 95.6 1 1 157.5 360.1ZM152.3 363.2A1.8 1.1 122.3 1 1 154.2 360.1A1.8 1.1 122.3 1 1 152.3 363.2ZM154.8 361.1A3.2 0.9 28.7 1 1 149.2 358.1A3.2 0.9 28.7 1 1 154.8 361.1ZM150.1 362A2.3 1.4 64.2 1 1 148.2 358A2.3 1.4 64.2 1 1 150.1 362ZM152.5 364.7A1.8 1.4 155 1 1 155.7 363.2A1.8 1.4 155 1 1 152.5 364.7ZM156.7 355.1A1.8 0.8 30.3 1 1 153.7 353.3A1.8 0.8 30.3 1 1 156.7 355.1ZM33.1 375.5A2.1 0.8 141.8 1 1 36.3 372.9A2.1 0.8 141.8 1 1 33.1 375.5ZM34.5 368.8A2.9 1.4 19.9 1 1 29 366.8A2.9 1.4 19.9 1 1 34.5 368.8ZM28.8 379.6A3 1.2 51.6 1 1 25.1 374.9A3 1.2 51.6 1 1 28.8 379.6ZM23.7 373.6A1.6 0.7 142.9 1 1 26.3 371.6A1.6 0.7 142.9 1 1 23.7 373.6ZM32.3 375.2A2.2 1.3 98 1 1 32.9 371A2.2 1.3 98 1 1 32.3 375.2ZM29.1 378.3A2.9 0.8 135.1 1 1 33.1 374.3A2.9 0.8 135.1 1 1 29.1 378.3ZM27.9 370.3A2.6 0.9 76.9 1 1 26.7 365.2A2.6 0.9 76.9 1 1 27.9 370.3ZM29.3 369.2A2.4 1 123.5 1 1 32 365.2A2.4 1 123.5 1 1 29.3 369.2ZM25.2 379.7A2.6 0.9 130.8 1 1 28.6 375.8A2.6 0.9 130.8 1 1 25.2 379.7ZM28.8 373.3A2.4 1.1 166.8 1 1 33.5 372.1A2.4 1.1 166.8 1 1 28.8 373.3ZM27.6 369.6A1.5 1.4 173 1 1 30.6 369.2A1.5 1.4 173 1 1 27.6 369.6ZM29 379.8A2.1 0.8 170.9 1 1 33.2 379.1A2.1 0.8 170.9 1 1 29 379.8ZM25.5 372.1A2.2 0.8 162.4 1 1 29.7 370.8A2.2 0.8 162.4 1 1 25.5 372.1ZM38.6 375.9A3.1 1.1 78.6 1 1 37.4 369.9A3.1 1.1 78.6 1 1 38.6 375.9ZM193.3 361.5A2.7 1.1 166.6 1 1 198.5 360.3A2.7 1.1 166.6 1 1 193.3 361.5ZM197.4 362.6A1.7 0.8 124.8 1 1 199.4 359.8A1.7 0.8 124.8 1 1 197.4 362.6ZM200.7 365A3 0.8 161.9 1 1 206.4 363.1A3 0.8 161.9 1 1 200.7 365ZM196.4 368A2 0.8 97.4 1 1 196.9 364.1A2 0.8 97.4 1 1 196.4 368ZM198 362.9A2.2 1.3 109.6 1 1 199.5 358.7A2.2 1.3 109.6 1 1 198 362.9ZM200.1 358A2.5 1.3 56.9 1 1 197.4 353.9A2.5 1.3 56.9 1 1 200.1 358ZM201.4 368.8A1.8 1.3 19.6 1 1 198.1 367.6A1.8 1.3 19.6 1 1 201.4 368.8ZM198.4 367.9A3.2 1 26.8 1 1 192.8 365.1A3.2 1 26.8 1 1 198.4 367.9ZM197.4 370.4A2.9 1.2 120.8 1 1 200.4 365.3A2.9 1.2 120.8 1 1 197.4 370.4ZM201.5 367.9A3.1 0.9 71.2 1 1 199.5 362A3.1 0.9 71.2 1 1 201.5 367.9ZM195.5 367.5A1.9 1 161.7 1 1 199 366.4A1.9 1 161.7 1 1 195.5 367.5ZM196.7 366.4A2.1 1.2 93.8 1 1 197 362.2A2.1 1.2 93.8 1 1 196.7 366.4ZM195.1 449.6A3.1 1 36.1 1 1 190.1 446A3.1 1 36.1 1 1 195.1 449.6ZM201.5 448.9A1.9 1.3 33.3 1 1 198.4 446.9A1.9 1.3 33.3 1 1 201.5 448.9ZM193.6 434.7A2.5 1.1 103.2 1 1 194.8 429.8A2.5 1.1 103.2 1 1 193.6 434.7ZM203.4 442.4A1.6 1.1 133.1 1 1 205.6 440.1A1.6 1.1 133.1 1 1 203.4 442.4ZM197.7 444A1.9 0.8 123.3 1 1 199.8 440.8A1.9 0.8 123.3 1 1 197.7 444ZM191.9 440.8A1.6 1.1 24.9 1 1 189 439.5A1.6 1.1 24.9 1 1 191.9 440.8ZM195 437.7A1.6 1.3 180 1 1 198.3 437.7A1.6 1.3 180 1 1 195 437.7ZM191.4 446.1A1.9 1.4 37.2 1 1 188.4 443.8A1.9 1.4 37.2 1 1 191.4 446.1ZM202.2 435.8A3.1 0.7 175.4 1 1 208.4 435.3A3.1 0.7 175.4 1 1 202.2 435.8ZM200.7 440.5A1.6 1.4 76.5 1 1 200 437.5A1.6 1.4 76.5 1 1 200.7 440.5ZM201.1 444A1.8 1 40.7 1 1 198.4 441.7A1.8 1 40.7 1 1 201.1 444ZM197.3 445.7A1.7 1.3 57.5 1 1 195.4 442.8A1.7 1.3 57.5 1 1 197.3 445.7ZM201.1 443.1A2.7 0.9 152.8 1 1 205.9 440.6A2.7 0.9 152.8 1 1 201.1 443.1ZM203.2 434.7A2.1 1.2 166.3 1 1 207.3 433.7A2.1 1.2 166.3 1 1 203.2 434.7ZM197.8 443.8A3.2 1.2 121.7 1 1 201.2 438.4A3.2 1.2 121.7 1 1 197.8 443.8ZM197.2 438.9A2.5 0.9 94 1 1 197.5 434A2.5 0.9 94 1 1 197.2 438.9ZM198.3 423.8A2.9 0.9 16.6 1 1 192.8 422.2A2.9 0.9 16.6 1 1 198.3 423.8ZM188 430.4A3.1 1.4 168.1 1 1 194 429.1A3.1 1.4 168.1 1 1 188 430.4ZM192.4 427A3.1 1.1 18.9 1 1 186.4 425A3.1 1.1 18.9 1 1 192.4 427ZM176.8 432.5A2.5 0.9 179.5 1 1 181.9 432.4A2.5 0.9 179.5 1 1 176.8 432.5ZM188.4 432.8A1.8 1 122.1 1 1 190.2 429.9A1.8 1 122.1 1 1 188.4 432.8ZM184.9 435.3A2.4 0.9 8.2 1 1 180.1 434.6A2.4 0.9 8.2 1 1 184.9 435.3ZM182.8 441.3A3.1 0.7 76.3 1 1 181.3 435.2A3.1 0.7 76.3 1 1 182.8 441.3ZM202.9 430.1A1.6 0.7 61.6 1 1 201.4 427.2A1.6 0.7 61.6 1 1 202.9 430.1ZM198.2 444.6A2.1 1.3 101.1 1 1 199 440.5A2.1 1.3 101.1 1 1 198.2 444.6ZM191.9 426.2A2.8 0.8 25.9 1 1 186.9 423.7A2.8 0.8 25.9 1 1 191.9 426.2ZM177.4 442.9A2.2 1.1 46.1 1 1 174.3 439.7A2.2 1.1 46.1 1 1 177.4 442.9ZM191.9 444.3A2.7 1.1 160.4 1 1 196.8 442.5A2.7 1.1 160.4 1 1 191.9 444.3ZM178.3 440.2A2.5 1.3 137.7 1 1 181.9 436.9A2.5 1.3 137.7 1 1 178.3 440.2ZM190.8 445.3A2.4 1 126.4 1 1 193.7 441.3A2.4 1 126.4 1 1 190.8 445.3ZM179.5 458.2A2.6 0.7 86.3 1 1 179.2 453.1A2.6 0.7 86.3 1 1 179.5 458.2ZM130.7 366.4A2.9 1.2 123.4 1 1 133.9 361.6A2.9 1.2 123.4 1 1 130.7 366.4ZM125.3 359.1A2.3 1.3 102.4 1 1 126.3 354.6A2.3 1.3 102.4 1 1 125.3 359.1ZM133.8 362.8A2.6 0.7 25.7 1 1 129.1 360.5A2.6 0.7 25.7 1 1 133.8 362.8ZM134.3 361.4A1.6 0.9 9.1 1 1 131.2 360.9A1.6 0.9 9.1 1 1 134.3 361.4ZM123.8 359.8A1.6 0.8 114 1 1 125.1 356.9A1.6 0.8 114 1 1 123.8 359.8ZM129.7 363.4A1.6 0.8 154.7 1 1 132.6 362A1.6 0.8 154.7 1 1 129.7 363.4ZM127.6 364A2.6 1.1 166.7 1 1 132.7 362.8A2.6 1.1 166.7 1 1 127.6 364ZM123.6 358A2.3 0.9 120.2 1 1 125.9 354.1A2.3 0.9 120.2 1 1 123.6 358ZM131.9 364.9A2.7 0.9 53.6 1 1 128.6 360.5A2.7 0.9 53.6 1 1 131.9 364.9ZM158.7 471.3A2.3 1.2 8 1 1 154.1 470.7A2.3 1.2 8 1 1 158.7 471.3ZM156.5 465.3A2.6 1 115.9 1 1 158.8 460.6A2.6 1 115.9 1 1 156.5 465.3ZM147 467.3A3.1 1.3 175.7 1 1 153.1 466.8A3.1 1.3 175.7 1 1 147 467.3ZM158.1 480.3A2 1 45.8 1 1 155.3 477.5A2 1 45.8 1 1 158.1 480.3ZM144.5 468.8A1.9 1.2 116.8 1 1 146.3 465.4A1.9 1.2 116.8 1 1 144.5 468.8ZM154.1 466.2A2.2 1 71 1 1 152.7 461.9A2.2 1 71 1 1 154.1 466.2ZM151.6 473.7A1.9 1 166.4 1 1 155.3 472.7A1.9 1 166.4 1 1 151.6 473.7ZM155 485.3A1.6 1.3 90 1 1 155 482.1A1.6 1.3 90 1 1 155 485.3ZM161.4 474.2A2.6 0.8 27.6 1 1 156.8 471.9A2.6 0.8 27.6 1 1 161.4 474.2ZM147.8 479.2A2.7 0.7 48 1 1 144.3 475.2A2.7 0.7 48 1 1 147.8 479.2ZM156 470.2A2.1 0.7 4.8 1 1 151.9 469.8A2.1 0.7 4.8 1 1 156 470.2ZM146.6 472.3A2 1 10.2 1 1 142.6 471.6A2 1 10.2 1 1 146.6 472.3ZM160.8 478.3A3.2 0.7 17.4 1 1 154.7 476.3A3.2 0.7 17.4 1 1 160.8 478.3ZM154.4 473.4A2.8 1.1 51.9 1 1 151 469A2.8 1.1 51.9 1 1 154.4 473.4ZM161.1 472.8A2.2 1 61.2 1 1 158.9 468.9A2.2 1 61.2 1 1 161.1 472.8ZM159.4 475.1A3 1.3 95.7 1 1 160 469.2A3 1.3 95.7 1 1 159.4 475.1ZM85.7 371.6A2.8 1.3 14.2 1 1 80.2 370.2A2.8 1.3 14.2 1 1 85.7 371.6ZM73 365.9A2.2 1.1 145.6 1 1 76.6 363.4A2.2 1.1 145.6 1 1 73 365.9ZM87.8 361.6A3.1 1.1 75.5 1 1 86.3 355.6A3.1 1.1 75.5 1 1 87.8 361.6ZM83.1 363.7A1.8 1.4 110.7 1 1 84.4 360.3A1.8 1.4 110.7 1 1 83.1 363.7ZM82 371.2A2.8 1.1 168.3 1 1 87.6 370A2.8 1.1 168.3 1 1 82 371.2ZM81.4 370.7A1.6 0.7 10.9 1 1 78.3 370.2A1.6 0.7 10.9 1 1 81.4 370.7ZM188.2 406.1A1.8 0.9 162.8 1 1 191.7 405.1A1.8 0.9 162.8 1 1 188.2 406.1ZM175.4 408.2A2.3 1.1 156.3 1 1 179.6 406.3A2.3 1.1 156.3 1 1 175.4 408.2ZM184.4 408.7A2.8 0.9 146.7 1 1 189.1 405.6A2.8 0.9 146.7 1 1 184.4 408.7ZM178.3 421A2.2 0.8 101.5 1 1 179.2 416.7A2.2 0.8 101.5 1 1 178.3 421ZM176.8 418.3A2.2 1 133.7 1 1 179.8 415.1A2.2 1 133.7 1 1 176.8 418.3ZM175.6 399.1A1.9 0.9 133.5 1 1 178.1 396.4A1.9 0.9 133.5 1 1 175.6 399.1ZM191 409.1A3.1 1.1 60.4 1 1 188 403.8A3.1 1.1 60.4 1 1 191 409.1ZM187.3 411A2.7 1.1 133 1 1 191.1 407A2.7 1.1 133 1 1 187.3 411ZM182.8 404.6A1.6 0.8 48.2 1 1 180.7 402.3A1.6 0.8 48.2 1 1 182.8 404.6ZM182.2 418.2A1.8 1 38 1 1 179.3 415.9A1.8 1 38 1 1 182.2 418.2ZM187.7 411A2.6 0.8 132.3 1 1 191.2 407.2A2.6 0.8 132.3 1 1 187.7 411ZM171.6 403.6A2.6 1.2 90.8 1 1 171.6 398.3A2.6 1.2 90.8 1 1 171.6 403.6ZM128.3 429.6A3 0.8 40.8 1 1 123.8 425.7A3 0.8 40.8 1 1 128.3 429.6ZM124.6 445.4A2.5 1.4 81.9 1 1 123.9 440.5A2.5 1.4 81.9 1 1 124.6 445.4ZM123.8 443.2A2.5 0.8 105.6 1 1 125.1 438.4A2.5 0.8 105.6 1 1 123.8 443.2ZM123.4 431.2A2.2 1.3 62 1 1 121.3 427.3A2.2 1.3 62 1 1 123.4 431.2ZM122.1 438.9A2.1 1.3 53.9 1 1 119.6 435.4A2.1 1.3 53.9 1 1 122.1 438.9ZM133 434.2A2.2 1 9.3 1 1 128.6 433.5A2.2 1 9.3 1 1 133 434.2ZM123.9 444.4A1.6 1.4 128.2 1 1 125.9 441.8A1.6 1.4 128.2 1 1 123.9 444.4ZM119.1 442.5A2.3 0.9 122.6 1 1 121.6 438.6A2.3 0.9 122.6 1 1 119.1 442.5ZM119.9 439.4A1.5 1.2 105.2 1 1 120.7 436.5A1.5 1.2 105.2 1 1 119.9 439.4ZM126.4 431.3A1.5 1.2 61.8 1 1 125 428.6A1.5 1.2 61.8 1 1 126.4 431.3ZM128.3 437.5A3.1 1.3 89 1 1 128.2 431.4A3.1 1.3 89 1 1 128.3 437.5ZM117.7 437.6A3.1 1.2 17.7 1 1 111.7 435.7A3.1 1.2 17.7 1 1 117.7 437.6ZM131.6 438A2.4 1 4.1 1 1 126.8 437.6A2.4 1 4.1 1 1 131.6 438ZM121.6 443.3A1.6 0.7 98.3 1 1 122 440.2A1.6 0.7 98.3 1 1 121.6 443.3ZM24.2 364.4A1.9 1.2 26.4 1 1 20.8 362.7A1.9 1.2 26.4 1 1 24.2 364.4ZM16.9 360.1A2.4 1 72.8 1 1 15.5 355.4A2.4 1 72.8 1 1 16.9 360.1ZM24.1 356.6A2.9 1.1 37.2 1 1 19.4 353.1A2.9 1.1 37.2 1 1 24.1 356.6ZM28.9 362.5A2.6 0.7 34.4 1 1 24.7 359.6A2.6 0.7 34.4 1 1 28.9 362.5ZM23.6 362.2A2.5 1.2 52.4 1 1 20.6 358.3A2.5 1.2 52.4 1 1 23.6 362.2ZM16.1 365.9A2.1 0.9 146.1 1 1 19.7 363.5A2.1 0.9 146.1 1 1 16.1 365.9ZM206.8 465.5A2.7 0.7 165.1 1 1 212 464.1A2.7 0.7 165.1 1 1 206.8 465.5ZM201.6 467.2A2.4 1 98.8 1 1 202.3 462.6A2.4 1 98.8 1 1 201.6 467.2ZM193.1 468.6A2.6 1.3 141.8 1 1 197.2 465.4A2.6 1.3 141.8 1 1 193.1 468.6ZM202.9 469A1.8 1.1 137.5 1 1 205.6 466.5A1.8 1.1 137.5 1 1 202.9 469ZM192.5 474.3A2.1 1.2 57.3 1 1 190.3 470.8A2.1 1.2 57.3 1 1 192.5 474.3ZM204.6 465.9A1.6 1 120.4 1 1 206.3 463.1A1.6 1 120.4 1 1 204.6 465.9ZM203.7 463.2A2.8 1.2 169.4 1 1 209.2 462.2A2.8 1.2 169.4 1 1 203.7 463.2ZM207.2 474.5A2.5 1.2 88.5 1 1 207.1 469.5A2.5 1.2 88.5 1 1 207.2 474.5ZM190.6 470.3A2.8 1 163.6 1 1 196 468.7A2.8 1 163.6 1 1 190.6 470.3ZM193 466.5A1.6 0.8 122.2 1 1 194.7 463.8A1.6 0.8 122.2 1 1 193 466.5ZM211.7 475.8A1.9 0.7 44.9 1 1 209 473.1A1.9 0.7 44.9 1 1 211.7 475.8ZM199.8 447.5A2 0.7 65.6 1 1 198.1 443.9A2 0.7 65.6 1 1 199.8 447.5ZM187.9 448A1.8 0.8 17.3 1 1 184.5 447A1.8 0.8 17.3 1 1 187.9 448ZM185.5 442.6A2.4 1.3 157.1 1 1 190 440.8A2.4 1.3 157.1 1 1 185.5 442.6ZM189.3 440.8A2.7 0.9 147 1 1 193.9 437.9A2.7 0.9 147 1 1 189.3 440.8ZM184.2 449.3A2.3 1.1 179.6 1 1 188.7 449.3A2.3 1.1 179.6 1 1 184.2 449.3ZM193.2 439A2 0.9 70.5 1 1 191.9 435.2A2 0.9 70.5 1 1 193.2 439ZM189.4 446A2.3 1.1 66.1 1 1 187.6 441.9A2.3 1.1 66.1 1 1 189.4 446ZM193.8 442.5A2.3 1 169.9 1 1 198.3 441.7A2.3 1 169.9 1 1 193.8 442.5ZM194.5 450.8A1.9 1.1 117.8 1 1 196.3 447.5A1.9 1.1 117.8 1 1 194.5 450.8ZM193.4 443.9A1.7 1.1 60.5 1 1 191.8 441A1.7 1.1 60.5 1 1 193.4 443.9ZM183.9 450.1A1.6 0.9 64.2 1 1 182.5 447.3A1.6 0.9 64.2 1 1 183.9 450.1ZM195 444.5A1.7 1.3 143.7 1 1 197.8 442.5A1.7 1.3 143.7 1 1 195 444.5ZM167.6 352.2A2.3 1.4 161.3 1 1 171.9 350.7A2.3 1.4 161.3 1 1 167.6 352.2ZM166.2 357.1A1.6 1.2 12.3 1 1 163 356.4A1.6 1.2 12.3 1 1 166.2 357.1ZM170.8 357.8A2.3 1.4 117.4 1 1 172.9 353.6A2.3 1.4 117.4 1 1 170.8 357.8ZM179.7 350.7A3.1 1.1 2.2 1 1 173.5 350.5A3.1 1.1 2.2 1 1 179.7 350.7ZM171.4 352.4A2.5 0.9 56 1 1 168.6 348.2A2.5 0.9 56 1 1 171.4 352.4ZM79.7 368.7A2.4 1.4 33.1 1 1 75.7 366.1A2.4 1.4 33.1 1 1 79.7 368.7ZM78.1 368.9A1.9 0.8 61.9 1 1 76.3 365.6A1.9 0.8 61.9 1 1 78.1 368.9ZM72.4 359.1A2.8 1.1 133.2 1 1 76.3 354.9A2.8 1.1 133.2 1 1 72.4 359.1ZM75.9 359.9A3.2 1.3 162.2 1 1 81.9 357.9A3.2 1.3 162.2 1 1 75.9 359.9ZM74 360.1A1.7 0.7 123.1 1 1 75.9 357.2A1.7 0.7 123.1 1 1 74 360.1ZM78.4 362.4A3 1.2 69.8 1 1 76.4 356.8A3 1.2 69.8 1 1 78.4 362.4ZM72 361.5A2.6 0.7 106.4 1 1 73.5 356.5A2.6 0.7 106.4 1 1 72 361.5ZM73.8 366.2A1.6 0.9 125.1 1 1 75.7 363.6A1.6 0.9 125.1 1 1 73.8 366.2ZM69.7 368.6A2.6 0.8 114 1 1 71.8 363.8A2.6 0.8 114 1 1 69.7 368.6ZM75.2 358A3.1 0.9 1.3 1 1 69 357.9A3.1 0.9 1.3 1 1 75.2 358ZM72.7 365.3A1.7 0.9 21 1 1 69.5 364.1A1.7 0.9 21 1 1 72.7 365.3ZM69.7 366.3A2.4 1 169.7 1 1 74.5 365.4A2.4 1 169.7 1 1 69.7 366.3ZM71.3 360A1.8 0.7 118.5 1 1 73 356.8A1.8 0.7 118.5 1 1 71.3 360ZM74.4 358.6A2.3 1 7.7 1 1 69.9 358A2.3 1 7.7 1 1 74.4 358.6ZM70.6 361.7A1.7 1 40.6 1 1 68 359.4A1.7 1 40.6 1 1 70.6 361.7ZM70 364.3A1.8 1 157.5 1 1 73.3 363A1.8 1 157.5 1 1 70 364.3ZM39 433.2A3.7 2 99.1 1 1 40.2 425.9A3.7 2 99.1 1 1 39 433.2ZM36.2 464.8A3.4 2.1 -13.7 1 1 29.7 466.4A3.4 2.1 -13.7 1 1 36.2 464.8ZM44.1 486.8A5 2 -0.1 1 1 34.1 486.8A5 2 -0.1 1 1 44.1 486.8ZM32.2 456.2A4.1 1.4 43.4 1 1 26.2 450.5A4.1 1.4 43.4 1 1 32.2 456.2ZM27.1 478.6A5 1.8 22 1 1 17.9 474.9A5 1.8 22 1 1 27.1 478.6ZM62.7 434.2A3 1.6 112.8 1 1 65 428.6A3 1.6 112.8 1 1 62.7 434.2ZM20.6 480.8A5.3 1.8 83.1 1 1 19.3 470.2A5.3 1.8 83.1 1 1 20.6 480.8ZM73.9 442.7A3.7 2 -10.5 1 1 66.6 444.1A3.7 2 -10.5 1 1 73.9 442.7ZM69.5 484.9A5.3 1.4 62.9 1 1 64.7 475.4A5.3 1.4 62.9 1 1 69.5 484.9ZM37.7 442.6A3.6 2.4 -19.6 1 1 30.9 445.1A3.6 2.4 -19.6 1 1 37.7 442.6ZM67.4 466.6A4.6 2.3 16.5 1 1 58.6 464A4.6 2.3 16.5 1 1 67.4 466.6ZM34.8 463.1A3.3 1.8 67.5 1 1 32.3 457A3.3 1.8 67.5 1 1 34.8 463.1ZM53.7 471.8A4.4 2.3 98.1 1 1 54.9 463A4.4 2.3 98.1 1 1 53.7 471.8ZM37.8 443.2A4.2 1.6 50.8 1 1 32.5 436.7A4.2 1.6 50.8 1 1 37.8 443.2ZM35.5 459.1A3.2 2.2 63.3 1 1 32.6 453.4A3.2 2.2 63.3 1 1 35.5 459.1ZM48 462.8A3.5 2.4 23.6 1 1 41.5 459.9A3.5 2.4 23.6 1 1 48 462.8ZM39.7 466.3A5.2 1.3 -6.5 1 1 29.4 467.5A5.2 1.3 -6.5 1 1 39.7 466.3ZM53.2 464.7A4.4 1.6 22.3 1 1 45.1 461.4A4.4 1.6 22.3 1 1 53.2 464.7ZM57 473.8A3.3 2.1 59.1 1 1 53.6 468.1A3.3 2.1 59.1 1 1 57 473.8ZM61.1 456.7A4.3 1.3 29.9 1 1 53.7 452.4A4.3 1.3 29.9 1 1 61.1 456.7ZM77.1 477.2A3.4 1.8 36.3 1 1 71.6 473.1A3.4 1.8 36.3 1 1 77.1 477.2ZM60.5 446.3A4.4 1.6 73.4 1 1 58 437.8A4.4 1.6 73.4 1 1 60.5 446.3ZM68 462.9A4.5 2.3 63.3 1 1 63.9 454.8A4.5 2.3 63.3 1 1 68 462.9ZM80.7 435.3A4.5 2.1 28.5 1 1 72.8 431.1A4.5 2.1 28.5 1 1 80.7 435.3ZM73.1 460.4A3.5 2 19.1 1 1 66.5 458.1A3.5 2 19.1 1 1 73.1 460.4ZM59.8 453.2A5.3 1.5 66.4 1 1 55.6 443.4A5.3 1.5 66.4 1 1 59.8 453.2ZM32.7 445.3A4.1 2.2 105.8 1 1 35 437.3A4.1 2.2 105.8 1 1 32.7 445.3ZM24.2 469A4.2 1.4 53 1 1 19.2 462.3A4.2 1.4 53 1 1 24.2 469ZM71.6 439A3.9 1.4 70 1 1 69 431.7A3.9 1.4 70 1 1 71.6 439ZM74.4 483.8A3.9 2 20.9 1 1 67.1 481A3.9 2 20.9 1 1 74.4 483.8ZM46.7 467.6A3.6 1.4 46 1 1 41.7 462.5A3.6 1.4 46 1 1 46.7 467.6ZM41.9 452.8A3.7 1.8 -2.9 1 1 34.5 453.2A3.7 1.8 -2.9 1 1 41.9 452.8ZM49.3 477.5A4.2 2.3 -11 1 1 41 479.1A4.2 2.3 -11 1 1 49.3 477.5ZM38.1 457.5A3.9 1.7 -19.9 1 1 30.8 460.2A3.9 1.7 -19.9 1 1 38.1 457.5ZM79.6 472.2A3.2 2 28.2 1 1 74 469.2A3.2 2 28.2 1 1 79.6 472.2ZM37.1 489.4A4.7 2.3 67.2 1 1 33.5 480.7A4.7 2.3 67.2 1 1 37.1 489.4ZM72.8 432.7A3.3 2.1 45.1 1 1 68.1 428.1A3.3 2.1 45.1 1 1 72.8 432.7ZM80.9 483.2A4.1 1.9 -19.8 1 1 73.1 486A4.1 1.9 -19.8 1 1 80.9 483.2ZM36.5 436.4A4.6 1.6 22.8 1 1 28 432.8A4.6 1.6 22.8 1 1 36.5 436.4ZM76.8 470A3 1.5 -13.2 1 1 71 471.3A3 1.5 -13.2 1 1 76.8 470ZM31.5 436.4A5.2 2.1 50 1 1 24.8 428.5A5.2 2.1 50 1 1 31.5 436.4ZM31.1 446.5A3.5 2.4 7.5 1 1 24.2 445.6A3.5 2.4 7.5 1 1 31.1 446.5ZM23.9 472.2A4.1 1.4 48 1 1 18.5 466.2A4.1 1.4 48 1 1 23.9 472.2ZM78.6 450A4 2.3 79.4 1 1 77.1 442.1A4 2.3 79.4 1 1 78.6 450ZM72.2 482.7A3.4 1.8 11.3 1 1 65.4 481.3A3.4 1.8 11.3 1 1 72.2 482.7ZM49 472.5A5.4 1.8 -10.9 1 1 38.4 474.5A5.4 1.8 -10.9 1 1 49 472.5ZM45.4 439.7A3.2 1.8 104.2 1 1 46.9 433.6A3.2 1.8 104.2 1 1 45.4 439.7ZM80.4 478.5A3.6 2.2 42.3 1 1 75.1 473.7A3.6 2.2 42.3 1 1 80.4 478.5ZM51.2 446.4A3.4 1.9 95.9 1 1 51.9 439.6A3.4 1.9 95.9 1 1 51.2 446.4ZM54.2 445.3A3.6 2 95 1 1 54.9 438.1A3.6 2 95 1 1 54.2 445.3ZM78.6 439.3A3.2 1.9 0 1 1 72.3 439.3A3.2 1.9 0 1 1 78.6 439.3ZM38.2 451.1A5.1 1.8 -4.8 1 1 28 452A5.1 1.8 -4.8 1 1 38.2 451.1ZM27.1 437.8A4.5 1.6 -21 1 1 18.7 441A4.5 1.6 -21 1 1 27.1 437.8ZM49.7 463A5.4 2.2 83.8 1 1 48.5 452.2A5.4 2.2 83.8 1 1 49.7 463ZM65.3 455.8A3.6 2.4 101.4 1 1 66.7 448.7A3.6 2.4 101.4 1 1 65.3 455.8ZM68.3 435.8A3.6 1.8 49.2 1 1 63.6 430.3A3.6 1.8 49.2 1 1 68.3 435.8ZM35.9 471.3A3.4 1.6 67.2 1 1 33.3 465A3.4 1.6 67.2 1 1 35.9 471.3ZM25.3 448.6A4.4 2.4 -8.5 1 1 16.6 449.9A4.4 2.4 -8.5 1 1 25.3 448.6ZM72.2 466.4A4.6 2.1 111.7 1 1 75.6 457.9A4.6 2.1 111.7 1 1 72.2 466.4ZM54 467.2A4.3 2.2 38.6 1 1 47.3 461.8A4.3 2.2 38.6 1 1 54 467.2ZM24.4 434.3A4.7 2.3 84.9 1 1 23.5 424.9A4.7 2.3 84.9 1 1 24.4 434.3ZM78.9 475.2A3.8 1.8 -3.2 1 1 71.4 475.7A3.8 1.8 -3.2 1 1 78.9 475.2ZM56.7 475.8A4.2 1.3 28.1 1 1 49.3 471.8A4.2 1.3 28.1 1 1 56.7 475.8ZM26.8 474.4A4.4 1.6 35.2 1 1 19.7 469.4A4.4 1.6 35.2 1 1 26.8 474.4ZM52.3 445.5A4.3 1.8 4 1 1 43.7 444.9A4.3 1.8 4 1 1 52.3 445.5ZM31 462.7A4.9 2.1 -16 1 1 21.6 465.4A4.9 2.1 -16 1 1 31 462.7ZM41.7 466.7A3.4 2 40.7 1 1 36.5 462.2A3.4 2 40.7 1 1 41.7 466.7ZM32.8 464.3A3.7 1.6 9.7 1 1 25.4 463.1A3.7 1.6 9.7 1 1 32.8 464.3ZM40.2 429.2A4.1 1.3 -14.6 1 1 32.2 431.3A4.1 1.3 -14.6 1 1 40.2 429.2ZM37.6 437.1A4.3 2.3 85.7 1 1 37 428.5A4.3 2.3 85.7 1 1 37.6 437.1ZM64.5 485.5A4.5 2.2 79.6 1 1 62.9 476.6A4.5 2.2 79.6 1 1 64.5 485.5ZM43.8 480.8A4.9 2.2 109 1 1 47 471.6A4.9 2.2 109 1 1 43.8 480.8ZM67.8 435.1A3.4 1.5 51.1 1 1 63.6 429.9A3.4 1.5 51.1 1 1 67.8 435.1ZM59.5 464.8A3.3 1.7 28 1 1 53.7 461.7A3.3 1.7 28 1 1 59.5 464.8ZM53.3 450.5A5.3 1.5 17.5 1 1 43.3 447.3A5.3 1.5 17.5 1 1 53.3 450.5Z" fill="none" stroke="#d6d6d6" stroke-width="0.6" transform="translate(0.6,0.5)"/></g>
<path d="M137.1 441.8m-1.3 0a1.3 1.3 0 1 0 2.6 0a1.3 1.3 0 1 0-2.6 0M157.4 375.1m-1.3 0a1.3 1.3 0 1 0 2.6 0a1.3 1.3 0 1 0-2.6 0M78.5 440m-1.3 0a1.3 1.3 0 1 0 2.6 0a1.3 1.3 0 1 0-2.6 0M96.7 355.8m-1.3 0a1.3 1.3 0 1 0 2.6 0a1.3 1.3 0 1 0-2.6 0M29.1 414.1m-1.3 0a1.3 1.3 0 1 0 2.6 0a1.3 1.3 0 1 0-2.6 0M118.7 432m-1.3 0a1.3 1.3 0 1 0 2.6 0a1.3 1.3 0 1 0-2.6 0M122.2 424.2m-1.3 0a1.3 1.3 0 1 0 2.6 0a1.3 1.3 0 1 0-2.6 0M108.1 482.2m-1.3 0a1.3 1.3 0 1 0 2.6 0a1.3 1.3 0 1 0-2.6 0M57.4 439.6m-1.3 0a1.3 1.3 0 1 0 2.6 0a1.3 1.3 0 1 0-2.6 0M133.2 415.5m-1.3 0a1.3 1.3 0 1 0 2.6 0a1.3 1.3 0 1 0-2.6 0M139.4 410.6m-1.3 0a1.3 1.3 0 1 0 2.6 0a1.3 1.3 0 1 0-2.6 0M147.2 470m-1.3 0a1.3 1.3 0 1 0 2.6 0a1.3 1.3 0 1 0-2.6 0M108.9 430.6m-1.3 0a1.3 1.3 0 1 0 2.6 0a1.3 1.3 0 1 0-2.6 0M136.7 400.3m-1.3 0a1.3 1.3 0 1 0 2.6 0a1.3 1.3 0 1 0-2.6 0M96.7 475.3m-1.3 0a1.3 1.3 0 1 0 2.6 0a1.3 1.3 0 1 0-2.6 0M34.9 350.8m-1.3 0a1.3 1.3 0 1 0 2.6 0a1.3 1.3 0 1 0-2.6 0M172.8 474.9m-1.3 0a1.3 1.3 0 1 0 2.6 0a1.3 1.3 0 1 0-2.6 0M34.9 389.2m-1.3 0a1.3 1.3 0 1 0 2.6 0a1.3 1.3 0 1 0-2.6 0M173.6 424m-1.3 0a1.3 1.3 0 1 0 2.6 0a1.3 1.3 0 1 0-2.6 0M82.1 482m-1.3 0a1.3 1.3 0 1 0 2.6 0a1.3 1.3 0 1 0-2.6 0M23.2 456.9m-1.3 0a1.3 1.3 0 1 0 2.6 0a1.3 1.3 0 1 0-2.6 0M163.9 419.6m-1.3 0a1.3 1.3 0 1 0 2.6 0a1.3 1.3 0 1 0-2.6 0M192.8 470.5m-1.3 0a1.3 1.3 0 1 0 2.6 0a1.3 1.3 0 1 0-2.6 0M196.5 446m-1.3 0a1.3 1.3 0 1 0 2.6 0a1.3 1.3 0 1 0-2.6 0M46.5 422.3m-1.3 0a1.3 1.3 0 1 0 2.6 0a1.3 1.3 0 1 0-2.6 0M121.4 477.7m-1.3 0a1.3 1.3 0 1 0 2.6 0a1.3 1.3 0 1 0-2.6 0M119.1 473.1m-1.3 0a1.3 1.3 0 1 0 2.6 0a1.3 1.3 0 1 0-2.6 0M140.9 380.9m-1.3 0a1.3 1.3 0 1 0 2.6 0a1.3 1.3 0 1 0-2.6 0M82.6 361.3m-1.3 0a1.3 1.3 0 1 0 2.6 0a1.3 1.3 0 1 0-2.6 0M59.3 365.8m-1.3 0a1.3 1.3 0 1 0 2.6 0a1.3 1.3 0 1 0-2.6 0" fill="#ececec"/>
</g>
<g clip-path="url(#clip1)">
<rect x="18.2" y="489.9" width="183.5" height="137.1" fill="#a9a9a9"/>
<path d="M74.9 511.9l6.7 0.2M48.1 539.6l7.5 2M174.2 494.9l3.6 -7M192 496.8l3.9 -5M111.6 502.2l8.6 -6.5M85 497.2l10.7 -1.9M88.7 545.7l8.3 -2.9M107.6 601.1l4.7 -4.5M114.2 541.3l6.4 -4.2M12 596.7l5.2 -0.4M164.9 575.6l7.6 -6.2M12.1 563.1l5.1 1.3M87.7 610.9l6.5 -6.5M146.4 602.6l3.6 -3.6M197.8 622.2l1.6 -10.6M91.4 534.9l10.6 -3.5M143.1 603.2l8.3 -8.2M25.3 548.9l5.6 2M107.1 513.4l6.2 -3.4M112.1 506.3l5.3 -3.7M103.1 591.5l6.8 -6.3M196.8 628.4l1.1 -9.2M30.6 496.2l10.9 1.3M34.1 520.7l10.9 4.1M182.4 627.1l3.1 -9.5M84.8 562.3l9.1 -4.2M122.4 589.6l8 -7.3M156.6 543.5l7.8 -5.8M147.9 513l3.9 -5.1M76.6 633.9l8.2 -7M19.6 552.3l7.5 2.5M79.4 494.5l9.1 -0.8M106 557.7l4.7 -3M145.8 569.9l8.9 -7M121 597.8l7.3 -6.8M143 571.7l5 -4M110.5 548.8l8 -5.2M175.1 578.1l7.1 -6.5M167.3 633.6l2.5 -4.4M83.3 536.4l5.9 -1M30.5 548.1l7.3 2.4M14.9 499l5.4 -0.1M158.4 596.8l7.5 -7.9M95.7 526l8.7 -3.1M100.9 633.8l5.5 -3.8M89.4 594.3l7.9 -7.2M66.4 497.1l7.1 0.7M88.5 568.3l9.5 -5.6M45.9 547.4l7.5 1.7M130.8 562.5l4.7 -3.7M167.2 517l4.4 -4.6M106.8 502l5 -2.8M170.4 612.4l3 -4.9M178.1 496.7l5.7 -10.1M175.7 520.3l5.2 -4.5M32.5 498.7l9.8 1.6M169.4 526.6l6.5 -5.3M57.3 550.8l5.1 0.3M198.5 506.9l8 -7.3M112 495.3l7.1 -5.6M150.6 631.5l3.9 -4.4M95.5 570.8l9.9 -6.8M92.2 627l3.1 -2.6M125.9 573.4l5.8 -4.9M139.5 617.2l4 -3.8M152.2 609.6l4.4 -4.8M96 554.1l6.7 -3.4M103.9 516.5l4.2 -2M106.7 605.9l8.4 -8M35.2 558.9l9.1 1.7M31.3 496l4.6 0.4M193 571.9l5.8 -6M75.4 499.1l10 -0.2M23.2 507.7l5.6 1.1M173.5 562.5l6.3 -4.5M87.7 499.7l10.4 -2.3M135.8 538.7l5.2 -4.3M112.4 594.9l6.2 -5.8M167 519l6 -5.9M117.2 492.4l7.3 -7.3M152.2 601.5l6 -6.2M98.6 514.8l10.2 -4.3M55.9 517.9l8.6 2.3M125.5 530.5l9.1 -7.7M140.2 522.4l3.4 -3.6M67.9 500.1l11.5 0.9M100.7 507.2l7.4 -3.3M66.2 523.9l10 1.2M105.4 618.8l6.3 -5.5M37.5 558.3l8 1.4M41.1 548.8l4.8 1.3M153.6 545.2l7.2 -5.4M13.3 507l10.4 1.1M200.7 614.1l1.1 -6.9M10.3 567.1l7.2 1.6M202.9 588.4l2.9 -6.1M125 622l4.6 -3.8M106.3 551.6l4.8 -2.9M142.5 591.3l5.1 -4.6M129 544.9l9.4 -7.5M89.5 507.5l11 -2.7M55.8 506.6l5.4 1.3M199.2 606.4l3.1 -11M152.6 522l3.4 -3.5M90.7 548.8l5.4 -2.1M156.5 558.1l4.8 -3.4M130 495.7l3.9 -5.4M27.2 486.8l11.4 -0.6M182.2 492.2l2.9 -5.2M204.7 613.1l0.6 -4.8M164.4 573.6l5.2 -4.1M152.8 586.8l4.5 -4.1M97.4 573.9l8.9 -6.5M70.3 562.8l9.3 -2.7M109.7 541.7l8.3 -5.1M86.2 612.8l7.1 -7.1M105.4 512l7.4 -4M99.5 489.3l7.7 -3.7M109.9 520.5l8.6 -5.4M22.4 525.6l8.5 3.2M92.4 538.8l10.5 -3.8M186.6 488.2l2.4 -4.5M110.6 528l4.9 -2.9M186.6 598.6l2.8 -5.1M152 586.3l8.6 -7.6M124.2 557.6l5.6 -4.3M78.8 559.7l11.2 -4.1M109.8 507.2l7.3 -4.8M92.2 596.9l4 -3.8M203.4 599l2.9 -9.2M94.8 544.9l4.4 -1.8M68.5 539l6 0.2M55.7 507l9 2.1M49.3 499.4l7.8 1.6M84.9 552.4l5.1 -1.7M84.9 539.2l11.4 -2.9M165.3 490.9l3.4 -9.2M130.9 579.5l5.3 -4.6M103.1 566l7.7 -5.4M93.5 563l8.2 -4.7M111.8 616.5l7.3 -6.4M174.1 525.9l5.9 -4.6M98.2 634.2l6.8 -4.7M120.9 604.4l5.2 -4.8M54.8 530.1l9.7 2.3M99.3 540.7l8.7 -4.1M159.8 533.3l9.3 -7.6M131.3 503.7l6.7 -9M141.1 608.9l5.7 -5.5M201.6 632.6l0.5 -10.1M108.6 563l8.1 -5.8M155.4 553.9l7.7 -5.5M185.8 590.1l3 -4.3M127.9 555.4l8.7 -6.8M167.9 602.9l3.8 -5M181.8 534.4l9.5 -6.1M197.3 613.8l2.1 -9.5M42.9 514.7l7.3 2.4M177.1 534.6l9.4 -6.2M140.5 623.1l3.7 -3.5M21 511.2l6.2 1.4M150.7 570.8l7.1 -5.5M85.2 605.7l5.1 -5M153.9 541.9l4.6 -3.5M41.7 551.6l4.5 1.1M97.9 554.7l3.6 -1.9M75.5 549.8l5 -0.9M105.3 616.4l7.6 -6.8M137 627l3.2 -2.8M177.3 580.1l4.9 -4.8M127.2 568.1l9.3 -7.5M200.1 515.5l6 -4.5M202.8 627.1l0.4 -8M131.3 578.2l7.7 -6.5M71.5 485.6l6.8 -0.1M156.1 566.2l8.7 -6.4M83.4 632.5l4.6 -3.8M92.6 531.3l8.1 -2.5M175.8 620.5l2.7 -5.8M160.1 539.3l5.1 -3.8M126 573.4l5.5 -4.6M150 577.8l5.6 -4.6M23.6 553.5l7 2.2M119.7 624.8l3.2 -2.5M155 501.4l4.2 -7.9M124.2 551.9l5.6 -4.3M152.6 539.4l5.1 -4.1M35.5 541.8l11.1 3.7M133.5 515l5.9 -6.7M9.1 512.6l8.7 1.1M163 588l6.1 -5.9M87.8 557.5l5.5 -2.4M101.7 581.7l4 -3.3M96.8 561.2l7.5 -4.4M102.2 487.8l7.8 -4.3M98.6 621.7l5.1 -4.4M93.8 528.5l4.1 -1.2M165.7 494.7l3.4 -7.5M83.2 554.9l3.9 -1.3M176.7 609.2l5.6 -9.9M81.4 563.7l5.4 -2.3M122.3 519.7l5.3 -4.5M69.9 510.5l10.4 0.8M148.3 539.5l8.8 -7.3M187.7 526.2l9 -6M195.5 626.3l1.8 -11.8M138.5 578.4l3.5 -2.9M34.4 488.7l7.9 0.2M69.6 507.1l5.4 0.6M173.8 531.6l5.1 -3.6M156.4 532.8l8.9 -7.5M142 577l5.4 -4.4M112 577.2l8.5 -7.1M17.2 519.2l6.1 1.7M122.8 572.3l3.1 -2.6M167.2 577.6l9.1 -7.7M173.1 511.3l6.2 -7.1M49.7 634.7l8.9 -7.6M31.7 517.2l7.3 2.6M144.5 635l8.4 -8.5M110.4 553.7l9 -6.1M17.9 489.6l6.7 -0.9M135 577.4l4.4 -3.7M177.7 610.3l3.5 -6.7M151.1 517.7l3.2 -3.7M15.3 534.3l6.6 2.4M175.4 588.6l6.7 -7.5M190.3 488.3l2.1 -3.7M22.3 493.2l11.5 -0M72 532.2l8.9 0M122.5 598.8l6 -5.6M113 491.9l3.3 -2.5M149.1 551l8.3 -6.2M88.5 629.2l6.9 -5.8M168.6 537.5l8.5 -5.9M143.7 541.6l5.4 -4.4M172.5 632.6l2.2 -4.6M39.9 497.1l6.3 1.1M70.7 498.3l8 0.4M145.1 573.5l6.7 -5.4M35.4 498l11 1.9M50.8 536.6l4.4 1.2M188.1 551.4l3.9 -2.6M166.1 513.4l3.9 -4.5M167.2 501.5l4.9 -8.4M140.6 524.6l6.8 -7M151.8 590.3l6.5 -6.1M25.8 562l5.2 1.2M53.4 537.5l11.5 2.3M117.2 593.6l7.8 -7.1M189.5 613.5l2 -6.3M46.2 543.4l9.9 2.4M164.4 607.6l6.4 -8.5M26.2 563.4l4.1 0.9M158.5 567.3l3.2 -2.4M152.6 530.8l5.8 -5.2M96.4 498.1l4.5 -1.5M90.5 497.2l8 -2.1M165.2 609.9l5.6 -7.8M200.8 543.2l9.6 -6.5M197.5 560.7l7 -6M92.6 565.2l6.4 -3.8M133.8 606.6l8.3 -7.8M128.6 578.7l8.1 -6.9M116.8 558.3l8.4 -6.3M100.6 495.6l3.9 -1.7M87.9 549.7l8.6 -3.2M131.8 585.6l4.5 -4M101.7 495.3l6.4 -3.1M100.7 554.6l9.7 -5.6M122.1 620l7.8 -6.7M119.7 628.3l4.9 -3.6M183.1 521.1l4.2 -3.2M97.8 553.9l7 -3.7M159.7 545.8l5.5 -3.9M109 522.8l3.5 -1.9M113.3 582.6l7 -6.1M99 591.1l5.4 -4.9M63.7 557.9l8.3 -1.1M187.3 555.9l8.3 -5.7M24.8 532l6 2.4M155.1 602.5l7.4 -8M113.9 545.7l5.4 -3.6M94.2 496.9l9.6 -3.4M113.5 594.2l5.4 -5M118 604l3.8 -3.5M158.9 541l3.5 -2.6M41.9 541.9l9.9 2.9M41.9 553.5l11.3 1.9M121.9 560.9l5.1 -3.9M105.5 496.7l3.9 -2.1M121.6 495.2l4.1 -4.3M105.1 543.5l5.1 -2.8M14.6 523.3l8.3 2.5M46.9 489l10.1 1M195.9 623.4l1.1 -7.3M154.4 519.2l6.6 -7.5M98.6 595.2l8.2 -7.7M31.2 562.5l9.8 1.7M103 553.3l4.4 -2.5M36.1 535.2l8.3 3.1M139.5 515.3l5.6 -6.8M50.5 525.4l9.4 2.8M172.3 537.8l9.2 -6.2M11.6 548.2l4.7 1.6M177.9 536.6l7.1 -4.6M143.8 604.2l5.6 -5.5M181 621.4l3.6 -9.4M135.5 599.2l4.6 -4.3M109 504.8l6.9 -4.4M51.4 494.7l8.3 1.3M111.5 502.1l7.4 -5.4M164.7 578.3l7.9 -6.7M159.1 594.2l7 -7.2M118.6 594.7l7.4 -6.8M180.8 519.7l8.1 -6.6M114.9 515.4l4 -2.8M123.8 579.4l6.1 -5.3M69.8 509.2l8 0.8M46.9 503.2l10.8 2.7M88.6 608.8l8.4 -8.4M21.9 533.7l4.9 1.9M154 588l8.1 -7.4M141.2 502.9l4.1 -6.5M109.4 516.7l3.7 -2.1M185.9 503.6l6.4 -7.5M197.5 493.7l6.8 -9.1M40 549.5l5.2 1.4M133.5 631.7l6.2 -5.1M135.1 588.8l4.4 -4M12.7 549.2l10.2 3.5M18.7 537.4l6.6 2.5M181.7 612.3l4 -8.9M130 606.5l6.7 -6.2M58.7 558.8l10 -0.8M129.2 597.7l8.1 -7.5M176.9 591.5l6.5 -7.9M78.8 508.5l9.1 -0.4M107.2 591.9l8.7 -8M186.2 598.1l2.7 -4.8M201.6 499.2l4.6 -4.8M81.2 550.1l8.7 -2.4M39.9 491.3l10.7 1.1M117.6 604.7l8.3 -7.7M40.2 505.2l9.3 2.5M81.4 516.5l6 -0.4M199.8 496.7l3.4 -3.9M46.5 552.3l6 1M178.5 516.8l6.7 -6M48.4 508.5l6.5 1.9M115.2 615.9l4.9 -4.3M121.5 536l5.4 -4M104 563.6l4.7 -3.2M100.9 590.5l8.5 -7.7M103.5 577.6l6.9 -5.6M101.9 592.1l3.1 -2.9M160.8 575.5l8.7 -7M81.4 545.3l7.1 -1.6M74.5 500.3l11.8 -0.2M189 551.5l8.5 -5.7M48.8 544l4.2 1M110.9 594.5l3.5 -3.3M80 633l7.6 -6.5M167.7 601.9l4.7 -6.1M9.4 623.9l10.4 -3.2M189.2 599.7l4.2 -8.3M93.6 505.5l7.2 -2.1M177.3 614.7l5.2 -10.5M144.2 629.4l4.4 -4.3M19.9 503.5l7 0.7M125.8 623.2l4.4 -3.6M108.2 624.2l5.8 -4.6M152.1 504.1l5.7 -10.2M37.3 545.3l7.2 2.3M100.5 550.4l8.9 -4.9M113.9 564.1l4.9 -3.7M10.2 511.9l8.1 1M65.2 549.4l9.1 -0.5M186.8 609.6l3.5 -8.6M145 536.3l9 -7.9M202 496.7l4 -4.5M154.3 508.2l2.8 -4M26.7 491.4l6.6 -0.1M11.7 559.2l9.8 2.8M39.1 533.9l6.7 2.5M98.4 618.7l8.3 -7.5M153.4 611.2l3.6 -4.1M171.3 588l6.1 -6.5M174.2 556.3l5.1 -3.4M202.3 522.1l8.6 -5.9M11.5 521.5l6.1 1.5M173.8 568.3l7.3 -5.6M45.2 553l5.8 1M87.8 512.6l10.8 -2.3M185.8 595.8l4.4 -7.2M27.8 505.4l4.8 0.9M147.3 544.1l5.1 -4M88.2 535.7l4.8 -1.1M201.3 513.7l8.3 -6.4M182.2 561l9 -6.5M133.6 551l7.5 -6M152 559.7l5.1 -3.8M141.9 569.4l4 -3.2M111.5 615.2l7.5 -6.6M182.4 502.4l3 -3.7M23.7 499.8l11.5 1.3M143.1 500.1l3.9 -6.8M134.7 558.3l8.9 -6.9M108.1 617.7l6 -5.3M196.6 522.3l5.4 -3.6M68.2 530l8.5 0.6M157.2 529.7l5.5 -4.9M183.2 619.8l3.8 -10.5M21.1 557.5l8.7 2.5M33.7 549.7l7.8 2.4M80.2 575.8l7.5 -4.4M36.6 491.3l4 0.3M160.7 528.9l7.3 -6.3M73 485l6.8 -0.2M24.3 508.9l7.2 1.6M115.6 610.6l4.9 -4.4M68.4 488.2l7.8 0.2M77.5 504.9l7.1 -0.1M69.8 632.5l5.4 -4.9M103.4 627.4l6.7 -5.2M166.4 628.7l5.3 -9.3M88.2 535.8l10.5 -2.9M39.4 487.6l5.5 0.2M40.8 522.2l10.6 3.9M188.2 532.5l9.9 -6.2M181.1 490.2l3.2 -6.5M149.1 514.3l7.2 -9.6M173.8 545.6l3.8 -2.4M138.9 614.2l4.9 -4.7M137.2 579.9l3.4 -2.9M139.5 519.5l6.7 -7.7M18 560l10.5 2.8M58.9 560.7l7.9 -0.8M57.8 562.1l10.9 -1.3M130.9 625.4l7.9 -6.8M10.1 562.5l11.4 2.9M23.9 523.8l4.3 1.5M135.5 509l3.6 -4.5M116.6 604.9l7.6 -7.1M53.6 489.2l10.3 1.1M78.1 526.8l11.7 -1M24.3 524.1l4 1.4M166 513l7.3 -8.9M23.4 544.3l6.9 2.6M100.5 617.4l8.6 -7.9M129.3 570.1l7.1 -5.8M201.4 571.2l5.8 -6.9M46.7 554.1l5.3 0.8M93.7 626.4l3.4 -2.9M164.9 592.5l8.2 -8.6M34.8 555.1l11.1 2.4M101.3 605.4l4.5 -4.3M153.4 537.8l7.9 -6.4M132.1 589.4l6.4 -5.7M188.9 544.4l8.9 -5.6M82.7 587l8.5 -6.6M153.5 579.1l7.2 -6M21.3 551.7l7.4 2.5M193 549.9l7.1 -4.8M114.8 556.7l9.7 -7M200.7 542.1l4.3 -2.8M177.4 508.9l4 -4.5M187 605.2l3.1 -7M190.4 526.6l8.8 -5.8M89 607.6l5 -5M103.6 518.8l4.2 -1.9M27.6 515.7l9.7 3.2M52.3 532.6l8.6 2.3M191.1 534.1l4.7 -2.9M120.7 598.3l4 -3.7M119.9 566.6l7 -5.5M53 492.1l8.7 1.2M146 550.9l7.5 -5.8M126.1 520.4l4.2 -3.8M173.8 492.7l3.6 -7.8M182.5 519.9l5.5 -4.4M147.9 550.3l9.2 -6.9M115.8 588.1l6 -5.5M134.4 496l2.8 -4.3M138.3 613.7l6 -5.8M161.8 575.7l6 -4.9M89.3 597.6l6.6 -6.2M185.1 556.1l5.6 -3.9M175.1 510.6l7.5 -8.5M39.5 519.3l6.8 2.5M144.3 559.8l4.2 -3.2M201.2 506.3l4 -3.5M113.8 526.9l6 -4M143.3 567.2l6.5 -5.1M130.7 533.1l7.7 -6.7M36.4 486.3l6.4 -0M139.1 549.8l4.3 -3.4M50.2 498.2l4.5 0.9M118.2 565.2l4.2 -3.2M168.6 508.3l6.4 -8.5M175.5 622.6l4.7 -10.2M101.2 535.6l9 -4.3M64.6 489.5l10.3 0.6M105.9 540.3l9 -5.1M115.8 546.2l4.6 -3.2M9.6 502.5l11.3 0M182.1 566.3l6.5 -5.1M138.1 568.2l5.2 -4.2M9.3 577l11.1 1.3M188.6 523.2l8.1 -5.7M68.7 562.9l8.2 -2.1M83.5 520.1l6 -0.6M160.9 604.7l4.4 -5.3M63.6 489.8l11.2 0.7M202.4 553.3l5.8 -4.7M190.9 581.1l4.2 -5.2M80.2 602.3l7.8 -7.4M10.8 544.7l11.2 3.9M173.5 626l4.3 -9.2M172.7 509.9l6.5 -7.7M193.2 496.1l3.9 -5M165.8 613.2l4.9 -7.2M11.7 504l9.6 0.4M156.9 510.3l3.6 -4.9M202.5 610.2l1.3 -7.3M122.3 570.2l4.3 -3.5M174 534l4.4 -3M150.9 630.3l2.9 -3.2M97.1 510.2l6.3 -2.2M205.1 607.9l0.8 -4.9M192.2 581.2l3.2 -4.1M30 633l3.9 -2.3M168.6 565.9l8.2 -6M23.4 505.6l7.2 1.2M188.6 554.4l8 -5.5M102.2 570.4l4.4 -3.2M34.9 514l7.6 2.5M36.3 504.6l7.7 1.9M158.9 578.2l6.4 -5.3M171.4 610.4l4 -6.4M182.6 615.7l3.3 -8.3M156.3 513l4.2 -5.3M92.2 598.5l5.8 -5.5M167.2 550.9l6.8 -4.5M113.7 588.7l8.2 -7.4M196.6 599.1l4.1 -9.9M192.8 599.9l4.8 -10.6M124.7 525.1l5.6 -4.8M172.6 631.1l3.5 -7.6M81 615.9l3.5 -3.5M168.2 497.8l5.1 -10.1M31.5 552.9l9.8 2.7M61.6 523.6l9.8 1.8M81.9 555.1l4.6 -1.5M18.5 555.1l9.3 2.9M10.6 633l8.3 -2.8M154.4 572.4l9.2 -7.2M178.7 511.6l5.6 -5.7M120.2 516.4l8.9 -7.8M50.3 527.5l10.6 3.1M159.7 578l3.2 -2.7M168.1 592.3l3 -3.3M189.7 493.5l5.1 -7.8M174.4 510.5l5.7 -6.4M76.4 536.7l8.9 -0.8M82.5 497.8l9 -1.1M139.6 524.2l6.5 -6.7M177.6 596.5l3.7 -5.2M79 528.8l8.9 -0.8M166.9 562.6l4.1 -2.9M10 490.3l8.7 -1.8M57.5 503l7.7 1.6M185.6 533.1l8.8 -5.5M88.4 576.6l7.3 -5M186 543.4l3.6 -2.2M106.6 586.4l3.8 -3.4M107.4 591.5l4.5 -4.1M20.8 514.2l6.9 1.8M94.3 543.9l9.8 -4.1M90 579.7l9.4 -7M32.7 540.6l7.5 2.8M133.7 623.7l3.7 -3.2M50.2 557.9l7 0.4M177 560.5l7.4 -5.2M139.7 541.8l9.1 -7.6M202.4 606.1l2.3 -9.7M97.4 557.6l6.3 -3.5M198.3 550.3l9 -6.4M136.1 581l6.4 -5.5M169.6 513.5l7.5 -8.5M158.3 576.1l3.8 -3.1M75.4 517.3l11.2 -0.1M119.5 634l7.5 -5.2M123.5 505.8l3.7 -3.7M26.3 496.2l6.1 0.3M118.6 528.9l8.8 -6.7M67.8 507.2l9.2 1M95.3 536l6.1 -2.2M162.7 573.6l7.9 -6.2M132.8 625l4.4 -3.8M62.7 635.5l8.8 -7.8M132.5 624.2l8.9 -7.9M162.1 496.4l3.5 -7.6M128.5 632.9l8.7 -6.7M171 563.8l4.5 -3.2M102.7 522.5l9 -4.4M43.6 634l7.4 -5.8M178.1 551.1l7.2 -4.6M146.7 552.4l3.8 -2.9M81.4 495.9l9.5 -1.1M83 542.1l8.5 -2M49.3 530.4l9 2.7M110.5 593.3l4.2 -3.9M99.6 564.4l4.8 -3.1M44.5 495.1l5.3 0.8M178.2 608.7l5.2 -9.5M154.3 628.6l3.6 -4.4M149.1 492.8l1.8 -4M176.4 524.3l7.7 -6M191.9 545.8l5.1 -3.2M165 589.5l8.4 -8.4M125.5 553l8.3 -6.4M196.5 591.1l2.1 -4.1M78 497.8l4.2 -0.1M123 601.9l8 -7.4M106.7 554l5.2 -3.2M10 502.6l11.7 0.1M139.4 594.6l7.1 -6.5M182.4 524.6l4.6 -3.3M125.3 549.4l8.9 -6.9M61.3 523.7l8 1.6M200.2 602.6l3.2 -10.3M119.7 528.5l9.2 -7.2M40.7 552.4l9.1 1.9M184.8 526.1l7.1 -4.9M178.2 546.5l6.3 -3.9M39.8 489.3l6.4 0.4M119.5 601.8l3.2 -3M206 607.5l0.8 -5M112.5 571.2l4.5 -3.6M64.9 486.9l5.2 0.3M145.4 621.7l7.8 -8.2M181.5 634.3l3.2 -10.6M158.5 545.9l7.7 -5.5M90.7 550.6l10 -4.2M202.6 597.9l1.3 -4.2M12 514.5l7.9 1.4M69.5 550l4.5 -0.4M110.3 575l4.7 -3.9M33.4 551.6l8.4 2.4M186.3 540.5l5.7 -3.5M116.4 513.3l4.7 -3.5M139.3 506.7l2.4 -3.2M40.4 531.4l3.8 1.4M186.1 537.7l10.1 -6.2M173.5 589.1l8 -8.9M105.6 511.3l4 -2M170.3 518.2l3.1 -3M157.4 629.4l3 -3.9M40.1 510.6l10.5 3.3M36.7 535.3l11 4M88.3 492.2l9.3 -2.2M52.8 505.4l9.2 2.2M77.2 544.3l6.8 -1M197 512.3l6.2 -5M160.1 623.7l3.7 -5.2M86.5 601.3l5 -4.8M174.3 615.4l4.7 -8.9M98.9 556.8l7.8 -4.5M100.1 588.9l3.5 -3.2M98.2 567.8l3.5 -2.4M180.5 603.7l2.1 -3.7M201.2 623.2l0.5 -5.9M136.3 532.3l8 -7.3M131.7 615.4l3.1 -2.8M159.3 575.4l3.3 -2.7M202.7 595.2l2.2 -5.9M97.4 499.7l8.5 -3.4M116.3 632.7l9.8 -6.9M51.8 523.6l4.2 1.3M27.2 545.1l6.5 2.4M153.3 498.3l2.9 -5.8M178.1 532l3.4 -2.3M153.9 509.9l4.1 -5.9M151.3 542.4l4.9 -3.8M199.4 602l2.2 -7M176 568.9l6 -4.7M189.1 546.4l4.6 -2.9M202.4 624.8l0.9 -11M181.4 494.8l3 -5M93.1 606.7l3.5 -3.5M20.2 521.6l7.9 2.6M121.9 596.1l7.3 -6.8M155.1 575.5l4.9 -4M83.2 513.1l7.5 -0.8M106 583.3l8.1 -7M168.7 502.8l4.2 -6.6M103.1 518.2l8.2 -3.9M164.8 627.4l4.2 -6.8M104.7 518.2l6.8 -3.4M47.5 515.1l10.6 3.3M199.6 521.3l8 -5.5M108.7 577.5l3.4 -2.9M149.9 521l3.2 -3.4M125.7 568l6.2 -5M16.1 495.2l7.6 -0.5M53.2 537.8l11.3 2.2M142.8 556.2l4 -3.1M106.1 542.7l6.9 -3.9M146.3 586.8l5.1 -4.5M18.1 562.4l7.9 2M112.4 502.3l8.2 -6.3M131.4 630l8 -6.6M50.1 546.7l4.8 0.9M89 536.1l5.3 -1.4M116.3 557.1l6.3 -4.6M101.4 556.1l10.2 -6.1M52.3 567.3l12.1 0.4M48.4 611.3l11.3 -3.2M65.3 591.2l10.3 -3.1M24.2 579.1l8.4 -1.7M57.1 592.6l14.1 -1.4M17.9 579.3l14.1 -0.6M72.7 582.7l8.3 0.6M63.7 576.7l11.6 -2.6M33.3 588.8l9.3 -3.9M68.7 579.1l6.9 -1.9M31 577.2l13 -2.2M51 614.2l8.8 -2.5M48.6 607.1l14.2 -3.2M69 578.4l7.9 0.1M33.9 592.7l8.4 -0.3M29.1 598.7l9.7 -3.8M11.7 618.1l14.5 -3.1M74.6 572.6l9.3 -0.5M59.4 621l11.1 -1.4M43.1 578.4l7.5 -2.7M74.2 569l7.3 -3.4M55.7 589.6l8.9 -1.2M66.8 615.9l7.6 -1.3M25.1 590.8l13.6 -4.6M43 584.9l6.4 -0.2M72.6 602.7l8.8 -3.8M74.3 566.6l6.6 -1.1M42.5 614.9l14.7 -4M72.5 603.3l6.3 -2.6M28.3 574.6l8.5 -1.8M23.2 605.7l8.9 -3M21.2 579l15.3 -4.4M45.3 573.4l14.6 -3.2M46 606.9l10.9 -4.7M66.7 592.3l11.1 -3.8M42.2 607.4l9.2 -3.4M26.7 583.5l7 -1.3M22.4 618.4l7.4 -0.7M20.2 584.1l13.1 0.6M68.2 590.5l14.9 -3.1M66.9 625l10.9 -2.3M71.8 622l11.3 -2.2M17.2 607l13.8 -5.8M17.2 589.3l6.5 -3M61.8 573.7l11.1 -3.9M64.4 586.8l7.5 -2.2M55.5 610.8l7.8 -1.6M69.3 571.2l8.1 0.5M41.6 612.8l8.7 0.3M48.5 613.8l7.7 -2.3M45.6 620l9.6 -3M16.8 618.8l13.5 0.3M33.7 597.7l9.7 -1.8M47.1 570.6l5.8 -2.6M48.6 619.7l9.5 0.5M54.6 595.5l9.3 -0.8M62.5 579.6l8 -0.2M50.4 579.1l13.8 -6.2M67.7 615.6l14.5 -4.9M42 569.1l6.2 -0.4M70 578.1l14 -3M38.5 594l8.5 -3M63.4 578.5l11.9 -4.3M39.3 578.7l15.5 -3.2M67.2 577.6l15.8 1.4M48.1 599.6l11 -0.2M59.8 593l11.1 -3.6M23.8 611.3l14.1 -3.1M71.5 592.1l7.2 -1.4M22.3 585.5l6.7 -1.4M44.3 600.6l11.3 0.7M51.7 580.2l10.7 -4.8M40.2 590.6l13.7 -1.4M12.7 617l12.3 -0.5M71.8 598.5l7.5 -1M29.2 581.7l9.3 -0.2M72.6 619.6l7 -1M64.9 594l14.3 -3M51.1 604.3l10.8 1M64.2 627.5l14 -4M32.2 596.1l7.1 -1.6M70.4 624.5l6.8 0.2M46.7 621.3l12.5 0.1M42.3 580.9l14.1 -3M32.4 616.5l6 -1.7M54.6 604.9l14.5 -3.6M14.2 607.5l11.3 -3.5M66.1 620.3l12.9 -2.1M53.1 576.1l6.7 -2.9M68.8 612l14.9 0.8M36.6 580.6l12.8 -3.3M16.3 573.1l12.8 -5.5M71.9 585.5l9.1 0.6M29.6 611.2l9.4 -4M64.1 610.6l15.9 -0.7M20.2 574.3l9.6 0.1M20 571.4l13 -5.1M41.8 606.5l12.4 1.2M57 602.6l8.1 -1.5M13.9 595.9l13.7 -2M23.1 568.2l12.2 -0.4" fill="none" stroke="#d0d0d0" stroke-width="0.7" stroke-linecap="round" filter="url(#soft)"/>
<path d="M163.1 497.8l4.2 -8.5M158 516.4l6.8 -8.1M190 520l6.2 -4.5M71.3 497.6l7.3 0.4M14.3 526.6l10.7 3.6M124 603.7l3.5 -3.2M84.4 525.1l7.1 -1M204.2 625.8l0.6 -10.6M112.8 570.5l8.7 -6.9M34.5 486l8.6 -0.1M157.9 505.3l4.7 -7.7M99.2 624.6l6.7 -5.6M122.3 543.3l6.2 -4.6M152.9 614.1l5.4 -6.2M136.2 508.6l6.8 -9.3M93.9 527.6l10.6 -3.6M32.7 534.5l10.5 4.1M195.1 577.2l6.1 -7.4M156.1 503.8l2.2 -3.7M89.9 583.4l5.2 -4.1M72.3 549.2l4.4 -0.5M192.9 509.5l5.6 -5M148.2 512.7l6.9 -9.7M171.2 509.7l7.3 -9.2M123.9 508.4l7.2 -7.5M190.2 609.5l2.6 -7.3M127.5 575.2l4.1 -3.5M125.2 519.6l8.1 -7.7M121.7 532.8l3.6 -2.7M110 538.5l3.8 -2.2M88 620.4l8.4 -8M170.3 566.2l7.2 -5.3M19.7 547.9l10 3.6M91.7 613.7l8.4 -8.3M149.5 620.1l4.6 -5.1M166.6 558.1l6.7 -4.6M124.5 608l3.7 -3.4M108.9 611.4l8 -7.4M189.5 501.4l3.1 -3.6M160.3 558.9l6.4 -4.5M147.1 536.4l5.4 -4.6M63.7 497.1l4.1 0.5M143.1 490.5l4.4 -10.4M202 562.2l4.9 -4.7M99.4 538.1l9.8 -4.5M12.4 521l10.8 3M112.1 579.7l4 -3.4M197.8 529.5l4.7 -3M180.6 531.7l7 -4.6M181.7 571.7l6.8 -5.9M111.7 542.1l10 -6.5M130 609.2l6.9 -6.4M140.8 609.7l8.1 -8M21.6 511.9l9.1 2.2M132.7 593.5l4 -3.6M164.7 531.8l8.7 -6.9M14.9 509.4l10.2 1.6M87.1 623.9l5.7 -5.3M128 590.1l7 -6.3M11.9 582l5.4 0.4M122.6 589.1l7.7 -6.9M113 526.8l4.1 -2.5M157 612.5l3.7 -4.5M201.3 560l8 -7.1M81 611.7l4.3 -4.3M116.4 494.9l5.8 -5.3M120.3 519.5l4.9 -4M98.4 567.2l4.7 -3.1M160.6 578.9l9.1 -7.6M99.9 581.7l7 -5.8M199.8 562l8.8 -8M31.6 561.4l10.8 1.9M99.8 628.5l5.2 -4.1M84 556.5l9.8 -3.9M126.3 556.9l5.4 -4.2M177.9 568.3l4.6 -3.6M94.6 563.8l3.6 -2.1M177.7 499.4l3.2 -4.8M58.7 485.8l7 0.4M200.4 525.7l6.1 -4M74 545l4.5 -0.4M174.2 519.4l5.1 -4.5M127.5 598.6l5.5 -5M24.4 535.6l8 3.2M117.1 532.3l8 -5.7M96.7 489.3l7.5 -3M162.7 559.8l6 -4.2M122.1 557.6l6.1 -4.7M81.7 514.4l4.7 -0.3M184.9 622l2.5 -7.8M107.6 497l7.2 -4.7M182.8 573.3l5.4 -4.9M91.2 527.7l10.1 -2.9M115.8 602.1l3.4 -3.1M165.1 583l3.8 -3.6M110 579.8l8.9 -7.5M159.1 633.3l5.1 -7.2M120.4 626l6.4 -5M124 521.9l3.3 -2.8M133.2 554.7l7.6 -5.9M37.2 538.9l6.2 2.3M163.1 525.5l4 -3.6M154.7 523.5l5.8 -5.9M75.3 532.5l4.5 -0.1M136.6 622.5l7.8 -7.2M161.2 609.7l6 -7.7M91.7 589.5l5.3 -4.6M156.4 623.7l5.7 -7.4M14.3 512l11.5 2.2M62.6 506.3l4.8 0.9M166.3 617.7l4.6 -7.3M171.9 592.2l6.5 -7.5M193.2 556l3.9 -2.9M114.4 629.5l7.7 -5.7M196.4 527.8l4 -2.5M142.2 515.4l6.3 -7.8M145 526.4l7.1 -7.2M171.8 628.1l5.1 -10.6M121.3 598.1l6.3 -5.8M99.2 624.4l7.1 -6M110 520.4l10 -6.5M197.2 616.1l2.4 -11.5M63.4 496.4l11.5 1.2M140.5 623.7l3.7 -3.5M95.7 498.4l4.8 -1.6M120.5 526l6.2 -4.8M200.7 624.7l0.9 -9.3M201.6 502.1l6.4 -6.3M153.4 554.9l4.3 -3.2M23.5 515.4l7.5 2.2M122.6 518.4l4 -3.3M145.7 573.5l6.2 -5M86.3 621.3l5.7 -5.4M134.1 551.3l7.5 -5.9M186.9 524.9l7.4 -5.1M34.4 527.5l8.9 3.5M90.9 512.8l9.8 -2.6M152.8 555.4l4.5 -3.3M35.4 502.7l10.2 2.3M97.1 608.6l3.8 -3.7M81.8 574.6l8.8 -5.2M184.9 510.8l4.2 -4M85.3 553.7l5.4 -1.9M17.5 524.4l4.4 1.4M186.1 562l6.4 -4.9M193.6 614.6l2.1 -8.1M127 499.2l4.2 -5.1M181.6 496.2l2.9 -4.6M145.3 516.5l6.3 -7.8M174.2 582.6l5.2 -5.2M25.8 562l4.3 1M157.8 560.6l4.8 -3.5M120.7 542.4l4.4 -3.2M121.7 546.7l3.6 -2.7M74.9 529.1l6.5 -0M28.5 502.8l6.4 1.1M31.9 524.9l5.1 2M182 586.1l7.6 -9M204.1 588.1l2.7 -5.9M104.8 500.8l9.7 -5.7M10.6 574.6l5.9 0.9M150.5 596.1l7.4 -7.2M199.9 602.7l3.3 -10.4M178.8 589.7l5.2 -6.4M61.4 633.5l5.1 -4.6M46.5 555.5l9.3 1M104.6 553.4l9.8 -6M158 572.7l9.2 -7.1M33.1 548l6.7 2.2M196.8 534.2l6.1 -3.8M151.1 498.4l4.4 -9M122.9 592l5.7 -5.2M179.7 527.2l3.6 -2.6M54.4 508.4l6.8 1.7M133.9 545.8l9.2 -7.4M169 569.8l9.5 -7.2M144.3 555.7l5 -3.9M86 574.1l5.7 -3.6M184.6 628.2l1.2 -4.3M192.4 539.4l5.2 -3.2M160.2 583.8l7.1 -6.3M147.1 493.6l3.3 -7.5M114.6 541.5l5 -3.3M180.1 561.5l9.7 -6.9M154.2 553.4l5.8 -4.2M111.8 631.9l3.8 -2.6M72.3 489.9l9.8 -0.1M137 494.5l4.8 -8.8M95.8 491.4l5.5 -1.9M181.8 602.4l5.8 -10.1M164.9 615.3l4.7 -6.9M194.8 538.1l10 -6.3M155.8 523l3.9 -3.9M21 541.9l8.6 3.3M77.5 554.8l4.7 -1.2M31.5 515.9l9.1 3.1M10.7 513.4l10.8 1.8M85.5 596.3l6.3 -5.7M173.6 615.4l5.1 -9.4M133 619.4l7.9 -7.2M115.5 609.8l3.7 -3.4M9.4 562.2l7.8 2M116.3 580.3l6.9 -6M201 537.4l6.2 -4M85.9 626l7 -6.3M203.7 623.7l0.4 -6.5M118 524.2l5.9 -4.4M12.8 575.3l4.3 0.6M134.7 564.8l7.5 -6M95.9 528.5l4.4 -1.4M166.8 578.5l6.3 -5.5M107.5 516.7l6 -3.3M117 510.8l6 -4.9M141.9 526.1l3.1 -3.1M170.7 581.9l7.4 -6.9M175 516.2l3 -2.8M20.5 535.5l4.6 1.8M38.7 502.7l4.7 1.1M190.8 544l9 -5.6M124.7 629l3.6 -2.7M20.7 513.7l11.3 3.1M102.7 624.4l8.2 -6.8M67.3 540.7l8.1 0.1M37.8 502.6l9.3 2.2M80.9 551.1l4 -1M84.5 599.7l8.3 -7.8M83.1 626.6l3.4 -3.1M75.4 498l10.9 -0.3M117.7 584.2l5.9 -5.3M142.1 556.5l4.9 -3.8M132.7 528.7l7.3 -6.8M170.6 509l6.1 -7.7M157.6 560l8 -5.7M137.4 585.7l3.9 -3.5M175.3 518.9l5.6 -4.9M141.4 604.7l5.1 -4.9M103.8 564.8l4.8 -3.3M44 517.8l9.7 3.3M52.6 494.6l8.7 1.4M160.5 497.3l1.9 -3.7M202.1 515l9.2 -6.9M165.3 547.3l9.6 -6.4M102.5 628.8l9.4 -7.3M121.7 495.8l3.3 -3.4M194.5 594.5l4.3 -8.4M165.7 613.6l3.8 -5.5M104.1 551.7l3.7 -2.2M41.2 500.8l8.3 1.8M57 503.5l10.1 2M121.9 598.1l6.2 -5.7M163 564.2l8.9 -6.4M89.8 525.5l10.7 -2.8M134.6 606.8l5.6 -5.2M169.2 605l6.9 -9.5M176.7 516.8l4.5 -4.1M107.9 547.5l5 -3M39.6 556.8l11.5 1.8M201.7 532.1l6.1 -3.9M162.6 507.2l4.2 -6.1M72.9 486.6l7.3 -0.2M122.3 610.4l6.4 -5.8M136.3 593.1l8.3 -7.5M195.2 609.5l3.3 -11M165.8 610.7l2.4 -3.4M167.7 545.1l9.2 -6M186.4 595.2l2.1 -3.6M63.6 493.7l5.9 0.6M140.4 512.3l5.4 -7M137.8 599.7l7.6 -7.2M85.3 611.5l6.2 -6.2M198.3 561.9l5.1 -4.5M183.1 616.6l3.7 -9.5M86.6 490.8l6 -1.1M75.8 506.9l4.3 0.2M53 519.8l8.1 2.3M85 541.4l4.9 -1.1M123.1 597.1l8.1 -7.5M84.9 561.2l5.5 -2.4M133 583.5l6.3 -5.5M133.7 579l3.5 -3M165.5 623.9l3 -4.7M125.8 632.3l8.9 -6.8M84.8 523.4l11.3 -2M164.2 494.7l3.4 -7.8M184.3 502.3l2.9 -3.5M84.9 563.6l5.4 -2.6M152.3 516l3 -3.6M127.5 532.2l8.6 -7.4M189.3 501.5l6.2 -7.4M126.8 579.4l9 -7.7M87.4 504.6l6.4 -1.1M8.1 580.1l11.2 1.1M76 541.9l11.8 -1.7M26.1 561.4l4 1M174.5 613.4l4.9 -8.9M117.1 632.1l4.9 -3.4M153.7 524.5l6.5 -6.5M195.6 522.1l7.3 -5M85.1 525.1l7.5 -1.2M165.8 583.3l6.5 -6M138.9 588.8l6.9 -6.1M10 509.4l10 1M98.8 503l9 -3.9M74.4 516.1l5.9 0.3M168.4 636l5.4 -10.5M142.7 615.2l5.4 -5.4M48.8 556.9l7.4 0.6M110.3 573.6l7.7 -6.2M17.8 515.7l6.4 1.5M166.6 541.6l8.8 -6M9.8 555.8l10.4 3.1M124.8 560.4l9.1 -7.1M41.5 522.6l4.7 1.8M174.6 564l4.3 -3.1M93.5 605.4l5.4 -5.3M58.5 503.8l4 0.8M32.3 538.3l4.6 1.8M190.4 607.4l2.2 -6M109.6 505.4l4.7 -2.9M159.2 574.7l4.1 -3.3M160.3 543.6l5.5 -3.9M23.8 544.4l6.1 2.3M137.8 507.3l3.8 -5.1M69.6 514.2l10.6 0.9M52.2 489.7l5 0.5M185.4 590.9l5.9 -8.4M90 590.5l4.7 -4.1M179.1 551.5l5.9 -3.8M102 574l8.3 -6.4M19.9 529.4l10.9 4.2M51.9 541.2l6.7 1.5M191.6 551.5l9.9 -6.7M12.5 549.9l8.3 2.8M177.3 524.2l8.4 -6.5M59.9 550.9l8.3 0.1M177.2 608.2l5.5 -9.6M95.1 628.1l5.2 -4.2M48.5 529.6l6.4 2.1M11.8 559.4l8.9 2.5M55.8 502.9l7 1.5M104.4 548.5l7.1 -4.1M67.4 521.2l7.8 1M135.8 557.4l3.8 -3M63 524.4l5.6 1.1M98.3 521.8l5.4 -2M185.3 502.4l5.5 -6.7M139.6 569.6l6.5 -5.2M178.4 516.9l4.2 -3.7M17 557.9l7.5 2.2M124.6 608.3l7.9 -7.2M196.9 508.7l8.2 -7.3M88.3 551.1l3.9 -1.4M145.1 610.3l4.3 -4.4M140.4 612.4l6.5 -6.4M169.9 569.3l5.4 -4.2M193 632.5l1.6 -10.5M151.9 556.9l3.7 -2.7M80.4 603.1l7.6 -7.3M117.4 627.9l9.5 -7.3M67.9 546.5l8.9 -0.5M121.6 562.1l6.8 -5.3M162.6 527.7l4.6 -3.9M165.1 531.4l6.1 -4.8M152.4 628.3l6.1 -7.3M94.6 626.4l7.3 -6.2M154.9 561.2l7.3 -5.3M19.9 513.5l4.8 1.1M181.8 597.1l5.6 -8.6M104.6 502.6l6 -3.2M98.4 544.3l10.3 -5M187.5 557.7l9.6 -6.8M138.6 567.1l6.6 -5.3M109.7 612.7l4.7 -4.2M178 565.8l3.4 -2.6M89.3 600.9l3.6 -3.5M197.2 531.8l4.2 -2.6M114.3 498.3l7.6 -6.5M172.8 613.8l2.5 -4.4M114.4 596.3l8.8 -8.1M169.4 514.9l3.1 -3.2M99.7 533.1l10.1 -4.6M185 591.1l3.2 -4.6M120.8 584.8l8.8 -7.8M66.2 513.2l6 1M193.5 629.4l1.7 -10.8M183.2 526.9l8 -5.5M153.3 491.1l3 -8M157.9 592.3l7.1 -7M177.5 627l3.3 -8.2M146.7 634.1l6.3 -6.6M122.8 508.3l3.5 -3.2M99.8 562.8l6 -3.8M153.4 545.8l9.6 -7.1M100 498.2l9.5 -4.5M72.2 522.6l10.8 0.3M153.7 502.5l4.1 -7.3M68.2 554.3l11.7 -1.9M103 508.6l7.1 -3.5M10.4 501.9l10.7 -0M159.9 527.4l5 -4.4M164.5 585l3.6 -3.4M113.2 523.1l4.8 -3.1M150.4 527.2l4.9 -4.8M129.7 543.2l7.8 -6.3M146.8 578.9l6.3 -5.3M122.8 620.3l9.1 -7.8M178.7 618.7l1.7 -3.8M33.1 540.1l8.6 3.2M35.6 540.5l4.3 1.6M134.2 553.4l7.8 -6.1M194.1 600.1l4 -9.3M108 600.6l4.3 -4.1M8.2 494.5l11.1 -1.6M198.2 606.4l2.2 -7.7M79.1 580.6l5.7 -3.7M157.1 564.7l7.3 -5.3M196.9 614.6l2.4 -10.9M96.6 595.3l4.4 -4.1M114.6 519.7l9.4 -7M79.6 536.4l7.1 -0.9M49.6 530l5.7 1.8M180.6 515.8l6.1 -5.4M158.9 536.1l4.1 -3.2M9 506l12 0.7M80.5 613.3l5 -5M127.4 532.1l7.2 -6.1M106.9 618.7l8.9 -7.8M100.5 508.5l7 -3M146.1 588.3l8.9 -7.9M36.7 529.7l10.5 4M123.2 590.2l3.7 -3.4M202.8 543.4l5.3 -3.7M169.8 570.9l6.8 -5.3M158.9 527.8l6 -5.4M196.2 559.4l7.7 -6.3M174.4 603.6l3.7 -5.6M19.1 513.6l9.7 2.4M161.3 623.8l2.4 -3.4M188.3 590.4l5.7 -8.6M153.7 613.9l7.5 -8.8M92.1 537.2l10.6 -3.7M181.4 501.9l6.3 -8.5M141.5 598.6l4.2 -4M62.8 552l5.4 -0.1M105.3 629.1l5.6 -4.2M101 622.5l7.8 -6.7M96.4 495.3l8.7 -3.4M196.2 566.1l3.4 -3.2M28.4 493.3l9.8 0.5M50.7 563.1l11.7 -0.6M88.4 486.1l8.4 -2.1M205.1 599.8l1 -3.9M93.8 542.6l9.5 -3.8M168.3 563.1l9.2 -6.5M145.9 512.8l6.2 -8.5M16.2 558.1l8.9 2.6M89 607.7l6.2 -6.2M201.8 588l3 -6M38 557.2l5.5 1.1M27.9 504.9l7 1.4M130.5 597.3l5.4 -5M200.7 567l5.7 -6M166.3 537.7l7.8 -5.5M41.6 499.8l6.2 1.3M97.8 530.9l4.8 -1.8M106.2 589.2l4.2 -3.8M120 511.6l6.7 -5.9M188.2 500.9l6.4 -7.8M198.2 586l5.1 -8.4M122.7 611l8.8 -7.9M154.9 554.6l8 -5.7M189.9 501.2l5.1 -5.9M62.1 561.8l6.7 -1M149.6 556.4l7.6 -5.6M133.4 551.2l3.8 -3M79.1 531.8l7.6 -0.7M120.2 515.5l7.8 -6.9M54.6 543.4l5 0.9M130.6 610.9l3.4 -3.1M139.8 521.8l6.6 -7.1M117.3 549.9l8.9 -6.4M193.2 509.6l6.9 -6.1M171.5 557.7l7.3 -4.9M171 607.4l3.6 -5.5M91.4 593.5l3.6 -3.3M48.7 496.3l6 1.1M201.6 544.3l5.4 -3.7M62.6 511.3l4.6 0.9M116.5 603.7l8 -7.4M128.7 508.9l4.2 -4.6M93.6 565l6.3 -3.8M173.7 496.3l4.2 -7.8M152 505.5l3.2 -5M135.8 536.4l9 -7.9M137.5 602.5l8.1 -7.7M40.8 491.6l10.8 1.2M133.2 523.8l6 -5.9M167.7 517.3l7 -7.3M197.5 565.8l3.1 -3M70.8 503l7.8 0.6M179.5 527.1l9.1 -6.5M120.7 612.4l4.4 -3.9M158.4 531.6l6.2 -5.2M114.6 525.2l9 -6.4M149.4 521.8l4.9 -5.2M136.3 562.5l3.5 -2.8M198.5 635.3l0.7 -8.6M107.9 555.5l7.6 -5M94.6 530.2l7.8 -2.6M66 540.7l11.4 0.1M121.1 577.1l6.9 -5.8M24.1 526.4l5.2 1.9M66.4 500.4l10.6 1M28.1 518.4l7.6 2.6M54.2 506.1l5 1.2M111.4 537.6l6.4 -4M179 595.2l6.2 -8.5M175.7 502.2l3.3 -4.6M154.6 560.4l9.6 -6.9M40.5 546.6l7.7 2.1M79.7 608.5l6.3 -6.2M177.8 563.6l8.7 -6.3M109.4 501.4l8 -5.5M130.7 531.1l7.9 -7M7.8 578.8l11.3 1.2M192.9 502.4l5.9 -6.4M120.7 600.7l7.2 -6.7M188.1 534.3l8 -4.9M96.8 525.6l5.4 -1.9M80.7 545.8l10 -2.4M51.9 538.8l9.4 2.1M108.3 622.4l3.8 -3.1M180.7 494l5.5 -10.3M153.3 613.4l4.7 -5.5M80.6 605.5l4.6 -4.5M40.2 508.9l10.1 3.1M90.4 609.2l5 -5M187.8 620.5l2.5 -8.7M131 571.8l4.4 -3.6M108.1 582.4l8.6 -7.4M122.2 527l6.3 -5.1M152.7 492.9l3.4 -8.4M23.7 538.7l8.1 3.2M197.4 490.5l4.5 -6.5M187.6 600.5l2.5 -4.9M98.9 547.3l9 -4.5M93 500.4l4 -1M118.2 568.2l8.2 -6.5M180.6 520.7l8.2 -6.5M19.3 527.9l6.1 2.2M105 504.7l8.7 -4.9M16.9 515.6l10.3 2.6M26.8 529.1l6 2.4M36.6 534.2l9.8 3.7M196.9 599.7l3.1 -8M112.7 616.9l7.5 -6.5M49.7 558.6l11.6 0.2M178 623.9l4 -9.7M106.9 523.1l7.3 -4M81.5 532.5l8.5 -1.2M137.2 599.7l3.1 -2.9M166.2 601.5l3.2 -4M12.1 611.2l5 -1.1M87.4 509.3l8 -1.4M82.9 563.2l9.8 -4.5M19.3 488.1l8.9 -1.2M186 511l8.6 -8.2M159.6 605.6l4.7 -5.6M129.9 527.4l4.3 -3.8M163.4 555.4l9.9 -6.6M151.6 547.3l6.9 -5.1M83.3 616.1l3 -3M126.6 526.8l4.8 -4.1M195.8 590.4l1.9 -3.6M148.5 597.1l3.9 -3.8M204.8 574.8l3.1 -4.5M132.2 559.5l9.3 -7.3M162 547.2l9.6 -6.6M86.7 509.2l6 -0.9M148.7 538.4l8.9 -7.4M116.2 582l3.5 -3.1M67.9 532.7l8.3 0.5M158.9 585.5l4.5 -4.1M154.1 499.1l4.7 -9.6M172.2 572l4 -3.2M179.8 500.3l4.6 -6.6M29 519.4l9.4 3.4M191.1 490.6l5.6 -9.3M121.2 536.7l5.2 -3.9M27.7 522l9.2 3.5M197 570.3l3.8 -4.1M77.3 547.6l4.9 -0.9M74.6 561.3l5.9 -1.8M10.8 564.1l8.7 2.1M70.5 554.6l4.2 -0.7M52.4 615l11.9 -2.2M45.1 608l7.7 -0.1M44.7 579.5l13.6 -6.2M44.7 598.4l8.1 -1.5M46 582.5l6.4 -2.1M57.1 626.3l14.1 -2.8M47.9 596.8l8.5 -0M63.4 603.6l15.1 -5.2M48.4 584.2l6.8 -1.2M67.9 618.4l9.7 -2.5M34.3 569.6l14 -5.5M20.2 593.8l6.8 0.1M63.2 615.7l5.9 -2.8M24 609l14.5 0.2M60.3 574.9l9.5 -3.2M55.3 586.2l8.1 -2.6M68.7 596.1l14.9 -0.3M37.5 585.7l7.2 -0.1M35.3 627.1l11.4 -1.1M20.1 571.1l11.9 -4.6M47.6 602.2l9.7 -1.3M42.3 601.3l6.6 -1.5M35.5 594.3l10.5 -2.7M64.2 591.5l8.1 -0.7M44.9 571l9.3 0.7M14 588.7l11.1 0.4M49.8 615.2l8.8 -2.4M65.6 581.3l8.9 -4M19 572.4l14.1 -3.7M64.8 567.7l11.2 0.6M50.8 597.4l7.7 -1.3M47.2 622.2l8.9 -3M24.4 600.4l6.6 -3M63.3 583.8l7.4 -3.1M49.9 619.1l9.6 -0.7M61.4 612.7l13.1 -0.3M64.6 615.9l6.7 -3.2M39.5 574.7l10.2 -1.7M17.5 566.5l12.2 -0.2M49.9 581.2l7.7 -0.3M48.5 618.3l6.9 -0.8M41.7 582.2l6.6 -2.6M41.9 619.2l13.5 -5.1M31.1 602.2l7.8 -0.7M62.7 618l14.8 -5.6M24.4 616.4l14.2 -1.1M39 590.5l10.1 -4.7M27.2 623l15.7 1.3M74.7 602.3l5.8 -1.8M55.9 621.8l5.9 -1.6M12.9 593.3l14.3 -6.4M32.4 613.2l9.7 -4.5M29.9 600.8l10.5 -2.2M73.3 626.7l10.4 -2.3M17 584.3l8.3 -3.7M17.8 611.4l5.9 -2.5M38 579l11.9 -0.8M62.8 583.3l6 -1.8M55.4 575l8.3 -3.7M52.7 579.2l7 -3M67.9 612.8l7.9 0.4M55.4 586.3l14.6 -0.7M23.5 612.5l8 -1.7M74.5 619l6.4 -0.8M69.8 610.6l11.8 -4M57.9 592.6l12.7 0.2M35.8 567.4l10.8 0.4M19.3 572.1l15 -1.2M15.6 573.2l8.4 -0.6" fill="none" stroke="#8c8c8c" stroke-width="0.6" stroke-linecap="round" filter="url(#soft)"/>
<path d="M165.1 569.7m-1.2 0a1.2 1.2 0 1 0 2.4 0a1.2 1.2 0 1 0-2.4 0M113.4 529.9m-1.2 0a1.2 1.2 0 1 0 2.4 0a1.2 1.2 0 1 0-2.4 0M104 548.2m-1.2 0a1.2 1.2 0 1 0 2.4 0a1.2 1.2 0 1 0-2.4 0M189.8 527.6m-1.2 0a1.2 1.2 0 1 0 2.4 0a1.2 1.2 0 1 0-2.4 0M159.3 621.1m-1.2 0a1.2 1.2 0 1 0 2.4 0a1.2 1.2 0 1 0-2.4 0M128.8 517.1m-1.2 0a1.2 1.2 0 1 0 2.4 0a1.2 1.2 0 1 0-2.4 0M170.3 623.3m-1.2 0a1.2 1.2 0 1 0 2.4 0a1.2 1.2 0 1 0-2.4 0M18.7 594.4m-1.2 0a1.2 1.2 0 1 0 2.4 0a1.2 1.2 0 1 0-2.4 0M22.6 557.3m-1.2 0a1.2 1.2 0 1 0 2.4 0a1.2 1.2 0 1 0-2.4 0M173 593.1m-1.2 0a1.2 1.2 0 1 0 2.4 0a1.2 1.2 0 1 0-2.4 0M101.8 535.4m-1.2 0a1.2 1.2 0 1 0 2.4 0a1.2 1.2 0 1 0-2.4 0M165.2 544.1m-1.2 0a1.2 1.2 0 1 0 2.4 0a1.2 1.2 0 1 0-2.4 0M92.7 524.1m-1.2 0a1.2 1.2 0 1 0 2.4 0a1.2 1.2 0 1 0-2.4 0M18.5 505.6m-1.2 0a1.2 1.2 0 1 0 2.4 0a1.2 1.2 0 1 0-2.4 0M163.1 574.5m-1.2 0a1.2 1.2 0 1 0 2.4 0a1.2 1.2 0 1 0-2.4 0M121.9 502.3m-1.2 0a1.2 1.2 0 1 0 2.4 0a1.2 1.2 0 1 0-2.4 0M168.9 501.7m-1.2 0a1.2 1.2 0 1 0 2.4 0a1.2 1.2 0 1 0-2.4 0M109.4 601.9m-1.2 0a1.2 1.2 0 1 0 2.4 0a1.2 1.2 0 1 0-2.4 0M37 510.3m-1.2 0a1.2 1.2 0 1 0 2.4 0a1.2 1.2 0 1 0-2.4 0M42.7 579.3m-1.2 0a1.2 1.2 0 1 0 2.4 0a1.2 1.2 0 1 0-2.4 0M99.6 598.9m-1.2 0a1.2 1.2 0 1 0 2.4 0a1.2 1.2 0 1 0-2.4 0M174.7 576.9m-1.2 0a1.2 1.2 0 1 0 2.4 0a1.2 1.2 0 1 0-2.4 0M82 500.9m-1.2 0a1.2 1.2 0 1 0 2.4 0a1.2 1.2 0 1 0-2.4 0M69.8 508.4m-1.2 0a1.2 1.2 0 1 0 2.4 0a1.2 1.2 0 1 0-2.4 0M42 546.6m-1.2 0a1.2 1.2 0 1 0 2.4 0a1.2 1.2 0 1 0-2.4 0M118.6 511m-1.2 0a1.2 1.2 0 1 0 2.4 0a1.2 1.2 0 1 0-2.4 0M170 613.4m-1.2 0a1.2 1.2 0 1 0 2.4 0a1.2 1.2 0 1 0-2.4 0M127.8 615.8m-1.2 0a1.2 1.2 0 1 0 2.4 0a1.2 1.2 0 1 0-2.4 0M38.3 519m-1.2 0a1.2 1.2 0 1 0 2.4 0a1.2 1.2 0 1 0-2.4 0M71.2 616.8m-1.2 0a1.2 1.2 0 1 0 2.4 0a1.2 1.2 0 1 0-2.4 0M39.4 501.9m-1.2 0a1.2 1.2 0 1 0 2.4 0a1.2 1.2 0 1 0-2.4 0M97.6 510.8m-1.2 0a1.2 1.2 0 1 0 2.4 0a1.2 1.2 0 1 0-2.4 0M30.7 590.4m-1.2 0a1.2 1.2 0 1 0 2.4 0a1.2 1.2 0 1 0-2.4 0M49.4 619.2m-1.2 0a1.2 1.2 0 1 0 2.4 0a1.2 1.2 0 1 0-2.4 0M71.1 509.9m-1.2 0a1.2 1.2 0 1 0 2.4 0a1.2 1.2 0 1 0-2.4 0" fill="#ebebeb"/>
</g>
<polyline points="18.2,425.4 79.3,425.4 79.3,487.5" fill="none" stroke="#000" stroke-width="1.4"/>
<rect x="175.3" y="480.5" width="20.8" height="2.6" fill="#000"/>
<text x="23" y="368.3" font-size="17.4" font-weight="bold" text-anchor="start" fill="#000" >iPSC-ITGA6+ cells</text>
<polyline points="18.2,565.2 79.3,565.2 79.3,627.0" fill="none" stroke="#000" stroke-width="1.4"/>
<rect x="175.3" y="620.0" width="20.8" height="2.6" fill="#000"/>
<text x="23" y="508.1" font-size="17.4" font-weight="bold" text-anchor="start" fill="#000" >iPSC-ITGA6- cells</text>
<text x="210.5" y="346.3" font-size="27.5" font-weight="bold" text-anchor="start" fill="#000" >c</text>
<line x1="475.6" y1="346.8" x2="475.6" y2="637.9" stroke="#f2f2f2" stroke-width="0.5" />
<line x1="529.75" y1="346.8" x2="529.75" y2="637.9" stroke="#f2f2f2" stroke-width="0.5" />
<line x1="583.9" y1="346.8" x2="583.9" y2="637.9" stroke="#f2f2f2" stroke-width="0.5" />
<line x1="448.52" y1="346.8" x2="448.52" y2="637.9" stroke="#e6e6e6" stroke-width="0.9" />
<line x1="502.67" y1="346.8" x2="502.67" y2="637.9" stroke="#e6e6e6" stroke-width="0.9" />
<line x1="556.83" y1="346.8" x2="556.83" y2="637.9" stroke="#e6e6e6" stroke-width="0.9" />
<line x1="610.98" y1="346.8" x2="610.98" y2="637.9" stroke="#e6e6e6" stroke-width="0.9" />
<line x1="440.4" y1="352.58" x2="619.1" y2="352.58" stroke="#e6e6e6" stroke-width="0.9" />
<line x1="440.4" y1="362.22" x2="619.1" y2="362.22" stroke="#e6e6e6" stroke-width="0.9" />
<line x1="440.4" y1="371.86" x2="619.1" y2="371.86" stroke="#e6e6e6" stroke-width="0.9" />
<line x1="440.4" y1="381.5" x2="619.1" y2="381.5" stroke="#e6e6e6" stroke-width="0.9" />
<line x1="440.4" y1="391.14" x2="619.1" y2="391.14" stroke="#e6e6e6" stroke-width="0.9" />
<line x1="440.4" y1="400.78" x2="619.1" y2="400.78" stroke="#e6e6e6" stroke-width="0.9" />
<line x1="440.4" y1="410.42" x2="619.1" y2="410.42" stroke="#e6e6e6" stroke-width="0.9" />
<line x1="440.4" y1="420.06" x2="619.1" y2="420.06" stroke="#e6e6e6" stroke-width="0.9" />
<line x1="440.4" y1="429.7" x2="619.1" y2="429.7" stroke="#e6e6e6" stroke-width="0.9" />
<line x1="440.4" y1="439.34" x2="619.1" y2="439.34" stroke="#e6e6e6" stroke-width="0.9" />
<line x1="440.4" y1="448.97" x2="619.1" y2="448.97" stroke="#e6e6e6" stroke-width="0.9" />
<line x1="440.4" y1="458.61" x2="619.1" y2="458.61" stroke="#e6e6e6" stroke-width="0.9" />
<line x1="440.4" y1="468.25" x2="619.1" y2="468.25" stroke="#e6e6e6" stroke-width="0.9" />
<line x1="440.4" y1="477.89" x2="619.1" y2="477.89" stroke="#e6e6e6" stroke-width="0.9" />
<line x1="440.4" y1="487.53" x2="619.1" y2="487.53" stroke="#e6e6e6" stroke-width="0.9" />
<line x1="440.4" y1="497.17" x2="619.1" y2="497.17" stroke="#e6e6e6" stroke-width="0.9" />
<line x1="440.4" y1="506.81" x2="619.1" y2="506.81" stroke="#e6e6e6" stroke-width="0.9" />
<line x1="440.4" y1="516.45" x2="619.1" y2="516.45" stroke="#e6e6e6" stroke-width="0.9" />
<line x1="440.4" y1="526.09" x2="619.1" y2="526.09" stroke="#e6e6e6" stroke-width="0.9" />
<line x1="440.4" y1="535.73" x2="619.1" y2="535.73" stroke="#e6e6e6" stroke-width="0.9" />
<line x1="440.4" y1="545.36" x2="619.1" y2="545.36" stroke="#e6e6e6" stroke-width="0.9" />
<line x1="440.4" y1="555" x2="619.1" y2="555" stroke="#e6e6e6" stroke-width="0.9" />
<line x1="440.4" y1="564.64" x2="619.1" y2="564.64" stroke="#e6e6e6" stroke-width="0.9" />
<line x1="440.4" y1="574.28" x2="619.1" y2="574.28" stroke="#e6e6e6" stroke-width="0.9" />
<line x1="440.4" y1="583.92" x2="619.1" y2="583.92" stroke="#e6e6e6" stroke-width="0.9" />
<line x1="440.4" y1="593.56" x2="619.1" y2="593.56" stroke="#e6e6e6" stroke-width="0.9" />
<line x1="440.4" y1="603.2" x2="619.1" y2="603.2" stroke="#e6e6e6" stroke-width="0.9" />
<line x1="440.4" y1="612.84" x2="619.1" y2="612.84" stroke="#e6e6e6" stroke-width="0.9" />
<line x1="440.4" y1="622.48" x2="619.1" y2="622.48" stroke="#e6e6e6" stroke-width="0.9" />
<line x1="440.4" y1="632.12" x2="619.1" y2="632.12" stroke="#e6e6e6" stroke-width="0.9" />
<rect x="448.52" y="348.25" width="162.45" height="8.68" fill="#ff2212"/>
<line x1="437.6" y1="352.58" x2="440.4" y2="352.58" stroke="#333" stroke-width="0.9" />
<text x="435.4" y="355.48" font-size="8.35" font-weight="normal" text-anchor="end" fill="#1a1a1a" >cell-cell adhesion</text>
<rect x="448.52" y="357.88" width="54.15" height="8.68" fill="#f82028"/>
<line x1="437.6" y1="362.22" x2="440.4" y2="362.22" stroke="#333" stroke-width="0.9" />
<text x="435.4" y="365.12" font-size="8.35" font-weight="normal" text-anchor="end" fill="#1a1a1a" >insulin like growth factor receptor signaling pathway</text>
<rect x="448.52" y="367.52" width="64.98" height="8.68" fill="#f5202a"/>
<line x1="437.6" y1="371.86" x2="440.4" y2="371.86" stroke="#333" stroke-width="0.9" />
<text x="435.4" y="374.76" font-size="8.35" font-weight="normal" text-anchor="end" fill="#1a1a1a" >regulation of transforming growth factor beta production</text>
<rect x="448.52" y="377.16" width="64.98" height="8.68" fill="#f5202a"/>
<line x1="437.6" y1="381.5" x2="440.4" y2="381.5" stroke="#333" stroke-width="0.9" />
<text x="435.4" y="384.4" font-size="8.35" font-weight="normal" text-anchor="end" fill="#1a1a1a" >transforming growth factor beta production</text>
<rect x="448.52" y="386.80" width="54.15" height="8.68" fill="#d92468"/>
<line x1="437.6" y1="391.14" x2="440.4" y2="391.14" stroke="#333" stroke-width="0.9" />
<text x="435.4" y="394.04" font-size="8.35" font-weight="normal" text-anchor="end" fill="#1a1a1a" >positive regulation of glial cell differentiation</text>
<rect x="448.52" y="396.44" width="32.49" height="8.68" fill="#d92468"/>
<line x1="437.6" y1="400.78" x2="440.4" y2="400.78" stroke="#333" stroke-width="0.9" />
<text x="435.4" y="403.68" font-size="8.35" font-weight="normal" text-anchor="end" fill="#1a1a1a" >positive regulation of melanin biosynthetic process</text>
<rect x="448.52" y="406.08" width="32.49" height="8.68" fill="#d92468"/>
<line x1="437.6" y1="410.42" x2="440.4" y2="410.42" stroke="#333" stroke-width="0.9" />
<text x="435.4" y="413.32" font-size="8.35" font-weight="normal" text-anchor="end" fill="#1a1a1a" >secondary metabolite biosynthetic process</text>
<rect x="448.52" y="415.72" width="21.66" height="8.68" fill="#d9246a"/>
<line x1="437.6" y1="420.06" x2="440.4" y2="420.06" stroke="#333" stroke-width="0.9" />
<text x="435.4" y="422.96" font-size="8.35" font-weight="normal" text-anchor="end" fill="#1a1a1a" >positive regulation of ovulation</text>
<rect x="448.52" y="425.36" width="64.98" height="8.68" fill="#c128aa"/>
<line x1="437.6" y1="429.7" x2="440.4" y2="429.7" stroke="#333" stroke-width="0.9" />
<text x="435.4" y="432.6" font-size="8.35" font-weight="normal" text-anchor="end" fill="#1a1a1a" >regulation of glial cell differentiation</text>
<rect x="448.52" y="435.00" width="54.15" height="8.68" fill="#c128aa"/>
<line x1="437.6" y1="439.34" x2="440.4" y2="439.34" stroke="#333" stroke-width="0.9" />
<text x="435.4" y="442.24" font-size="8.35" font-weight="normal" text-anchor="end" fill="#1a1a1a" >cellular pigmentation</text>
<rect x="448.52" y="444.64" width="151.62" height="8.68" fill="#c128aa"/>
<line x1="437.6" y1="448.97" x2="440.4" y2="448.97" stroke="#333" stroke-width="0.9" />
<text x="435.4" y="451.87" font-size="8.35" font-weight="normal" text-anchor="end" fill="#1a1a1a" >muscle tissue development</text>
<rect x="448.52" y="454.28" width="21.66" height="8.68" fill="#c128aa"/>
<line x1="437.6" y1="458.61" x2="440.4" y2="458.61" stroke="#333" stroke-width="0.9" />
<text x="435.4" y="461.51" font-size="8.35" font-weight="normal" text-anchor="end" fill="#1a1a1a" >catagen</text>
<rect x="448.52" y="463.91" width="21.66" height="8.68" fill="#c128aa"/>
<line x1="437.6" y1="468.25" x2="440.4" y2="468.25" stroke="#333" stroke-width="0.9" />
<text x="435.4" y="471.15" font-size="8.35" font-weight="normal" text-anchor="end" fill="#1a1a1a" >negative regulation of follicle stimulating hormone secretion</text>
<rect x="448.52" y="473.55" width="21.66" height="8.68" fill="#c128aa"/>
<line x1="437.6" y1="477.89" x2="440.4" y2="477.89" stroke="#333" stroke-width="0.9" />
<text x="435.4" y="480.79" font-size="8.35" font-weight="normal" text-anchor="end" fill="#1a1a1a" >regulation of timing of catagen</text>
<rect x="448.52" y="483.19" width="54.15" height="8.68" fill="#c128aa"/>
<line x1="437.6" y1="487.53" x2="440.4" y2="487.53" stroke="#333" stroke-width="0.9" />
<text x="435.4" y="490.43" font-size="8.35" font-weight="normal" text-anchor="end" fill="#1a1a1a" >endocrine hormone secretion</text>
<rect x="448.52" y="492.83" width="32.49" height="8.68" fill="#b82abe"/>
<line x1="437.6" y1="497.17" x2="440.4" y2="497.17" stroke="#333" stroke-width="0.9" />
<text x="435.4" y="500.07" font-size="8.35" font-weight="normal" text-anchor="end" fill="#1a1a1a" >regulation of plasminogen activation</text>
<rect x="448.52" y="502.47" width="108.30" height="8.68" fill="#b82abe"/>
<line x1="437.6" y1="506.81" x2="440.4" y2="506.81" stroke="#333" stroke-width="0.9" />
<text x="435.4" y="509.71" font-size="8.35" font-weight="normal" text-anchor="end" fill="#1a1a1a" >organic hydroxy compound biosynthetic process</text>
<rect x="448.52" y="512.11" width="54.15" height="8.68" fill="#b82abe"/>
<line x1="437.6" y1="516.45" x2="440.4" y2="516.45" stroke="#333" stroke-width="0.9" />
<text x="435.4" y="519.35" font-size="8.35" font-weight="normal" text-anchor="end" fill="#1a1a1a" >cardiac muscle cell proliferation</text>
<rect x="448.52" y="521.75" width="64.98" height="8.68" fill="#b82abe"/>
<line x1="437.6" y1="526.09" x2="440.4" y2="526.09" stroke="#333" stroke-width="0.9" />
<text x="435.4" y="528.99" font-size="8.35" font-weight="normal" text-anchor="end" fill="#1a1a1a" >roof of mouth development</text>
<rect x="448.52" y="531.39" width="64.98" height="8.68" fill="#b82abe"/>
<line x1="437.6" y1="535.73" x2="440.4" y2="535.73" stroke="#333" stroke-width="0.9" />
<text x="435.4" y="538.63" font-size="8.35" font-weight="normal" text-anchor="end" fill="#1a1a1a" >positive regulation of neuron differentiation</text>
<rect x="448.52" y="541.03" width="75.81" height="8.68" fill="#b82abe"/>
<line x1="437.6" y1="545.36" x2="440.4" y2="545.36" stroke="#333" stroke-width="0.9" />
<text x="435.4" y="548.26" font-size="8.35" font-weight="normal" text-anchor="end" fill="#1a1a1a" >odontogenesis</text>
<rect x="448.52" y="550.67" width="21.66" height="8.68" fill="#bb2ab6"/>
<line x1="437.6" y1="555" x2="440.4" y2="555" stroke="#333" stroke-width="0.9" />
<text x="435.4" y="557.9" font-size="8.35" font-weight="normal" text-anchor="end" fill="#1a1a1a" >negative regulation of aldosterone metabolic process</text>
<rect x="448.52" y="560.31" width="21.66" height="8.68" fill="#bb2ab6"/>
<line x1="437.6" y1="564.64" x2="440.4" y2="564.64" stroke="#333" stroke-width="0.9" />
<text x="435.4" y="567.54" font-size="8.35" font-weight="normal" text-anchor="end" fill="#1a1a1a" >negative regulation of aldosterone biosynthetic process</text>
<rect x="448.52" y="569.94" width="21.66" height="8.68" fill="#bb2ab6"/>
<line x1="437.6" y1="574.28" x2="440.4" y2="574.28" stroke="#333" stroke-width="0.9" />
<text x="435.4" y="577.18" font-size="8.35" font-weight="normal" text-anchor="end" fill="#1a1a1a" >negative regulation of cortisol biosynthetic process</text>
<rect x="448.52" y="579.58" width="64.98" height="8.68" fill="#ae24d2"/>
<line x1="437.6" y1="583.92" x2="440.4" y2="583.92" stroke="#333" stroke-width="0.9" />
<text x="435.4" y="586.82" font-size="8.35" font-weight="normal" text-anchor="end" fill="#1a1a1a" >kidney morphogenesis</text>
<rect x="448.52" y="589.22" width="43.32" height="8.68" fill="#a01cf2"/>
<line x1="437.6" y1="593.56" x2="440.4" y2="593.56" stroke="#333" stroke-width="0.9" />
<text x="435.4" y="596.46" font-size="8.35" font-weight="normal" text-anchor="end" fill="#1a1a1a" >regulation of endocrine process</text>
<rect x="448.52" y="598.86" width="97.47" height="8.68" fill="#a01cf2"/>
<line x1="437.6" y1="603.2" x2="440.4" y2="603.2" stroke="#333" stroke-width="0.9" />
<text x="435.4" y="606.1" font-size="8.35" font-weight="normal" text-anchor="end" fill="#1a1a1a" >multi-multicellular organism process</text>
<rect x="448.52" y="608.50" width="43.32" height="8.68" fill="#a01cf2"/>
<line x1="437.6" y1="612.84" x2="440.4" y2="612.84" stroke="#333" stroke-width="0.9" />
<text x="435.4" y="615.74" font-size="8.35" font-weight="normal" text-anchor="end" fill="#1a1a1a" >lung alveolar development</text>
<rect x="448.52" y="618.14" width="21.66" height="8.68" fill="#a01cf2"/>
<line x1="437.6" y1="622.48" x2="440.4" y2="622.48" stroke="#333" stroke-width="0.9" />
<text x="435.4" y="625.38" font-size="8.35" font-weight="normal" text-anchor="end" fill="#1a1a1a" >bronchiole development</text>
<rect x="448.52" y="627.78" width="119.13" height="8.68" fill="#1410ff"/>
<line x1="437.6" y1="632.12" x2="440.4" y2="632.12" stroke="#333" stroke-width="0.9" />
<text x="435.4" y="635.02" font-size="8.35" font-weight="normal" text-anchor="end" fill="#1a1a1a" >muscle organ development</text>
<rect x="440.4" y="346.8" width="178.70" height="291.10" fill="none" stroke="#c4c4c4" stroke-width="1"/>
<line x1="448.52" y1="637.9" x2="448.52" y2="640.7" stroke="#333" stroke-width="0.9" />
<text x="448.52" y="648.4" font-size="8.35" font-weight="normal" text-anchor="middle" fill="#3a3a3a" >0</text>
<line x1="502.67" y1="637.9" x2="502.67" y2="640.7" stroke="#333" stroke-width="0.9" />
<text x="502.67" y="648.4" font-size="8.35" font-weight="normal" text-anchor="middle" fill="#3a3a3a" >5</text>
<line x1="556.83" y1="637.9" x2="556.83" y2="640.7" stroke="#333" stroke-width="0.9" />
<text x="556.83" y="648.4" font-size="8.35" font-weight="normal" text-anchor="middle" fill="#3a3a3a" >10</text>
<line x1="610.98" y1="637.9" x2="610.98" y2="640.7" stroke="#333" stroke-width="0.9" />
<text x="610.98" y="648.4" font-size="8.35" font-weight="normal" text-anchor="middle" fill="#3a3a3a" >15</text>
<text x="538.7" y="658" font-size="12.2" font-weight="bold" text-anchor="middle" fill="#000" >Counts</text>
<text x="631" y="353.5" font-size="11" font-weight="normal" text-anchor="start" fill="#222" >p.adjust</text>
<defs><linearGradient id="padj" x1="0" y1="0" x2="0" y2="1">
<stop offset="0" stop-color="#ff1c1c"/><stop offset="0.25" stop-color="#ea2048"/><stop offset="0.5" stop-color="#ce2890"/>
<stop offset="0.72" stop-color="#ae2cd8"/><stop offset="0.85" stop-color="#9a20ff"/><stop offset="1" stop-color="#1c10ff"/></linearGradient></defs>
<rect x="630.8" y="359.2" width="16.1" height="82.5" fill="url(#padj)"/>
<line x1="630.8" y1="376.6" x2="633.8" y2="376.6" stroke="#fff" stroke-width="0.8" />
<line x1="643.9" y1="376.6" x2="646.9" y2="376.6" stroke="#fff" stroke-width="0.8" />
<text x="652.5" y="379.6" font-size="8.4" font-weight="normal" text-anchor="start" fill="#3a3a3a" >0.025</text>
<line x1="630.8" y1="395.5" x2="633.8" y2="395.5" stroke="#fff" stroke-width="0.8" />
<line x1="643.9" y1="395.5" x2="646.9" y2="395.5" stroke="#fff" stroke-width="0.8" />
<text x="652.5" y="398.5" font-size="8.4" font-weight="normal" text-anchor="start" fill="#3a3a3a" >0.050</text>
<line x1="630.8" y1="414.5" x2="633.8" y2="414.5" stroke="#fff" stroke-width="0.8" />
<line x1="643.9" y1="414.5" x2="646.9" y2="414.5" stroke="#fff" stroke-width="0.8" />
<text x="652.5" y="417.5" font-size="8.4" font-weight="normal" text-anchor="start" fill="#3a3a3a" >0.075</text>
<line x1="630.8" y1="433.2" x2="633.8" y2="433.2" stroke="#fff" stroke-width="0.8" />
<line x1="643.9" y1="433.2" x2="646.9" y2="433.2" stroke="#fff" stroke-width="0.8" />
<text x="652.5" y="436.2" font-size="8.4" font-weight="normal" text-anchor="start" fill="#3a3a3a" >0.100</text>
<text x="-0.8" y="678.8" font-size="27" font-weight="bold" text-anchor="start" fill="#000" >d</text>
<path d="M202.3,682.4 C193.8,756.4 243.0,802.1 311.5,783.8" fill="none" stroke="#f8766d" stroke-width="0.8" stroke-opacity="0.9"/>
<path d="M202.3,682.4 C192.9,764.5 237.1,816.8 315.5,816.5" fill="none" stroke="#f8766d" stroke-width="0.8" stroke-opacity="0.9"/>
<path d="M202.3,682.4 C192.0,772.6 228.2,827.5 312.0,848.8" fill="none" stroke="#f8766d" stroke-width="0.8" stroke-opacity="0.9"/>
<path d="M202.3,682.4 C191.1,780.7 217.6,834.0 300.6,879.8" fill="none" stroke="#f8766d" stroke-width="0.8" stroke-opacity="0.9"/>
<path d="M202.3,682.4 C190.1,788.7 207.1,835.9 283.0,907.0" fill="none" stroke="#f8766d" stroke-width="0.8" stroke-opacity="0.9"/>
<path d="M202.3,682.4 C189.2,796.8 197.8,833.8 259.7,928.8" fill="none" stroke="#f8766d" stroke-width="0.8" stroke-opacity="0.9"/>
<path d="M202.3,682.4 C188.3,804.9 191.0,828.4 232.3,944.0" fill="none" stroke="#f8766d" stroke-width="0.8" stroke-opacity="0.9"/>
<path d="M202.3,682.4 C187.4,813.0 187.3,821.1 201.9,952.2" fill="none" stroke="#f8766d" stroke-width="0.8" stroke-opacity="0.9"/>
<path d="M232.5,689.0 C188.3,813.2 186.4,821.0 171.5,951.6" fill="none" stroke="#a3a500" stroke-width="0.8" stroke-opacity="0.9"/>
<path d="M232.5,689.0 C186.9,817.0 186.9,817.0 141.0,943.8" fill="none" stroke="#a3a500" stroke-width="0.8" stroke-opacity="0.9"/>
<path d="M232.5,689.0 C188.3,813.2 184.7,820.4 113.6,928.9" fill="none" stroke="#a3a500" stroke-width="0.8" stroke-opacity="0.9"/>
<path d="M232.5,689.0 C191.0,805.5 178.2,825.1 90.0,907.0" fill="none" stroke="#a3a500" stroke-width="0.8" stroke-opacity="0.9"/>
<path d="M232.5,689.0 C193.7,797.8 169.8,826.5 72.7,880.0" fill="none" stroke="#a3a500" stroke-width="0.8" stroke-opacity="0.9"/>
<path d="M232.5,689.0 C196.5,790.1 160.6,823.7 61.5,849.0" fill="none" stroke="#a3a500" stroke-width="0.8" stroke-opacity="0.9"/>
<path d="M232.5,689.0 C199.2,782.4 152.2,816.9 58.3,816.7" fill="none" stroke="#a3a500" stroke-width="0.8" stroke-opacity="0.9"/>
<path d="M259.5,703.8 C228.3,752.5 257.9,798.1 311.5,783.8" fill="none" stroke="#00b0f6" stroke-width="0.8" stroke-opacity="0.9"/>
<path d="M259.5,703.8 C219.6,766.1 243.2,831.3 312.0,848.8" fill="none" stroke="#00b0f6" stroke-width="0.8" stroke-opacity="0.9"/>
<path d="M259.5,703.8 C206.5,786.4 153.0,808.1 61.5,784.0" fill="none" stroke="#00b0f6" stroke-width="0.8" stroke-opacity="0.9"/>
<path d="M259.5,703.8 C210.9,779.6 149.1,796.0 72.5,753.5" fill="none" stroke="#00b0f6" stroke-width="0.8" stroke-opacity="0.9"/>
<path d="M259.5,703.8 C215.2,772.9 149.3,781.7 90.6,726.4" fill="none" stroke="#00b0f6" stroke-width="0.8" stroke-opacity="0.9"/>
<path d="M282.8,725.9 C235.8,770.5 250.7,833.2 312.0,848.8" fill="none" stroke="#e76bf3" stroke-width="0.8" stroke-opacity="0.9"/>
<path d="M282.8,725.9 C212.8,792.4 199.2,851.3 232.3,944.0" fill="none" stroke="#e76bf3" stroke-width="0.8" stroke-opacity="0.9"/>
<path d="M282.8,725.9 C201.3,803.3 184.6,837.2 171.5,951.6" fill="none" stroke="#e76bf3" stroke-width="0.8" stroke-opacity="0.9"/>
<path d="M282.8,725.9 C224.3,781.5 158.3,773.2 113.6,704.6" fill="none" stroke="#e76bf3" stroke-width="0.8" stroke-opacity="0.9"/>
<path d="M282.8,725.9 C230.1,776.0 166.2,759.5 141.0,689.3" fill="none" stroke="#e76bf3" stroke-width="0.8" stroke-opacity="0.9"/>
<path d="M282.8,725.9 C235.8,770.5 178.8,748.0 171.0,681.7" fill="none" stroke="#e76bf3" stroke-width="0.8" stroke-opacity="0.9"/>
<path d="M301.0,753.5 C251.9,780.8 258.2,835.1 312.0,848.8" fill="none" stroke="#00bf7d" stroke-width="0.8" stroke-opacity="0.9"/>
<path d="M301.0,753.5 C224.6,796.0 201.9,858.9 232.3,944.0" fill="none" stroke="#00bf7d" stroke-width="0.8" stroke-opacity="0.9"/>
<path d="M301.0,753.5 C210.9,803.7 183.7,845.3 171.5,951.6" fill="none" stroke="#00bf7d" stroke-width="0.8" stroke-opacity="0.9"/>
<path d="M301.0,753.5 C224.6,796.0 162.7,779.9 113.6,704.6" fill="none" stroke="#00bf7d" stroke-width="0.8" stroke-opacity="0.9"/>
<path d="M301.0,753.5 C231.4,792.2 169.0,767.2 141.0,689.3" fill="none" stroke="#00bf7d" stroke-width="0.8" stroke-opacity="0.9"/>
<path d="M301.0,753.5 C238.2,788.4 179.7,756.1 171.0,681.7" fill="none" stroke="#00bf7d" stroke-width="0.8" stroke-opacity="0.9"/>
<circle cx="202.3" cy="682.4" r="5.6" fill="#d8bd8a"/>
<circle cx="232.5" cy="689.0" r="5.2" fill="#d8bd8a"/>
<circle cx="259.5" cy="703.8" r="4.5" fill="#d8bd8a"/>
<circle cx="282.8" cy="725.9" r="5.0" fill="#d8bd8a"/>
<circle cx="301.0" cy="753.5" r="5.0" fill="#d8bd8a"/>
<circle cx="171.0" cy="681.7" r="2.4" fill="#f2c0b4"/>
<circle cx="141.0" cy="689.3" r="2.4" fill="#e88a72"/>
<circle cx="113.6" cy="704.6" r="2.4" fill="#9a6af5"/>
<circle cx="90.6" cy="726.4" r="2.4" fill="#4a22ff"/>
<circle cx="72.5" cy="753.5" r="2.4" fill="#f4cdc2"/>
<circle cx="61.5" cy="784.0" r="2.4" fill="#f2c8bc"/>
<circle cx="58.3" cy="816.7" r="2.4" fill="#eeb0a0"/>
<circle cx="61.5" cy="849.0" r="2.4" fill="#f4dcd4"/>
<circle cx="72.7" cy="880.0" r="2.4" fill="#e5553e"/>
<circle cx="90.0" cy="907.0" r="2.4" fill="#f2d6ce"/>
<circle cx="113.6" cy="928.9" r="2.4" fill="#d6c6fa"/>
<circle cx="141.0" cy="943.8" r="2.4" fill="#dcd0fa"/>
<circle cx="171.5" cy="951.6" r="2.4" fill="#e87058"/>
<circle cx="201.9" cy="952.2" r="2.4" fill="#f0261a"/>
<circle cx="232.3" cy="944.0" r="2.4" fill="#f41c14"/>
<circle cx="259.7" cy="928.8" r="2.4" fill="#cbb6f8"/>
<circle cx="283.0" cy="907.0" r="2.4" fill="#9c64f2"/>
<circle cx="300.6" cy="879.8" r="2.4" fill="#e6defc"/>
<circle cx="312.0" cy="848.8" r="2.4" fill="#b89cf8"/>
<circle cx="315.5" cy="816.5" r="2.4" fill="#f4d2c6"/>
<circle cx="311.5" cy="783.8" r="2.4" fill="#9c70f4"/>
<text x="205.2" y="678.6" font-size="9.1" font-weight="bold" text-anchor="middle" fill="#111" stroke="#fff" stroke-width="3.4" stroke-linejoin="round" paint-order="stroke">acute myocardial infarction</text>
<text x="236.1" y="699.4" font-size="9.1" font-weight="bold" text-anchor="middle" fill="#111" stroke="#fff" stroke-width="3.4" stroke-linejoin="round" paint-order="stroke">astrocytoma</text>
<text x="268.5" y="712.4" font-size="9.1" font-weight="bold" text-anchor="middle" fill="#c21c1c" stroke="#fff" stroke-width="3.4" stroke-linejoin="round" paint-order="stroke">open-angle glaucoma</text>
<text x="278.1" y="734.0" font-size="9.1" font-weight="bold" text-anchor="middle" fill="#111" stroke="#fff" stroke-width="3.4" stroke-linejoin="round" paint-order="stroke">osteoporosis</text>
<text x="243.5" y="756.8" font-size="9.1" font-weight="bold" text-anchor="middle" fill="#111" stroke="#fff" stroke-width="3.4" stroke-linejoin="round" paint-order="stroke">bone resorption disease</text>
<text x="165.6" y="693.2" font-size="9.1" font-weight="bold" text-anchor="middle" fill="#111" stroke="#fff" stroke-width="3.4" stroke-linejoin="round" paint-order="stroke">BMP2</text>
<text x="135.9" y="701.2" font-size="9.1" font-weight="bold" text-anchor="middle" fill="#111" stroke="#fff" stroke-width="3.4" stroke-linejoin="round" paint-order="stroke">POMC</text>
<text x="103.2" y="714.2" font-size="9.1" font-weight="bold" text-anchor="middle" fill="#111" stroke="#fff" stroke-width="3.4" stroke-linejoin="round" paint-order="stroke">CD44</text>
<text x="92.8" y="722.9" font-size="9.1" font-weight="bold" text-anchor="middle" fill="#c21c1c" stroke="#fff" stroke-width="3.4" stroke-linejoin="round" paint-order="stroke">COL8A1</text>
<text x="76.5" y="749.5" font-size="9.1" font-weight="bold" text-anchor="middle" fill="#c21c1c" stroke="#fff" stroke-width="3.4" stroke-linejoin="round" paint-order="stroke">VAV3</text>
<text x="73.1" y="780.5" font-size="9.1" font-weight="bold" text-anchor="middle" fill="#c21c1c" stroke="#fff" stroke-width="3.4" stroke-linejoin="round" paint-order="stroke">TYRP1</text>
<text x="64.5" y="828.5" font-size="9.1" font-weight="bold" text-anchor="middle" fill="#111" stroke="#fff" stroke-width="3.4" stroke-linejoin="round" paint-order="stroke">CD24</text>
<text x="67.0" y="845.1" font-size="9.1" font-weight="bold" text-anchor="middle" fill="#111" stroke="#fff" stroke-width="3.4" stroke-linejoin="round" paint-order="stroke">MBP</text>
<text x="80.2" y="876.4" font-size="9.1" font-weight="bold" text-anchor="middle" fill="#111" stroke="#fff" stroke-width="3.4" stroke-linejoin="round" paint-order="stroke">ERBB4</text>
<text x="88.3" y="902.9" font-size="9.1" font-weight="bold" text-anchor="middle" fill="#111" stroke="#fff" stroke-width="3.4" stroke-linejoin="round" paint-order="stroke">ING1</text>
<text x="119.8" y="924.5" font-size="9.1" font-weight="bold" text-anchor="middle" fill="#111" stroke="#fff" stroke-width="3.4" stroke-linejoin="round" paint-order="stroke">IGFBP4</text>
<text x="137.7" y="955.2" font-size="9.1" font-weight="bold" text-anchor="middle" fill="#111" stroke="#fff" stroke-width="3.4" stroke-linejoin="round" paint-order="stroke">IGFBP2</text>
<text x="166.5" y="948.0" font-size="9.1" font-weight="bold" text-anchor="middle" fill="#111" stroke="#fff" stroke-width="3.4" stroke-linejoin="round" paint-order="stroke">PTN</text>
<text x="199.3" y="949.4" font-size="9.1" font-weight="bold" text-anchor="middle" fill="#111" stroke="#fff" stroke-width="3.4" stroke-linejoin="round" paint-order="stroke">GJA4</text>
<text x="228.4" y="955.8" font-size="9.1" font-weight="bold" text-anchor="middle" fill="#111" stroke="#fff" stroke-width="3.4" stroke-linejoin="round" paint-order="stroke">AHSG</text>
<text x="251.3" y="940.1" font-size="9.1" font-weight="bold" text-anchor="middle" fill="#111" stroke="#fff" stroke-width="3.4" stroke-linejoin="round" paint-order="stroke">F12</text>
<text x="276.6" y="918.1" font-size="9.1" font-weight="bold" text-anchor="middle" fill="#111" stroke="#fff" stroke-width="3.4" stroke-linejoin="round" paint-order="stroke">INHBA</text>
<text x="306.5" y="876.4" font-size="9.1" font-weight="bold" text-anchor="middle" fill="#111" stroke="#fff" stroke-width="3.4" stroke-linejoin="round" paint-order="stroke">FN1</text>
<text x="316.6" y="845.8" font-size="9.1" font-weight="bold" text-anchor="middle" fill="#c21c1c" stroke="#fff" stroke-width="3.4" stroke-linejoin="round" paint-order="stroke">IL1A</text>
<text x="301.0" y="812.4" font-size="9.1" font-weight="bold" text-anchor="middle" fill="#111" stroke="#fff" stroke-width="3.4" stroke-linejoin="round" paint-order="stroke">KRT18</text>
<text x="284.6" y="784.4" font-size="9.1" font-weight="bold" text-anchor="middle" fill="#111" stroke="#fff" stroke-width="3.4" stroke-linejoin="round" paint-order="stroke">SERPINE1</text>
<text x="22" y="752.4" font-size="12.8" font-weight="normal" text-anchor="start" fill="#111" >size</text>
<circle cx="32.1" cy="760.2" r="2.0" fill="#000"/>
<text x="42.6" y="762.3" font-size="6" font-weight="normal" text-anchor="start" fill="#555" >3</text>
<circle cx="32.1" cy="770.4" r="3.4" fill="#000"/>
<text x="42.6" y="772.5" font-size="6" font-weight="normal" text-anchor="start" fill="#555" >4</text>
<circle cx="32.1" cy="780.7" r="4.0" fill="#000"/>
<text x="42.6" y="782.8" font-size="6" font-weight="normal" text-anchor="start" fill="#555" >5</text>
<circle cx="32.1" cy="791.5" r="4.5" fill="#000"/>
<text x="42.6" y="793.6" font-size="6" font-weight="normal" text-anchor="start" fill="#555" >6</text>
<circle cx="32.1" cy="803.1" r="4.9" fill="#000"/>
<text x="42.6" y="805.2" font-size="6" font-weight="normal" text-anchor="start" fill="#555" >7</text>
<circle cx="32.1" cy="816.4" r="5.3" fill="#000"/>
<text x="42.6" y="818.5" font-size="6" font-weight="normal" text-anchor="start" fill="#555" >8</text>
<text x="14.2" y="833.2" font-size="12.8" font-weight="normal" text-anchor="start" fill="#111" >logFC</text>
<defs><linearGradient id="lfc" x1="0" y1="0" x2="0" y2="1">
<stop offset="0" stop-color="#ef3525"/><stop offset="0.28" stop-color="#f3a595"/><stop offset="0.53" stop-color="#ffffff"/>
<stop offset="0.77" stop-color="#b7a2fb"/><stop offset="1" stop-color="#5a32f8"/></linearGradient></defs>
<rect x="25.8" y="836.7" width="10.3" height="50.8" fill="url(#lfc)"/>
<text x="40.3" y="842.6" font-size="6" font-weight="normal" text-anchor="start" fill="#555" >6</text>
<text x="40.3" y="854.2" font-size="6" font-weight="normal" text-anchor="start" fill="#555" >3</text>
<text x="40.3" y="865.8" font-size="6" font-weight="normal" text-anchor="start" fill="#555" >0</text>
<text x="40.3" y="878.3" font-size="6" font-weight="normal" text-anchor="start" fill="#555" >-3</text>
<text x="325.3" y="678.8" font-size="27" font-weight="bold" text-anchor="start" fill="#000" >e</text>
<text x="403.7" y="700.5" font-size="12.3" font-weight="bold" text-anchor="middle" fill="#000" >IL1A</text>
<text x="470" y="700.5" font-size="12.3" font-weight="bold" text-anchor="middle" fill="#000" >SERPINE1</text>
<text x="538.2" y="700.5" font-size="12.3" font-weight="bold" text-anchor="middle" fill="#000" >VAV3</text>
<text x="595.5" y="700.5" font-size="12.3" font-weight="bold" text-anchor="middle" fill="#000" >COL8A1</text>
<text x="658.5" y="700.5" font-size="12.3" font-weight="bold" text-anchor="middle" fill="#000" >TYRP1</text>
<text x="0" y="0" font-size="13" font-weight="bold" text-anchor="middle" fill="#000" transform="translate(362.3,759.5) rotate(-90)">FPKM</text>
<text x="0" y="0" font-size="13" font-weight="bold" text-anchor="middle" fill="#000" transform="translate(361,889) rotate(-90)">mRNA/GAPDH</text>
<rect x="391.4" y="786.75" width="9.6" height="20.95" fill="#fff" stroke="#111" stroke-width="1.3"/>
<line x1="396.2" y1="793.12" x2="396.2" y2="780.37" stroke="#555" stroke-width="0.9" />
<line x1="393.6" y1="780.37" x2="398.8" y2="780.37" stroke="#555" stroke-width="0.9" />
<line x1="393.6" y1="793.12" x2="398.8" y2="793.12" stroke="#555" stroke-width="0.9" />
<circle cx="396.2" cy="781.28" r="2.1" fill="none" stroke="#e2692c" stroke-width="1.1"/>
<circle cx="396.2" cy="792.21" r="2.1" fill="none" stroke="#e2692c" stroke-width="1.1"/>
<rect x="406.5" y="738.46" width="9.6" height="69.24" fill="#fff" stroke="#111" stroke-width="1.3"/>
<line x1="411.3" y1="745.75" x2="411.3" y2="730.26" stroke="#555" stroke-width="0.9" />
<line x1="408.7" y1="730.26" x2="413.9" y2="730.26" stroke="#555" stroke-width="0.9" />
<line x1="408.7" y1="745.75" x2="413.9" y2="745.75" stroke="#555" stroke-width="0.9" />
<circle cx="411.3" cy="730.26" r="2.1" fill="none" stroke="#5c9fe6" stroke-width="1.1"/>
<circle cx="411.3" cy="744.84" r="2.1" fill="none" stroke="#5c9fe6" stroke-width="1.1"/>
<line x1="386" y1="716.1" x2="386" y2="807.7" stroke="#3c3c3c" stroke-width="1.2" />
<line x1="385.5" y1="807.7" x2="421.5" y2="807.7" stroke="#3c3c3c" stroke-width="1.2" />
<line x1="382.4" y1="807.7" x2="386" y2="807.7" stroke="#3c3c3c" stroke-width="1.1" />
<text x="380.6" y="811.2" font-size="9.8" font-weight="bold" text-anchor="end" fill="#1a1a1a" >0.0</text>
<line x1="382.4" y1="789.48" x2="386" y2="789.48" stroke="#3c3c3c" stroke-width="1.1" />
<text x="380.6" y="792.98" font-size="9.8" font-weight="bold" text-anchor="end" fill="#1a1a1a" >0.2</text>
<line x1="382.4" y1="771.26" x2="386" y2="771.26" stroke="#3c3c3c" stroke-width="1.1" />
<text x="380.6" y="774.76" font-size="9.8" font-weight="bold" text-anchor="end" fill="#1a1a1a" >0.4</text>
<line x1="382.4" y1="753.04" x2="386" y2="753.04" stroke="#3c3c3c" stroke-width="1.1" />
<text x="380.6" y="756.54" font-size="9.8" font-weight="bold" text-anchor="end" fill="#1a1a1a" >0.6</text>
<line x1="382.4" y1="734.82" x2="386" y2="734.82" stroke="#3c3c3c" stroke-width="1.1" />
<text x="380.6" y="738.32" font-size="9.8" font-weight="bold" text-anchor="end" fill="#1a1a1a" >0.8</text>
<line x1="382.4" y1="716.6" x2="386" y2="716.6" stroke="#3c3c3c" stroke-width="1.1" />
<text x="380.6" y="720.1" font-size="9.8" font-weight="bold" text-anchor="end" fill="#1a1a1a" >1.0</text>
<line x1="396.2" y1="807.7" x2="396.2" y2="811.3" stroke="#3c3c3c" stroke-width="1.1" />
<line x1="411.3" y1="807.7" x2="411.3" y2="811.3" stroke="#3c3c3c" stroke-width="1.1" />
<text x="0" y="0" font-size="12.8" font-weight="bold" text-anchor="end" fill="#111" transform="translate(401,822.3) rotate(-45)">6+</text>
<text x="0" y="0" font-size="12.8" font-weight="bold" text-anchor="end" fill="#111" transform="translate(416.1,822.3) rotate(-45)">6-</text>
<rect x="458.9" y="803.15" width="9.6" height="4.56" fill="#fff" stroke="#111" stroke-width="1.3"/>
<circle cx="460.9" cy="804.06" r="2.1" fill="none" stroke="#e2692c" stroke-width="1.1"/>
<circle cx="466.5" cy="802.23" r="2.1" fill="none" stroke="#e2692c" stroke-width="1.1"/>
<rect x="474" y="734.82" width="9.6" height="72.88" fill="#fff" stroke="#111" stroke-width="1.3"/>
<line x1="478.8" y1="739.68" x2="478.8" y2="729.35" stroke="#555" stroke-width="0.9" />
<line x1="476.2" y1="729.35" x2="481.4" y2="729.35" stroke="#555" stroke-width="0.9" />
<line x1="476.2" y1="739.68" x2="481.4" y2="739.68" stroke="#555" stroke-width="0.9" />
<circle cx="478.8" cy="728.75" r="2.1" fill="none" stroke="#5c9fe6" stroke-width="1.1"/>
<circle cx="478.8" cy="739.68" r="2.1" fill="none" stroke="#5c9fe6" stroke-width="1.1"/>
<line x1="453.5" y1="716.1" x2="453.5" y2="807.7" stroke="#3c3c3c" stroke-width="1.2" />
<line x1="453" y1="807.7" x2="489" y2="807.7" stroke="#3c3c3c" stroke-width="1.2" />
<line x1="449.9" y1="807.7" x2="453.5" y2="807.7" stroke="#3c3c3c" stroke-width="1.1" />
<text x="448.1" y="811.2" font-size="9.8" font-weight="bold" text-anchor="end" fill="#1a1a1a" >0</text>
<line x1="449.9" y1="777.33" x2="453.5" y2="777.33" stroke="#3c3c3c" stroke-width="1.1" />
<text x="448.1" y="780.83" font-size="9.8" font-weight="bold" text-anchor="end" fill="#1a1a1a" >500</text>
<line x1="449.9" y1="746.97" x2="453.5" y2="746.97" stroke="#3c3c3c" stroke-width="1.1" />
<text x="448.1" y="750.47" font-size="9.8" font-weight="bold" text-anchor="end" fill="#1a1a1a" >1000</text>
<line x1="449.9" y1="716.6" x2="453.5" y2="716.6" stroke="#3c3c3c" stroke-width="1.1" />
<text x="448.1" y="720.1" font-size="9.8" font-weight="bold" text-anchor="end" fill="#1a1a1a" >1500</text>
<line x1="463.7" y1="807.7" x2="463.7" y2="811.3" stroke="#3c3c3c" stroke-width="1.1" />
<line x1="478.8" y1="807.7" x2="478.8" y2="811.3" stroke="#3c3c3c" stroke-width="1.1" />
<text x="0" y="0" font-size="12.8" font-weight="bold" text-anchor="end" fill="#111" transform="translate(468.5,822.3) rotate(-45)">6+</text>
<text x="0" y="0" font-size="12.8" font-weight="bold" text-anchor="end" fill="#111" transform="translate(483.6,822.3) rotate(-45)">6-</text>
<rect x="525.6" y="767.16" width="9.6" height="40.54" fill="#fff" stroke="#111" stroke-width="1.3"/>
<circle cx="527.6" cy="768.53" r="2.1" fill="none" stroke="#e2692c" stroke-width="1.1"/>
<circle cx="533.2" cy="765.34" r="2.1" fill="none" stroke="#e2692c" stroke-width="1.1"/>
<rect x="540.7" y="802.23" width="9.6" height="5.47" fill="#fff" stroke="#111" stroke-width="1.3"/>
<circle cx="542.7" cy="803.15" r="2.1" fill="none" stroke="#5c9fe6" stroke-width="1.1"/>
<circle cx="548.3" cy="801.32" r="2.1" fill="none" stroke="#5c9fe6" stroke-width="1.1"/>
<line x1="520.2" y1="716.1" x2="520.2" y2="807.7" stroke="#3c3c3c" stroke-width="1.2" />
<line x1="519.7" y1="807.7" x2="555.7" y2="807.7" stroke="#3c3c3c" stroke-width="1.2" />
<line x1="516.6" y1="807.7" x2="520.2" y2="807.7" stroke="#3c3c3c" stroke-width="1.1" />
<text x="514.8" y="811.2" font-size="9.8" font-weight="bold" text-anchor="end" fill="#1a1a1a" >0.0</text>
<line x1="516.6" y1="784.93" x2="520.2" y2="784.93" stroke="#3c3c3c" stroke-width="1.1" />
<text x="514.8" y="788.43" font-size="9.8" font-weight="bold" text-anchor="end" fill="#1a1a1a" >0.5</text>
<line x1="516.6" y1="762.15" x2="520.2" y2="762.15" stroke="#3c3c3c" stroke-width="1.1" />
<text x="514.8" y="765.65" font-size="9.8" font-weight="bold" text-anchor="end" fill="#1a1a1a" >1.0</text>
<line x1="516.6" y1="739.38" x2="520.2" y2="739.38" stroke="#3c3c3c" stroke-width="1.1" />
<text x="514.8" y="742.88" font-size="9.8" font-weight="bold" text-anchor="end" fill="#1a1a1a" >1.5</text>
<line x1="516.6" y1="716.6" x2="520.2" y2="716.6" stroke="#3c3c3c" stroke-width="1.1" />
<text x="514.8" y="720.1" font-size="9.8" font-weight="bold" text-anchor="end" fill="#1a1a1a" >2.0</text>
<line x1="530.4" y1="807.7" x2="530.4" y2="811.3" stroke="#3c3c3c" stroke-width="1.1" />
<line x1="545.5" y1="807.7" x2="545.5" y2="811.3" stroke="#3c3c3c" stroke-width="1.1" />
<text x="0" y="0" font-size="12.8" font-weight="bold" text-anchor="end" fill="#111" transform="translate(535.2,822.3) rotate(-45)">6+</text>
<text x="0" y="0" font-size="12.8" font-weight="bold" text-anchor="end" fill="#111" transform="translate(550.3,822.3) rotate(-45)">6-</text>
<rect x="583.6" y="806.56" width="9.6" height="1.14" fill="#fff" stroke="#111" stroke-width="1.3"/>
<circle cx="585.6" cy="806.56" r="2.1" fill="none" stroke="#e2692c" stroke-width="1.1"/>
<circle cx="591.2" cy="806.33" r="2.1" fill="none" stroke="#e2692c" stroke-width="1.1"/>
<rect x="598.7" y="743.25" width="9.6" height="64.45" fill="#fff" stroke="#111" stroke-width="1.3"/>
<line x1="603.5" y1="745.07" x2="603.5" y2="740.97" stroke="#555" stroke-width="0.9" />
<line x1="600.9" y1="740.97" x2="606.1" y2="740.97" stroke="#555" stroke-width="0.9" />
<line x1="600.9" y1="745.07" x2="606.1" y2="745.07" stroke="#555" stroke-width="0.9" />
<circle cx="600.7" cy="744.84" r="2.1" fill="none" stroke="#5c9fe6" stroke-width="1.1"/>
<circle cx="606.3" cy="741.2" r="2.1" fill="none" stroke="#5c9fe6" stroke-width="1.1"/>
<line x1="578.2" y1="716.1" x2="578.2" y2="807.7" stroke="#3c3c3c" stroke-width="1.2" />
<line x1="577.7" y1="807.7" x2="613.7" y2="807.7" stroke="#3c3c3c" stroke-width="1.2" />
<line x1="574.6" y1="807.7" x2="578.2" y2="807.7" stroke="#3c3c3c" stroke-width="1.1" />
<text x="572.8" y="811.2" font-size="9.8" font-weight="bold" text-anchor="end" fill="#1a1a1a" >0</text>
<line x1="574.6" y1="784.93" x2="578.2" y2="784.93" stroke="#3c3c3c" stroke-width="1.1" />
<text x="572.8" y="788.43" font-size="9.8" font-weight="bold" text-anchor="end" fill="#1a1a1a" >10</text>
<line x1="574.6" y1="762.15" x2="578.2" y2="762.15" stroke="#3c3c3c" stroke-width="1.1" />
<text x="572.8" y="765.65" font-size="9.8" font-weight="bold" text-anchor="end" fill="#1a1a1a" >20</text>
<line x1="574.6" y1="739.38" x2="578.2" y2="739.38" stroke="#3c3c3c" stroke-width="1.1" />
<text x="572.8" y="742.88" font-size="9.8" font-weight="bold" text-anchor="end" fill="#1a1a1a" >30</text>
<line x1="574.6" y1="716.6" x2="578.2" y2="716.6" stroke="#3c3c3c" stroke-width="1.1" />
<text x="572.8" y="720.1" font-size="9.8" font-weight="bold" text-anchor="end" fill="#1a1a1a" >40</text>
<line x1="588.4" y1="807.7" x2="588.4" y2="811.3" stroke="#3c3c3c" stroke-width="1.1" />
<line x1="603.5" y1="807.7" x2="603.5" y2="811.3" stroke="#3c3c3c" stroke-width="1.1" />
<text x="0" y="0" font-size="12.8" font-weight="bold" text-anchor="end" fill="#111" transform="translate(593.2,822.3) rotate(-45)">6+</text>
<text x="0" y="0" font-size="12.8" font-weight="bold" text-anchor="end" fill="#111" transform="translate(608.3,822.3) rotate(-45)">6-</text>
<rect x="646.5" y="763.52" width="9.6" height="44.18" fill="#fff" stroke="#111" stroke-width="1.3"/>
<circle cx="648.5" cy="764.43" r="2.1" fill="none" stroke="#e2692c" stroke-width="1.1"/>
<circle cx="654.1" cy="762.61" r="2.1" fill="none" stroke="#e2692c" stroke-width="1.1"/>
<rect x="661.6" y="802.23" width="9.6" height="5.47" fill="#fff" stroke="#111" stroke-width="1.3"/>
<line x1="666.4" y1="805.42" x2="666.4" y2="799.5" stroke="#555" stroke-width="0.9" />
<line x1="663.8" y1="799.5" x2="669" y2="799.5" stroke="#555" stroke-width="0.9" />
<line x1="663.8" y1="805.42" x2="669" y2="805.42" stroke="#555" stroke-width="0.9" />
<circle cx="663.6" cy="804.06" r="2.1" fill="none" stroke="#5c9fe6" stroke-width="1.1"/>
<circle cx="669.2" cy="799.96" r="2.1" fill="none" stroke="#5c9fe6" stroke-width="1.1"/>
<line x1="641.1" y1="716.1" x2="641.1" y2="807.7" stroke="#3c3c3c" stroke-width="1.2" />
<line x1="640.6" y1="807.7" x2="676.6" y2="807.7" stroke="#3c3c3c" stroke-width="1.2" />
<line x1="637.5" y1="807.7" x2="641.1" y2="807.7" stroke="#3c3c3c" stroke-width="1.1" />
<text x="635.7" y="811.2" font-size="9.8" font-weight="bold" text-anchor="end" fill="#1a1a1a" >0.0</text>
<line x1="637.5" y1="784.93" x2="641.1" y2="784.93" stroke="#3c3c3c" stroke-width="1.1" />
<text x="635.7" y="788.43" font-size="9.8" font-weight="bold" text-anchor="end" fill="#1a1a1a" >0.5</text>
<line x1="637.5" y1="762.15" x2="641.1" y2="762.15" stroke="#3c3c3c" stroke-width="1.1" />
<text x="635.7" y="765.65" font-size="9.8" font-weight="bold" text-anchor="end" fill="#1a1a1a" >1.0</text>
<line x1="637.5" y1="739.38" x2="641.1" y2="739.38" stroke="#3c3c3c" stroke-width="1.1" />
<text x="635.7" y="742.88" font-size="9.8" font-weight="bold" text-anchor="end" fill="#1a1a1a" >1.5</text>
<line x1="637.5" y1="716.6" x2="641.1" y2="716.6" stroke="#3c3c3c" stroke-width="1.1" />
<text x="635.7" y="720.1" font-size="9.8" font-weight="bold" text-anchor="end" fill="#1a1a1a" >2.0</text>
<line x1="651.3" y1="807.7" x2="651.3" y2="811.3" stroke="#3c3c3c" stroke-width="1.1" />
<line x1="666.4" y1="807.7" x2="666.4" y2="811.3" stroke="#3c3c3c" stroke-width="1.1" />
<text x="0" y="0" font-size="12.8" font-weight="bold" text-anchor="end" fill="#111" transform="translate(656.1,822.3) rotate(-45)">6+</text>
<text x="0" y="0" font-size="12.8" font-weight="bold" text-anchor="end" fill="#111" transform="translate(671.2,822.3) rotate(-45)">6-</text>
<rect x="390.6" y="899.52" width="10.2" height="37.68" fill="#fff" stroke="#111" stroke-width="1.3"/>
<line x1="395.7" y1="904.42" x2="395.7" y2="895.75" stroke="#555" stroke-width="0.9" />
<line x1="393.1" y1="895.75" x2="398.3" y2="895.75" stroke="#555" stroke-width="0.9" />
<line x1="393.1" y1="904.42" x2="398.3" y2="904.42" stroke="#555" stroke-width="0.9" />
<circle cx="395.7" cy="896.88" r="2.1" fill="none" stroke="#e2692c" stroke-width="1.1"/>
<circle cx="392.7" cy="900.27" r="2.1" fill="none" stroke="#e2692c" stroke-width="1.1"/>
<circle cx="395.7" cy="905.17" r="2.1" fill="none" stroke="#e2692c" stroke-width="1.1"/>
<rect x="406.3" y="860.71" width="10.2" height="76.49" fill="#fff" stroke="#111" stroke-width="1.3"/>
<circle cx="408.2" cy="859.96" r="2.1" fill="none" stroke="#5c9fe6" stroke-width="1.1"/>
<circle cx="411.4" cy="861.84" r="2.1" fill="none" stroke="#5c9fe6" stroke-width="1.1"/>
<circle cx="414.6" cy="861.09" r="2.1" fill="none" stroke="#5c9fe6" stroke-width="1.1"/>
<line x1="385.2" y1="842.5" x2="385.2" y2="937.2" stroke="#3c3c3c" stroke-width="1.2" />
<line x1="384.7" y1="937.2" x2="421.5" y2="937.2" stroke="#3c3c3c" stroke-width="1.2" />
<line x1="381.6" y1="937.2" x2="385.2" y2="937.2" stroke="#3c3c3c" stroke-width="1.1" />
<text x="379.8" y="940.7" font-size="9.8" font-weight="bold" text-anchor="end" fill="#1a1a1a" >0.0</text>
<line x1="381.6" y1="918.36" x2="385.2" y2="918.36" stroke="#3c3c3c" stroke-width="1.1" />
<text x="379.8" y="921.86" font-size="9.8" font-weight="bold" text-anchor="end" fill="#1a1a1a" >0.5</text>
<line x1="381.6" y1="899.52" x2="385.2" y2="899.52" stroke="#3c3c3c" stroke-width="1.1" />
<text x="379.8" y="903.02" font-size="9.8" font-weight="bold" text-anchor="end" fill="#1a1a1a" >1.0</text>
<line x1="381.6" y1="880.68" x2="385.2" y2="880.68" stroke="#3c3c3c" stroke-width="1.1" />
<text x="379.8" y="884.18" font-size="9.8" font-weight="bold" text-anchor="end" fill="#1a1a1a" >1.5</text>
<line x1="381.6" y1="861.84" x2="385.2" y2="861.84" stroke="#3c3c3c" stroke-width="1.1" />
<text x="379.8" y="865.34" font-size="9.8" font-weight="bold" text-anchor="end" fill="#1a1a1a" >2.0</text>
<line x1="381.6" y1="843" x2="385.2" y2="843" stroke="#3c3c3c" stroke-width="1.1" />
<text x="379.8" y="846.5" font-size="9.8" font-weight="bold" text-anchor="end" fill="#1a1a1a" >2.5</text>
<line x1="395.7" y1="937.2" x2="395.7" y2="940.8" stroke="#3c3c3c" stroke-width="1.1" />
<line x1="411.4" y1="937.2" x2="411.4" y2="940.8" stroke="#3c3c3c" stroke-width="1.1" />
<text x="0" y="0" font-size="12.8" font-weight="bold" text-anchor="end" fill="#111" transform="translate(400.5,951.8) rotate(-45)">6+</text>
<text x="0" y="0" font-size="12.8" font-weight="bold" text-anchor="end" fill="#111" transform="translate(416.2,951.8) rotate(-45)">6-</text>
<polyline points="395.7,890.05 395.7,847.6 411.4,847.6 411.4,854.26" fill="none" stroke="#222" stroke-width="1.0"/>
<text x="403.55" y="848.5" font-size="12.5" font-weight="bold" text-anchor="middle" fill="#111" letter-spacing="0.6">***</text>
<rect x="458.4" y="931.55" width="10.2" height="5.65" fill="#fff" stroke="#111" stroke-width="1.3"/>
<circle cx="460.3" cy="930.29" r="2.1" fill="none" stroke="#e2692c" stroke-width="1.1"/>
<circle cx="463.5" cy="932.18" r="2.1" fill="none" stroke="#e2692c" stroke-width="1.1"/>
<circle cx="466.7" cy="931.86" r="2.1" fill="none" stroke="#e2692c" stroke-width="1.1"/>
<rect x="474.1" y="878.17" width="10.2" height="59.03" fill="#fff" stroke="#111" stroke-width="1.3"/>
<line x1="479.2" y1="884.45" x2="479.2" y2="871.26" stroke="#555" stroke-width="0.9" />
<line x1="476.6" y1="871.26" x2="481.8" y2="871.26" stroke="#555" stroke-width="0.9" />
<line x1="476.6" y1="884.45" x2="481.8" y2="884.45" stroke="#555" stroke-width="0.9" />
<circle cx="479.2" cy="871.26" r="2.1" fill="none" stroke="#5c9fe6" stroke-width="1.1"/>
<circle cx="479.2" cy="880.68" r="2.1" fill="none" stroke="#5c9fe6" stroke-width="1.1"/>
<circle cx="473.2" cy="880.68" r="2.1" fill="none" stroke="#5c9fe6" stroke-width="1.1"/>
<line x1="453" y1="842.5" x2="453" y2="937.2" stroke="#3c3c3c" stroke-width="1.2" />
<line x1="452.5" y1="937.2" x2="489.3" y2="937.2" stroke="#3c3c3c" stroke-width="1.2" />
<line x1="449.4" y1="937.2" x2="453" y2="937.2" stroke="#3c3c3c" stroke-width="1.1" />
<text x="447.6" y="940.7" font-size="9.8" font-weight="bold" text-anchor="end" fill="#1a1a1a" >0</text>
<line x1="449.4" y1="905.8" x2="453" y2="905.8" stroke="#3c3c3c" stroke-width="1.1" />
<text x="447.6" y="909.3" font-size="9.8" font-weight="bold" text-anchor="end" fill="#1a1a1a" >5</text>
<line x1="449.4" y1="874.4" x2="453" y2="874.4" stroke="#3c3c3c" stroke-width="1.1" />
<text x="447.6" y="877.9" font-size="9.8" font-weight="bold" text-anchor="end" fill="#1a1a1a" >10</text>
<line x1="449.4" y1="843" x2="453" y2="843" stroke="#3c3c3c" stroke-width="1.1" />
<text x="447.6" y="846.5" font-size="9.8" font-weight="bold" text-anchor="end" fill="#1a1a1a" >15</text>
<line x1="463.5" y1="937.2" x2="463.5" y2="940.8" stroke="#3c3c3c" stroke-width="1.1" />
<line x1="479.2" y1="937.2" x2="479.2" y2="940.8" stroke="#3c3c3c" stroke-width="1.1" />
<text x="0" y="0" font-size="12.8" font-weight="bold" text-anchor="end" fill="#111" transform="translate(468.3,951.8) rotate(-45)">6+</text>
<text x="0" y="0" font-size="12.8" font-weight="bold" text-anchor="end" fill="#111" transform="translate(484,951.8) rotate(-45)">6-</text>
<polyline points="463.5,924.59 463.5,858.9 479.2,858.9 479.2,865.56" fill="none" stroke="#222" stroke-width="1.0"/>
<text x="471.35" y="859.8" font-size="12.5" font-weight="bold" text-anchor="middle" fill="#111" letter-spacing="0.6">***</text>
<rect x="525.5" y="874.4" width="10.2" height="62.8" fill="#fff" stroke="#111" stroke-width="1.3"/>
<line x1="530.6" y1="885.7" x2="530.6" y2="862.47" stroke="#555" stroke-width="0.9" />
<line x1="528" y1="862.47" x2="533.2" y2="862.47" stroke="#555" stroke-width="0.9" />
<line x1="528" y1="885.7" x2="533.2" y2="885.7" stroke="#555" stroke-width="0.9" />
<circle cx="527.6" cy="864.98" r="2.1" fill="none" stroke="#e2692c" stroke-width="1.1"/>
<circle cx="533.6" cy="868.12" r="2.1" fill="none" stroke="#e2692c" stroke-width="1.1"/>
<circle cx="530.6" cy="885.7" r="2.1" fill="none" stroke="#e2692c" stroke-width="1.1"/>
<rect x="541.2" y="934.69" width="10.2" height="2.51" fill="#fff" stroke="#111" stroke-width="1.3"/>
<circle cx="543.1" cy="934.69" r="2.1" fill="none" stroke="#5c9fe6" stroke-width="1.1"/>
<circle cx="546.3" cy="934.69" r="2.1" fill="none" stroke="#5c9fe6" stroke-width="1.1"/>
<circle cx="549.5" cy="934.69" r="2.1" fill="none" stroke="#5c9fe6" stroke-width="1.1"/>
<line x1="520.1" y1="842.5" x2="520.1" y2="937.2" stroke="#3c3c3c" stroke-width="1.2" />
<line x1="519.6" y1="937.2" x2="556.4" y2="937.2" stroke="#3c3c3c" stroke-width="1.2" />
<line x1="516.5" y1="937.2" x2="520.1" y2="937.2" stroke="#3c3c3c" stroke-width="1.1" />
<text x="514.7" y="940.7" font-size="9.8" font-weight="bold" text-anchor="end" fill="#1a1a1a" >0.0</text>
<line x1="516.5" y1="905.8" x2="520.1" y2="905.8" stroke="#3c3c3c" stroke-width="1.1" />
<text x="514.7" y="909.3" font-size="9.8" font-weight="bold" text-anchor="end" fill="#1a1a1a" >0.5</text>
<line x1="516.5" y1="874.4" x2="520.1" y2="874.4" stroke="#3c3c3c" stroke-width="1.1" />
<text x="514.7" y="877.9" font-size="9.8" font-weight="bold" text-anchor="end" fill="#1a1a1a" >1.0</text>
<line x1="516.5" y1="843" x2="520.1" y2="843" stroke="#3c3c3c" stroke-width="1.1" />
<text x="514.7" y="846.5" font-size="9.8" font-weight="bold" text-anchor="end" fill="#1a1a1a" >1.5</text>
<line x1="530.6" y1="937.2" x2="530.6" y2="940.8" stroke="#3c3c3c" stroke-width="1.1" />
<line x1="546.3" y1="937.2" x2="546.3" y2="940.8" stroke="#3c3c3c" stroke-width="1.1" />
<text x="0" y="0" font-size="12.8" font-weight="bold" text-anchor="end" fill="#111" transform="translate(535.4,951.8) rotate(-45)">6+</text>
<text x="0" y="0" font-size="12.8" font-weight="bold" text-anchor="end" fill="#111" transform="translate(551.1,951.8) rotate(-45)">6-</text>
<polyline points="530.6,856.77 530.6,851.4 546.3,851.4 546.3,928.99" fill="none" stroke="#222" stroke-width="1.0"/>
<text x="538.45" y="852.3" font-size="12.5" font-weight="bold" text-anchor="middle" fill="#111" letter-spacing="0.6">***</text>
<rect x="582.1" y="935.32" width="10.2" height="1.88" fill="#fff" stroke="#111" stroke-width="1.3"/>
<circle cx="584" cy="935.32" r="2.1" fill="none" stroke="#e2692c" stroke-width="1.1"/>
<circle cx="587.2" cy="935.32" r="2.1" fill="none" stroke="#e2692c" stroke-width="1.1"/>
<circle cx="590.4" cy="935.32" r="2.1" fill="none" stroke="#e2692c" stroke-width="1.1"/>
<rect x="597.8" y="878.33" width="10.2" height="58.88" fill="#fff" stroke="#111" stroke-width="1.3"/>
<line x1="602.9" y1="890.57" x2="602.9" y2="866.08" stroke="#555" stroke-width="0.9" />
<line x1="600.3" y1="866.08" x2="605.5" y2="866.08" stroke="#555" stroke-width="0.9" />
<line x1="600.3" y1="890.57" x2="605.5" y2="890.57" stroke="#555" stroke-width="0.9" />
<circle cx="602.9" cy="863.02" r="2.1" fill="none" stroke="#5c9fe6" stroke-width="1.1"/>
<circle cx="599.9" cy="885.39" r="2.1" fill="none" stroke="#5c9fe6" stroke-width="1.1"/>
<circle cx="605.9" cy="885.39" r="2.1" fill="none" stroke="#5c9fe6" stroke-width="1.1"/>
<line x1="576.7" y1="842.5" x2="576.7" y2="937.2" stroke="#3c3c3c" stroke-width="1.2" />
<line x1="576.2" y1="937.2" x2="613" y2="937.2" stroke="#3c3c3c" stroke-width="1.2" />
<line x1="573.1" y1="937.2" x2="576.7" y2="937.2" stroke="#3c3c3c" stroke-width="1.1" />
<text x="571.3" y="940.7" font-size="9.8" font-weight="bold" text-anchor="end" fill="#1a1a1a" >0</text>
<line x1="573.1" y1="913.65" x2="576.7" y2="913.65" stroke="#3c3c3c" stroke-width="1.1" />
<text x="571.3" y="917.15" font-size="9.8" font-weight="bold" text-anchor="end" fill="#1a1a1a" >10</text>
<line x1="573.1" y1="890.1" x2="576.7" y2="890.1" stroke="#3c3c3c" stroke-width="1.1" />
<text x="571.3" y="893.6" font-size="9.8" font-weight="bold" text-anchor="end" fill="#1a1a1a" >20</text>
<line x1="573.1" y1="866.55" x2="576.7" y2="866.55" stroke="#3c3c3c" stroke-width="1.1" />
<text x="571.3" y="870.05" font-size="9.8" font-weight="bold" text-anchor="end" fill="#1a1a1a" >30</text>
<line x1="573.1" y1="843" x2="576.7" y2="843" stroke="#3c3c3c" stroke-width="1.1" />
<text x="571.3" y="846.5" font-size="9.8" font-weight="bold" text-anchor="end" fill="#1a1a1a" >40</text>
<line x1="587.2" y1="937.2" x2="587.2" y2="940.8" stroke="#3c3c3c" stroke-width="1.1" />
<line x1="602.9" y1="937.2" x2="602.9" y2="940.8" stroke="#3c3c3c" stroke-width="1.1" />
<text x="0" y="0" font-size="12.8" font-weight="bold" text-anchor="end" fill="#111" transform="translate(592,951.8) rotate(-45)">6+</text>
<text x="0" y="0" font-size="12.8" font-weight="bold" text-anchor="end" fill="#111" transform="translate(607.7,951.8) rotate(-45)">6-</text>
<polyline points="587.2,929.62 587.2,851.4 602.9,851.4 602.9,857.32" fill="none" stroke="#222" stroke-width="1.0"/>
<text x="595.05" y="852.3" font-size="12.5" font-weight="bold" text-anchor="middle" fill="#111" letter-spacing="0.6">**</text>
<rect x="645.3" y="888.22" width="10.2" height="48.98" fill="#fff" stroke="#111" stroke-width="1.3"/>
<line x1="650.4" y1="906.59" x2="650.4" y2="868.9" stroke="#555" stroke-width="0.9" />
<line x1="647.8" y1="868.9" x2="653" y2="868.9" stroke="#555" stroke-width="0.9" />
<line x1="647.8" y1="906.59" x2="653" y2="906.59" stroke="#555" stroke-width="0.9" />
<circle cx="650.4" cy="866.55" r="2.1" fill="none" stroke="#e2692c" stroke-width="1.1"/>
<circle cx="653.4" cy="897.17" r="2.1" fill="none" stroke="#e2692c" stroke-width="1.1"/>
<circle cx="647.4" cy="900.46" r="2.1" fill="none" stroke="#e2692c" stroke-width="1.1"/>
<rect x="661" y="933.43" width="10.2" height="3.77" fill="#fff" stroke="#111" stroke-width="1.3"/>
<circle cx="662.9" cy="933.43" r="2.1" fill="none" stroke="#5c9fe6" stroke-width="1.1"/>
<circle cx="666.1" cy="933.43" r="2.1" fill="none" stroke="#5c9fe6" stroke-width="1.1"/>
<circle cx="669.3" cy="933.43" r="2.1" fill="none" stroke="#5c9fe6" stroke-width="1.1"/>
<line x1="639.9" y1="842.5" x2="639.9" y2="937.2" stroke="#3c3c3c" stroke-width="1.2" />
<line x1="639.4" y1="937.2" x2="676.2" y2="937.2" stroke="#3c3c3c" stroke-width="1.2" />
<line x1="636.3" y1="937.2" x2="639.9" y2="937.2" stroke="#3c3c3c" stroke-width="1.1" />
<text x="634.5" y="940.7" font-size="9.8" font-weight="bold" text-anchor="end" fill="#1a1a1a" >0.0</text>
<line x1="636.3" y1="913.65" x2="639.9" y2="913.65" stroke="#3c3c3c" stroke-width="1.1" />
<text x="634.5" y="917.15" font-size="9.8" font-weight="bold" text-anchor="end" fill="#1a1a1a" >0.5</text>
<line x1="636.3" y1="890.1" x2="639.9" y2="890.1" stroke="#3c3c3c" stroke-width="1.1" />
<text x="634.5" y="893.6" font-size="9.8" font-weight="bold" text-anchor="end" fill="#1a1a1a" >1.0</text>
<line x1="636.3" y1="866.55" x2="639.9" y2="866.55" stroke="#3c3c3c" stroke-width="1.1" />
<text x="634.5" y="870.05" font-size="9.8" font-weight="bold" text-anchor="end" fill="#1a1a1a" >1.5</text>
<line x1="636.3" y1="843" x2="639.9" y2="843" stroke="#3c3c3c" stroke-width="1.1" />
<text x="634.5" y="846.5" font-size="9.8" font-weight="bold" text-anchor="end" fill="#1a1a1a" >2.0</text>
<line x1="650.4" y1="937.2" x2="650.4" y2="940.8" stroke="#3c3c3c" stroke-width="1.1" />
<line x1="666.1" y1="937.2" x2="666.1" y2="940.8" stroke="#3c3c3c" stroke-width="1.1" />
<text x="0" y="0" font-size="12.8" font-weight="bold" text-anchor="end" fill="#111" transform="translate(655.2,951.8) rotate(-45)">6+</text>
<text x="0" y="0" font-size="12.8" font-weight="bold" text-anchor="end" fill="#111" transform="translate(670.9,951.8) rotate(-45)">6-</text>
<polyline points="650.4,860.85 650.4,855.5 666.1,855.5 666.1,927.73" fill="none" stroke="#222" stroke-width="1.0"/>
<text x="658.25" y="856.4" font-size="12.5" font-weight="bold" text-anchor="middle" fill="#111" letter-spacing="0.6">*</text>
</svg>
</body></html>
